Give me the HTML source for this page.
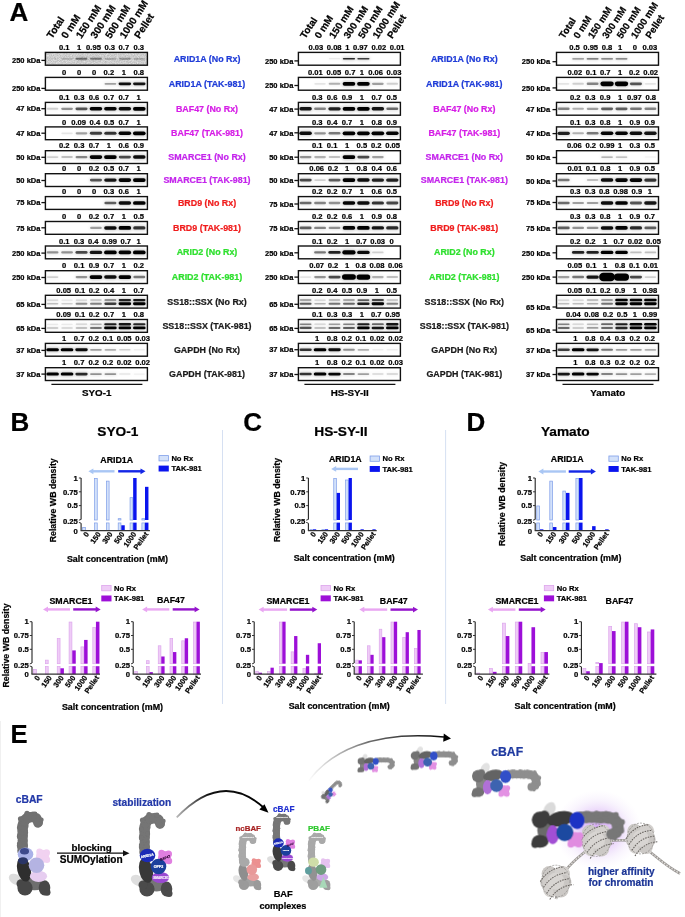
<!DOCTYPE html>
<html><head><meta charset="utf-8"><style>
html,body{margin:0;padding:0;background:#fff;}
svg{display:block;will-change:transform;}
text{font-family:"Liberation Sans",sans-serif;stroke-width:0.22px;}
</style></head><body>
<svg width="685" height="917" viewBox="0 0 685 917">
<defs>
<filter id="bl" x="-50%" y="-100%" width="200%" height="300%"><feGaussianBlur stdDeviation="0.7"/></filter>
<filter id="bl03" x="-20%" y="-20%" width="140%" height="140%"><feGaussianBlur stdDeviation="0.35"/></filter>
<filter id="bl2" x="-50%" y="-50%" width="200%" height="200%"><feGaussianBlur stdDeviation="1.5"/></filter>
<filter id="nz" x="0" y="0" width="100%" height="100%"><feTurbulence type="fractalNoise" baseFrequency="0.9" numOctaves="2" seed="3"/><feColorMatrix type="matrix" values="0 0 0 0 0  0 0 0 0 0  0 0 0 0 0  0 0 0 -1.2 1.05"/></filter>
<pattern id="noise" patternUnits="userSpaceOnUse" width="102" height="14"><rect width="102" height="14" fill="#e9e9e9"/><rect width="102" height="14" filter="url(#nz)" opacity="0.24"/></pattern>
</defs>
<rect width="685" height="917" fill="#fff"/>
<text x="9.6" y="20.8" font-size="26" font-weight="bold" stroke="#000">A</text>
<text x="52.0" y="39.3" font-size="10.2" font-weight="bold" transform="rotate(-57 52.0 39.3)" stroke="#000">Total</text>
<text x="66.6" y="39.3" font-size="10.2" font-weight="bold" transform="rotate(-57 66.6 39.3)" stroke="#000">0 mM</text>
<text x="81.2" y="39.3" font-size="10.2" font-weight="bold" transform="rotate(-57 81.2 39.3)" stroke="#000">150 mM</text>
<text x="95.8" y="39.3" font-size="10.2" font-weight="bold" transform="rotate(-57 95.8 39.3)" stroke="#000">300 mM</text>
<text x="110.4" y="39.3" font-size="10.2" font-weight="bold" transform="rotate(-57 110.4 39.3)" stroke="#000">500 mM</text>
<text x="125.0" y="39.3" font-size="10.2" font-weight="bold" transform="rotate(-57 125.0 39.3)" stroke="#000">1000 mM</text>
<text x="139.6" y="39.3" font-size="10.2" font-weight="bold" transform="rotate(-57 139.6 39.3)" stroke="#000">Pellet</text>
<rect x="45.4" y="52.4" width="102.0" height="12.8" fill="url(#noise)" stroke="#111" stroke-width="1.4"/>
<rect x="46.28" y="57.02" width="12.64" height="3.57" rx="1.78" fill="#000" fill-opacity="0.01" filter="url(#bl2)"/>
<rect x="46.88" y="58.02" width="11.44" height="1.57" rx="0.78" fill="#000" fill-opacity="0.06" filter="url(#bl)"/>
<rect x="60.70" y="56.97" width="12.70" height="3.66" rx="1.83" fill="#000" fill-opacity="0.03" filter="url(#bl2)"/>
<rect x="61.30" y="57.97" width="11.50" height="1.66" rx="0.83" fill="#000" fill-opacity="0.14" filter="url(#bl)"/>
<rect x="74.99" y="56.73" width="13.02" height="4.14" rx="2.07" fill="#000" fill-opacity="0.10" filter="url(#bl2)"/>
<rect x="75.59" y="57.73" width="11.82" height="2.14" rx="1.07" fill="#000" fill-opacity="0.44" filter="url(#bl)"/>
<rect x="89.47" y="56.77" width="12.96" height="4.05" rx="2.03" fill="#000" fill-opacity="0.09" filter="url(#bl2)"/>
<rect x="90.07" y="57.77" width="11.76" height="2.05" rx="1.03" fill="#000" fill-opacity="0.39" filter="url(#bl)"/>
<rect x="104.03" y="56.94" width="12.74" height="3.73" rx="1.86" fill="#000" fill-opacity="0.04" filter="url(#bl2)"/>
<rect x="104.63" y="57.94" width="11.54" height="1.73" rx="0.86" fill="#000" fill-opacity="0.19" filter="url(#bl)"/>
<rect x="118.43" y="56.86" width="12.84" height="3.87" rx="1.94" fill="#000" fill-opacity="0.06" filter="url(#bl2)"/>
<rect x="119.03" y="57.86" width="11.64" height="1.87" rx="0.94" fill="#000" fill-opacity="0.28" filter="url(#bl)"/>
<rect x="132.93" y="56.94" width="12.74" height="3.73" rx="1.86" fill="#000" fill-opacity="0.04" filter="url(#bl2)"/>
<rect x="133.53" y="57.94" width="11.54" height="1.73" rx="0.86" fill="#000" fill-opacity="0.19" filter="url(#bl)"/>
<line x1="41.4" y1="60.4" x2="45.4" y2="60.4" stroke="#111" stroke-width="1.3"/>
<text x="40.4" y="63.1" font-size="7.5" font-weight="bold" text-anchor="end" stroke="#000">250 kDa</text>
<text x="64.2" y="50.0" font-size="7.6" font-weight="bold" text-anchor="middle" stroke="#000">0.1</text>
<text x="79.1" y="50.0" font-size="7.6" font-weight="bold" text-anchor="middle" stroke="#000">1</text>
<text x="93.5" y="50.0" font-size="7.6" font-weight="bold" text-anchor="middle" stroke="#000">0.95</text>
<text x="109.8" y="50.0" font-size="7.6" font-weight="bold" text-anchor="middle" stroke="#000">0.3</text>
<text x="123.9" y="50.0" font-size="7.6" font-weight="bold" text-anchor="middle" stroke="#000">0.7</text>
<text x="138.7" y="50.0" font-size="7.6" font-weight="bold" text-anchor="middle" stroke="#000">0.3</text>
<rect x="45.4" y="77.4" width="102.0" height="12.8" fill="#fff" stroke="#111" stroke-width="1.4"/>
<rect x="103.95" y="81.93" width="12.90" height="3.74" rx="1.87" fill="#000" fill-opacity="0.07" filter="url(#bl2)"/>
<rect x="104.55" y="82.93" width="11.70" height="1.74" rx="0.87" fill="#000" fill-opacity="0.34" filter="url(#bl)"/>
<rect x="118.01" y="81.41" width="13.68" height="4.78" rx="2.39" fill="#000" fill-opacity="0.21" filter="url(#bl2)"/>
<rect x="118.61" y="82.41" width="12.48" height="2.78" rx="1.39" fill="#000" fill-opacity="0.94" filter="url(#bl)"/>
<rect x="132.49" y="81.45" width="13.62" height="4.70" rx="2.35" fill="#000" fill-opacity="0.20" filter="url(#bl2)"/>
<rect x="133.09" y="82.45" width="12.42" height="2.70" rx="1.35" fill="#000" fill-opacity="0.90" filter="url(#bl)"/>
<line x1="41.4" y1="88.4" x2="45.4" y2="88.4" stroke="#111" stroke-width="1.3"/>
<text x="40.4" y="91.1" font-size="7.5" font-weight="bold" text-anchor="end" stroke="#000">250 kDa</text>
<text x="64.2" y="75.0" font-size="7.6" font-weight="bold" text-anchor="middle" stroke="#000">0</text>
<text x="79.1" y="75.0" font-size="7.6" font-weight="bold" text-anchor="middle" stroke="#000">0</text>
<text x="94.0" y="75.0" font-size="7.6" font-weight="bold" text-anchor="middle" stroke="#000">0</text>
<text x="108.9" y="75.0" font-size="7.6" font-weight="bold" text-anchor="middle" stroke="#000">0.2</text>
<text x="123.8" y="75.0" font-size="7.6" font-weight="bold" text-anchor="middle" stroke="#000">1</text>
<text x="138.7" y="75.0" font-size="7.6" font-weight="bold" text-anchor="middle" stroke="#000">0.8</text>
<rect x="45.4" y="102.4" width="102.0" height="12.8" fill="#fff" stroke="#111" stroke-width="1.4"/>
<rect x="46.24" y="106.86" width="12.72" height="3.88" rx="1.94" fill="#000" fill-opacity="0.04" filter="url(#bl2)"/>
<rect x="46.84" y="107.86" width="11.52" height="1.88" rx="0.94" fill="#000" fill-opacity="0.16" filter="url(#bl)"/>
<rect x="60.57" y="106.66" width="12.96" height="4.28" rx="2.14" fill="#000" fill-opacity="0.09" filter="url(#bl2)"/>
<rect x="61.17" y="107.66" width="11.76" height="2.28" rx="1.14" fill="#000" fill-opacity="0.39" filter="url(#bl)"/>
<rect x="74.87" y="106.41" width="13.26" height="4.78" rx="2.39" fill="#000" fill-opacity="0.14" filter="url(#bl2)"/>
<rect x="75.47" y="107.41" width="12.06" height="2.78" rx="1.39" fill="#000" fill-opacity="0.63" filter="url(#bl)"/>
<rect x="89.08" y="106.01" width="13.74" height="5.58" rx="2.79" fill="#000" fill-opacity="0.22" filter="url(#bl2)"/>
<rect x="89.68" y="107.01" width="12.54" height="3.58" rx="1.79" fill="#000" fill-opacity="0.98" filter="url(#bl)"/>
<rect x="103.53" y="106.01" width="13.74" height="5.58" rx="2.79" fill="#000" fill-opacity="0.22" filter="url(#bl2)"/>
<rect x="104.13" y="107.01" width="12.54" height="3.58" rx="1.79" fill="#000" fill-opacity="0.98" filter="url(#bl)"/>
<rect x="118.01" y="106.06" width="13.68" height="5.48" rx="2.74" fill="#000" fill-opacity="0.21" filter="url(#bl2)"/>
<rect x="118.61" y="107.06" width="12.48" height="3.48" rx="1.74" fill="#000" fill-opacity="0.94" filter="url(#bl)"/>
<rect x="132.40" y="105.96" width="13.80" height="5.68" rx="2.84" fill="#000" fill-opacity="0.22" filter="url(#bl2)"/>
<rect x="133.00" y="106.96" width="12.60" height="3.68" rx="1.84" fill="#000" fill-opacity="1.00" filter="url(#bl)"/>
<line x1="41.4" y1="108.7" x2="45.4" y2="108.7" stroke="#111" stroke-width="1.3"/>
<text x="40.4" y="111.4" font-size="7.5" font-weight="bold" text-anchor="end" stroke="#000">47 kDa</text>
<text x="64.2" y="100.0" font-size="7.6" font-weight="bold" text-anchor="middle" stroke="#000">0.1</text>
<text x="79.1" y="100.0" font-size="7.6" font-weight="bold" text-anchor="middle" stroke="#000">0.3</text>
<text x="94.0" y="100.0" font-size="7.6" font-weight="bold" text-anchor="middle" stroke="#000">0.6</text>
<text x="108.9" y="100.0" font-size="7.6" font-weight="bold" text-anchor="middle" stroke="#000">0.7</text>
<text x="123.8" y="100.0" font-size="7.6" font-weight="bold" text-anchor="middle" stroke="#000">0.7</text>
<text x="138.7" y="100.0" font-size="7.6" font-weight="bold" text-anchor="middle" stroke="#000">1</text>
<rect x="45.4" y="126.9" width="102.0" height="12.8" fill="#fff" stroke="#111" stroke-width="1.4"/>
<rect x="60.72" y="131.41" width="12.66" height="3.78" rx="1.89" fill="#000" fill-opacity="0.02" filter="url(#bl2)"/>
<rect x="61.32" y="132.41" width="11.46" height="1.78" rx="0.89" fill="#000" fill-opacity="0.09" filter="url(#bl)"/>
<rect x="75.05" y="131.21" width="12.90" height="4.18" rx="2.09" fill="#000" fill-opacity="0.07" filter="url(#bl2)"/>
<rect x="75.65" y="132.21" width="11.70" height="2.18" rx="1.09" fill="#000" fill-opacity="0.34" filter="url(#bl)"/>
<rect x="89.26" y="130.81" width="13.38" height="4.98" rx="2.49" fill="#000" fill-opacity="0.16" filter="url(#bl2)"/>
<rect x="89.86" y="131.81" width="12.18" height="2.98" rx="1.49" fill="#000" fill-opacity="0.72" filter="url(#bl)"/>
<rect x="103.68" y="130.76" width="13.44" height="5.08" rx="2.54" fill="#000" fill-opacity="0.17" filter="url(#bl2)"/>
<rect x="104.28" y="131.76" width="12.24" height="3.08" rx="1.54" fill="#000" fill-opacity="0.77" filter="url(#bl)"/>
<rect x="117.98" y="130.51" width="13.74" height="5.58" rx="2.79" fill="#000" fill-opacity="0.22" filter="url(#bl2)"/>
<rect x="118.58" y="131.51" width="12.54" height="3.58" rx="1.79" fill="#000" fill-opacity="0.98" filter="url(#bl)"/>
<rect x="132.40" y="130.46" width="13.80" height="5.68" rx="2.84" fill="#000" fill-opacity="0.22" filter="url(#bl2)"/>
<rect x="133.00" y="131.46" width="12.60" height="3.68" rx="1.84" fill="#000" fill-opacity="1.00" filter="url(#bl)"/>
<line x1="41.4" y1="133.2" x2="45.4" y2="133.2" stroke="#111" stroke-width="1.3"/>
<text x="40.4" y="135.9" font-size="7.5" font-weight="bold" text-anchor="end" stroke="#000">47 kDa</text>
<text x="64.2" y="124.5" font-size="7.6" font-weight="bold" text-anchor="middle" stroke="#000">0</text>
<text x="78.6" y="124.5" font-size="7.6" font-weight="bold" text-anchor="middle" stroke="#000">0.09</text>
<text x="94.9" y="124.5" font-size="7.6" font-weight="bold" text-anchor="middle" stroke="#000">0.4</text>
<text x="109.0" y="124.5" font-size="7.6" font-weight="bold" text-anchor="middle" stroke="#000">0.5</text>
<text x="123.8" y="124.5" font-size="7.6" font-weight="bold" text-anchor="middle" stroke="#000">0.7</text>
<text x="138.7" y="124.5" font-size="7.6" font-weight="bold" text-anchor="middle" stroke="#000">1</text>
<rect x="45.4" y="150.7" width="102.0" height="12.8" fill="#fff" stroke="#111" stroke-width="1.4"/>
<rect x="46.24" y="155.16" width="12.72" height="3.88" rx="1.94" fill="#000" fill-opacity="0.04" filter="url(#bl2)"/>
<rect x="46.84" y="156.16" width="11.52" height="1.88" rx="0.94" fill="#000" fill-opacity="0.16" filter="url(#bl)"/>
<rect x="60.66" y="155.11" width="12.78" height="3.98" rx="1.99" fill="#000" fill-opacity="0.05" filter="url(#bl2)"/>
<rect x="61.26" y="156.11" width="11.58" height="1.98" rx="0.99" fill="#000" fill-opacity="0.22" filter="url(#bl)"/>
<rect x="74.99" y="154.91" width="13.02" height="4.38" rx="2.19" fill="#000" fill-opacity="0.10" filter="url(#bl2)"/>
<rect x="75.59" y="155.91" width="11.82" height="2.38" rx="1.19" fill="#000" fill-opacity="0.44" filter="url(#bl)"/>
<rect x="89.08" y="154.31" width="13.74" height="5.58" rx="2.79" fill="#000" fill-opacity="0.22" filter="url(#bl2)"/>
<rect x="89.68" y="155.31" width="12.54" height="3.58" rx="1.79" fill="#000" fill-opacity="0.98" filter="url(#bl)"/>
<rect x="103.50" y="154.26" width="13.80" height="5.68" rx="2.84" fill="#000" fill-opacity="0.22" filter="url(#bl2)"/>
<rect x="104.10" y="155.26" width="12.60" height="3.68" rx="1.84" fill="#000" fill-opacity="1.00" filter="url(#bl)"/>
<rect x="118.19" y="154.66" width="13.32" height="4.88" rx="2.44" fill="#000" fill-opacity="0.15" filter="url(#bl2)"/>
<rect x="118.79" y="155.66" width="12.12" height="2.88" rx="1.44" fill="#000" fill-opacity="0.68" filter="url(#bl)"/>
<rect x="132.46" y="154.36" width="13.68" height="5.48" rx="2.74" fill="#000" fill-opacity="0.21" filter="url(#bl2)"/>
<rect x="133.06" y="155.36" width="12.48" height="3.48" rx="1.74" fill="#000" fill-opacity="0.94" filter="url(#bl)"/>
<line x1="41.4" y1="157.3" x2="45.4" y2="157.3" stroke="#111" stroke-width="1.3"/>
<text x="40.4" y="160.0" font-size="7.5" font-weight="bold" text-anchor="end" stroke="#000">50 kDa</text>
<text x="64.2" y="148.3" font-size="7.6" font-weight="bold" text-anchor="middle" stroke="#000">0.2</text>
<text x="79.1" y="148.3" font-size="7.6" font-weight="bold" text-anchor="middle" stroke="#000">0.3</text>
<text x="94.0" y="148.3" font-size="7.6" font-weight="bold" text-anchor="middle" stroke="#000">0.7</text>
<text x="108.9" y="148.3" font-size="7.6" font-weight="bold" text-anchor="middle" stroke="#000">1</text>
<text x="123.8" y="148.3" font-size="7.6" font-weight="bold" text-anchor="middle" stroke="#000">0.6</text>
<text x="138.7" y="148.3" font-size="7.6" font-weight="bold" text-anchor="middle" stroke="#000">0.9</text>
<rect x="45.4" y="173.7" width="102.0" height="12.8" fill="#fff" stroke="#111" stroke-width="1.4"/>
<rect x="89.32" y="177.71" width="13.26" height="4.78" rx="2.39" fill="#000" fill-opacity="0.14" filter="url(#bl2)"/>
<rect x="89.92" y="178.71" width="12.06" height="2.78" rx="1.39" fill="#000" fill-opacity="0.63" filter="url(#bl)"/>
<rect x="103.59" y="177.41" width="13.62" height="5.38" rx="2.69" fill="#000" fill-opacity="0.20" filter="url(#bl2)"/>
<rect x="104.19" y="178.41" width="12.42" height="3.38" rx="1.69" fill="#000" fill-opacity="0.90" filter="url(#bl)"/>
<rect x="117.98" y="177.31" width="13.74" height="5.58" rx="2.79" fill="#000" fill-opacity="0.22" filter="url(#bl2)"/>
<rect x="118.58" y="178.31" width="12.54" height="3.58" rx="1.79" fill="#000" fill-opacity="0.98" filter="url(#bl)"/>
<rect x="132.40" y="177.26" width="13.80" height="5.68" rx="2.84" fill="#000" fill-opacity="0.22" filter="url(#bl2)"/>
<rect x="133.00" y="178.26" width="12.60" height="3.68" rx="1.84" fill="#000" fill-opacity="1.00" filter="url(#bl)"/>
<line x1="41.4" y1="180.5" x2="45.4" y2="180.5" stroke="#111" stroke-width="1.3"/>
<text x="40.4" y="183.2" font-size="7.5" font-weight="bold" text-anchor="end" stroke="#000">50 kDa</text>
<text x="64.2" y="171.3" font-size="7.6" font-weight="bold" text-anchor="middle" stroke="#000">0</text>
<text x="79.1" y="171.3" font-size="7.6" font-weight="bold" text-anchor="middle" stroke="#000">0</text>
<text x="94.0" y="171.3" font-size="7.6" font-weight="bold" text-anchor="middle" stroke="#000">0.2</text>
<text x="108.9" y="171.3" font-size="7.6" font-weight="bold" text-anchor="middle" stroke="#000">0.5</text>
<text x="123.8" y="171.3" font-size="7.6" font-weight="bold" text-anchor="middle" stroke="#000">0.7</text>
<text x="138.7" y="171.3" font-size="7.6" font-weight="bold" text-anchor="middle" stroke="#000">1</text>
<rect x="45.4" y="196.6" width="102.0" height="12.8" fill="#fff" stroke="#111" stroke-width="1.4"/>
<rect x="103.80" y="200.66" width="13.20" height="4.68" rx="2.34" fill="#000" fill-opacity="0.13" filter="url(#bl2)"/>
<rect x="104.40" y="201.66" width="12.00" height="2.68" rx="1.34" fill="#000" fill-opacity="0.59" filter="url(#bl)"/>
<rect x="118.01" y="200.26" width="13.68" height="5.48" rx="2.74" fill="#000" fill-opacity="0.21" filter="url(#bl2)"/>
<rect x="118.61" y="201.26" width="12.48" height="3.48" rx="1.74" fill="#000" fill-opacity="0.94" filter="url(#bl)"/>
<rect x="132.40" y="200.16" width="13.80" height="5.68" rx="2.84" fill="#000" fill-opacity="0.22" filter="url(#bl2)"/>
<rect x="133.00" y="201.16" width="12.60" height="3.68" rx="1.84" fill="#000" fill-opacity="1.00" filter="url(#bl)"/>
<line x1="41.4" y1="202.6" x2="45.4" y2="202.6" stroke="#111" stroke-width="1.3"/>
<text x="40.4" y="205.3" font-size="7.5" font-weight="bold" text-anchor="end" stroke="#000">75 kDa</text>
<text x="64.2" y="194.2" font-size="7.6" font-weight="bold" text-anchor="middle" stroke="#000">0</text>
<text x="79.1" y="194.2" font-size="7.6" font-weight="bold" text-anchor="middle" stroke="#000">0</text>
<text x="94.0" y="194.2" font-size="7.6" font-weight="bold" text-anchor="middle" stroke="#000">0</text>
<text x="108.9" y="194.2" font-size="7.6" font-weight="bold" text-anchor="middle" stroke="#000">0.3</text>
<text x="123.8" y="194.2" font-size="7.6" font-weight="bold" text-anchor="middle" stroke="#000">0.6</text>
<text x="138.7" y="194.2" font-size="7.6" font-weight="bold" text-anchor="middle" stroke="#000">1</text>
<rect x="45.4" y="221.5" width="102.0" height="12.8" fill="#fff" stroke="#111" stroke-width="1.4"/>
<rect x="89.50" y="225.81" width="12.90" height="4.18" rx="2.09" fill="#000" fill-opacity="0.07" filter="url(#bl2)"/>
<rect x="90.10" y="226.81" width="11.70" height="2.18" rx="1.09" fill="#000" fill-opacity="0.34" filter="url(#bl)"/>
<rect x="103.56" y="225.16" width="13.68" height="5.48" rx="2.74" fill="#000" fill-opacity="0.21" filter="url(#bl2)"/>
<rect x="104.16" y="226.16" width="12.48" height="3.48" rx="1.74" fill="#000" fill-opacity="0.94" filter="url(#bl)"/>
<rect x="117.95" y="225.06" width="13.80" height="5.68" rx="2.84" fill="#000" fill-opacity="0.22" filter="url(#bl2)"/>
<rect x="118.55" y="226.06" width="12.60" height="3.68" rx="1.84" fill="#000" fill-opacity="1.00" filter="url(#bl)"/>
<rect x="132.58" y="225.36" width="13.44" height="5.08" rx="2.54" fill="#000" fill-opacity="0.17" filter="url(#bl2)"/>
<rect x="133.18" y="226.36" width="12.24" height="3.08" rx="1.54" fill="#000" fill-opacity="0.77" filter="url(#bl)"/>
<line x1="41.4" y1="227.8" x2="45.4" y2="227.8" stroke="#111" stroke-width="1.3"/>
<text x="40.4" y="230.5" font-size="7.5" font-weight="bold" text-anchor="end" stroke="#000">75 kDa</text>
<text x="64.2" y="219.1" font-size="7.6" font-weight="bold" text-anchor="middle" stroke="#000">0</text>
<text x="79.1" y="219.1" font-size="7.6" font-weight="bold" text-anchor="middle" stroke="#000">0</text>
<text x="94.0" y="219.1" font-size="7.6" font-weight="bold" text-anchor="middle" stroke="#000">0.2</text>
<text x="108.9" y="219.1" font-size="7.6" font-weight="bold" text-anchor="middle" stroke="#000">0.7</text>
<text x="123.8" y="219.1" font-size="7.6" font-weight="bold" text-anchor="middle" stroke="#000">1</text>
<text x="138.7" y="219.1" font-size="7.6" font-weight="bold" text-anchor="middle" stroke="#000">0.5</text>
<rect x="45.4" y="246.0" width="102.0" height="12.8" fill="#fff" stroke="#111" stroke-width="1.4"/>
<rect x="46.12" y="250.26" width="12.96" height="4.28" rx="2.14" fill="#000" fill-opacity="0.09" filter="url(#bl2)"/>
<rect x="46.72" y="251.26" width="11.76" height="2.28" rx="1.14" fill="#000" fill-opacity="0.39" filter="url(#bl)"/>
<rect x="60.57" y="250.26" width="12.96" height="4.28" rx="2.14" fill="#000" fill-opacity="0.09" filter="url(#bl2)"/>
<rect x="61.17" y="251.26" width="11.76" height="2.28" rx="1.14" fill="#000" fill-opacity="0.39" filter="url(#bl)"/>
<rect x="74.84" y="249.96" width="13.32" height="4.88" rx="2.44" fill="#000" fill-opacity="0.15" filter="url(#bl2)"/>
<rect x="75.44" y="250.96" width="12.12" height="2.88" rx="1.44" fill="#000" fill-opacity="0.68" filter="url(#bl)"/>
<rect x="89.14" y="249.71" width="13.62" height="5.38" rx="2.69" fill="#000" fill-opacity="0.20" filter="url(#bl2)"/>
<rect x="89.74" y="250.71" width="12.42" height="3.38" rx="1.69" fill="#000" fill-opacity="0.90" filter="url(#bl)"/>
<rect x="103.50" y="249.56" width="13.80" height="5.68" rx="2.84" fill="#000" fill-opacity="0.22" filter="url(#bl2)"/>
<rect x="104.10" y="250.56" width="12.60" height="3.68" rx="1.84" fill="#000" fill-opacity="1.00" filter="url(#bl)"/>
<rect x="117.98" y="249.61" width="13.74" height="5.58" rx="2.79" fill="#000" fill-opacity="0.22" filter="url(#bl2)"/>
<rect x="118.58" y="250.61" width="12.54" height="3.58" rx="1.79" fill="#000" fill-opacity="0.98" filter="url(#bl)"/>
<rect x="132.40" y="249.56" width="13.80" height="5.68" rx="2.84" fill="#000" fill-opacity="0.22" filter="url(#bl2)"/>
<rect x="133.00" y="250.56" width="12.60" height="3.68" rx="1.84" fill="#000" fill-opacity="1.00" filter="url(#bl)"/>
<line x1="41.4" y1="253.1" x2="45.4" y2="253.1" stroke="#111" stroke-width="1.3"/>
<text x="40.4" y="255.8" font-size="7.5" font-weight="bold" text-anchor="end" stroke="#000">250 kDa</text>
<text x="64.2" y="243.6" font-size="7.6" font-weight="bold" text-anchor="middle" stroke="#000">0.1</text>
<text x="79.0" y="243.6" font-size="7.6" font-weight="bold" text-anchor="middle" stroke="#000">0.3</text>
<text x="93.2" y="243.6" font-size="7.6" font-weight="bold" text-anchor="middle" stroke="#000">0.4</text>
<text x="109.5" y="243.6" font-size="7.6" font-weight="bold" text-anchor="middle" stroke="#000">0.99</text>
<text x="125.8" y="243.6" font-size="7.6" font-weight="bold" text-anchor="middle" stroke="#000">0.7</text>
<text x="138.7" y="243.6" font-size="7.6" font-weight="bold" text-anchor="middle" stroke="#000">1</text>
<rect x="45.4" y="270.7" width="102.0" height="12.8" fill="#fff" stroke="#111" stroke-width="1.4"/>
<rect x="46.24" y="275.16" width="12.72" height="3.88" rx="1.94" fill="#000" fill-opacity="0.04" filter="url(#bl2)"/>
<rect x="46.84" y="276.16" width="11.52" height="1.88" rx="0.94" fill="#000" fill-opacity="0.16" filter="url(#bl)"/>
<rect x="75.02" y="274.96" width="12.96" height="4.28" rx="2.14" fill="#000" fill-opacity="0.09" filter="url(#bl2)"/>
<rect x="75.62" y="275.96" width="11.76" height="2.28" rx="1.14" fill="#000" fill-opacity="0.39" filter="url(#bl)"/>
<rect x="89.05" y="274.26" width="13.80" height="5.68" rx="2.84" fill="#000" fill-opacity="0.22" filter="url(#bl2)"/>
<rect x="89.65" y="275.26" width="12.60" height="3.68" rx="1.84" fill="#000" fill-opacity="1.00" filter="url(#bl)"/>
<rect x="103.56" y="274.36" width="13.68" height="5.48" rx="2.74" fill="#000" fill-opacity="0.21" filter="url(#bl2)"/>
<rect x="104.16" y="275.36" width="12.48" height="3.48" rx="1.74" fill="#000" fill-opacity="0.94" filter="url(#bl)"/>
<rect x="117.95" y="274.26" width="13.80" height="5.68" rx="2.84" fill="#000" fill-opacity="0.22" filter="url(#bl2)"/>
<rect x="118.55" y="275.26" width="12.60" height="3.68" rx="1.84" fill="#000" fill-opacity="1.00" filter="url(#bl)"/>
<rect x="132.76" y="274.86" width="13.08" height="4.48" rx="2.24" fill="#000" fill-opacity="0.11" filter="url(#bl2)"/>
<rect x="133.36" y="275.86" width="11.88" height="2.48" rx="1.24" fill="#000" fill-opacity="0.49" filter="url(#bl)"/>
<line x1="41.4" y1="277.5" x2="45.4" y2="277.5" stroke="#111" stroke-width="1.3"/>
<text x="40.4" y="280.2" font-size="7.5" font-weight="bold" text-anchor="end" stroke="#000">250 kDa</text>
<text x="64.2" y="268.3" font-size="7.6" font-weight="bold" text-anchor="middle" stroke="#000">0</text>
<text x="79.1" y="268.3" font-size="7.6" font-weight="bold" text-anchor="middle" stroke="#000">0.1</text>
<text x="94.0" y="268.3" font-size="7.6" font-weight="bold" text-anchor="middle" stroke="#000">0.9</text>
<text x="108.9" y="268.3" font-size="7.6" font-weight="bold" text-anchor="middle" stroke="#000">0.7</text>
<text x="123.8" y="268.3" font-size="7.6" font-weight="bold" text-anchor="middle" stroke="#000">1</text>
<text x="138.7" y="268.3" font-size="7.6" font-weight="bold" text-anchor="middle" stroke="#000">0.2</text>
<rect x="45.4" y="295.3" width="102.0" height="12.8" fill="#fff" stroke="#111" stroke-width="1.4"/>
<rect x="46.24" y="298.40" width="12.72" height="3.27" rx="1.63" fill="#000" fill-opacity="0.04" filter="url(#bl2)"/>
<rect x="46.84" y="299.40" width="11.52" height="1.27" rx="0.63" fill="#000" fill-opacity="0.16" filter="url(#bl)"/>
<rect x="60.72" y="298.44" width="12.66" height="3.20" rx="1.60" fill="#000" fill-opacity="0.02" filter="url(#bl2)"/>
<rect x="61.32" y="299.44" width="11.46" height="1.20" rx="0.60" fill="#000" fill-opacity="0.09" filter="url(#bl)"/>
<rect x="75.14" y="298.40" width="12.72" height="3.27" rx="1.63" fill="#000" fill-opacity="0.04" filter="url(#bl2)"/>
<rect x="75.74" y="299.40" width="11.52" height="1.27" rx="0.63" fill="#000" fill-opacity="0.16" filter="url(#bl)"/>
<rect x="89.56" y="298.37" width="12.78" height="3.34" rx="1.67" fill="#000" fill-opacity="0.05" filter="url(#bl2)"/>
<rect x="90.16" y="299.37" width="11.58" height="1.34" rx="0.67" fill="#000" fill-opacity="0.22" filter="url(#bl)"/>
<rect x="103.86" y="298.20" width="13.08" height="3.67" rx="1.84" fill="#000" fill-opacity="0.11" filter="url(#bl2)"/>
<rect x="104.46" y="299.20" width="11.88" height="1.67" rx="0.84" fill="#000" fill-opacity="0.49" filter="url(#bl)"/>
<rect x="118.07" y="297.93" width="13.56" height="4.21" rx="2.11" fill="#000" fill-opacity="0.19" filter="url(#bl2)"/>
<rect x="118.67" y="298.93" width="12.36" height="2.21" rx="1.11" fill="#000" fill-opacity="0.85" filter="url(#bl)"/>
<rect x="132.49" y="297.90" width="13.62" height="4.28" rx="2.14" fill="#000" fill-opacity="0.20" filter="url(#bl2)"/>
<rect x="133.09" y="298.90" width="12.42" height="2.28" rx="1.14" fill="#000" fill-opacity="0.90" filter="url(#bl)"/>
<rect x="46.21" y="301.98" width="12.78" height="3.53" rx="1.77" fill="#000" fill-opacity="0.05" filter="url(#bl2)"/>
<rect x="46.81" y="302.98" width="11.58" height="1.53" rx="0.77" fill="#000" fill-opacity="0.22" filter="url(#bl)"/>
<rect x="60.69" y="302.02" width="12.72" height="3.46" rx="1.73" fill="#000" fill-opacity="0.04" filter="url(#bl2)"/>
<rect x="61.29" y="303.02" width="11.52" height="1.46" rx="0.73" fill="#000" fill-opacity="0.16" filter="url(#bl)"/>
<rect x="75.02" y="301.86" width="12.96" height="3.77" rx="1.88" fill="#000" fill-opacity="0.09" filter="url(#bl2)"/>
<rect x="75.62" y="302.86" width="11.76" height="1.77" rx="0.88" fill="#000" fill-opacity="0.39" filter="url(#bl)"/>
<rect x="89.44" y="301.83" width="13.02" height="3.84" rx="1.92" fill="#000" fill-opacity="0.10" filter="url(#bl2)"/>
<rect x="90.04" y="302.83" width="11.82" height="1.84" rx="0.92" fill="#000" fill-opacity="0.44" filter="url(#bl)"/>
<rect x="103.71" y="301.59" width="13.38" height="4.31" rx="2.15" fill="#000" fill-opacity="0.16" filter="url(#bl2)"/>
<rect x="104.31" y="302.59" width="12.18" height="2.31" rx="1.15" fill="#000" fill-opacity="0.72" filter="url(#bl)"/>
<rect x="117.95" y="301.32" width="13.80" height="4.85" rx="2.43" fill="#000" fill-opacity="0.22" filter="url(#bl2)"/>
<rect x="118.55" y="302.32" width="12.60" height="2.85" rx="1.43" fill="#000" fill-opacity="1.00" filter="url(#bl)"/>
<rect x="132.40" y="301.32" width="13.80" height="4.85" rx="2.43" fill="#000" fill-opacity="0.22" filter="url(#bl2)"/>
<rect x="133.00" y="302.32" width="12.60" height="2.85" rx="1.43" fill="#000" fill-opacity="1.00" filter="url(#bl)"/>
<line x1="41.4" y1="304.4" x2="45.4" y2="304.4" stroke="#111" stroke-width="1.3"/>
<text x="40.4" y="307.1" font-size="7.5" font-weight="bold" text-anchor="end" stroke="#000">65 kDa</text>
<text x="63.7" y="292.9" font-size="7.6" font-weight="bold" text-anchor="middle" stroke="#000">0.05</text>
<text x="80.0" y="292.9" font-size="7.6" font-weight="bold" text-anchor="middle" stroke="#000">0.1</text>
<text x="94.1" y="292.9" font-size="7.6" font-weight="bold" text-anchor="middle" stroke="#000">0.2</text>
<text x="108.9" y="292.9" font-size="7.6" font-weight="bold" text-anchor="middle" stroke="#000">0.4</text>
<text x="123.8" y="292.9" font-size="7.6" font-weight="bold" text-anchor="middle" stroke="#000">1</text>
<text x="138.7" y="292.9" font-size="7.6" font-weight="bold" text-anchor="middle" stroke="#000">0.7</text>
<rect x="45.4" y="319.5" width="102.0" height="12.8" fill="#fff" stroke="#111" stroke-width="1.4"/>
<rect x="46.27" y="322.64" width="12.66" height="3.20" rx="1.60" fill="#000" fill-opacity="0.02" filter="url(#bl2)"/>
<rect x="46.87" y="323.64" width="11.46" height="1.20" rx="0.60" fill="#000" fill-opacity="0.09" filter="url(#bl)"/>
<rect x="60.72" y="322.64" width="12.66" height="3.20" rx="1.60" fill="#000" fill-opacity="0.02" filter="url(#bl2)"/>
<rect x="61.32" y="323.64" width="11.46" height="1.20" rx="0.60" fill="#000" fill-opacity="0.09" filter="url(#bl)"/>
<rect x="75.14" y="322.60" width="12.72" height="3.27" rx="1.63" fill="#000" fill-opacity="0.04" filter="url(#bl2)"/>
<rect x="75.74" y="323.60" width="11.52" height="1.27" rx="0.63" fill="#000" fill-opacity="0.16" filter="url(#bl)"/>
<rect x="89.53" y="322.53" width="12.84" height="3.40" rx="1.70" fill="#000" fill-opacity="0.06" filter="url(#bl2)"/>
<rect x="90.13" y="323.53" width="11.64" height="1.40" rx="0.70" fill="#000" fill-opacity="0.28" filter="url(#bl)"/>
<rect x="103.62" y="322.13" width="13.56" height="4.21" rx="2.11" fill="#000" fill-opacity="0.19" filter="url(#bl2)"/>
<rect x="104.22" y="323.13" width="12.36" height="2.21" rx="1.11" fill="#000" fill-opacity="0.85" filter="url(#bl)"/>
<rect x="118.04" y="322.10" width="13.62" height="4.28" rx="2.14" fill="#000" fill-opacity="0.20" filter="url(#bl2)"/>
<rect x="118.64" y="323.10" width="12.42" height="2.28" rx="1.14" fill="#000" fill-opacity="0.90" filter="url(#bl)"/>
<rect x="132.55" y="322.16" width="13.50" height="4.15" rx="2.07" fill="#000" fill-opacity="0.18" filter="url(#bl2)"/>
<rect x="133.15" y="323.16" width="12.30" height="2.15" rx="1.07" fill="#000" fill-opacity="0.81" filter="url(#bl)"/>
<rect x="46.21" y="326.18" width="12.78" height="3.53" rx="1.77" fill="#000" fill-opacity="0.05" filter="url(#bl2)"/>
<rect x="46.81" y="327.18" width="11.58" height="1.53" rx="0.77" fill="#000" fill-opacity="0.22" filter="url(#bl)"/>
<rect x="60.69" y="326.22" width="12.72" height="3.46" rx="1.73" fill="#000" fill-opacity="0.04" filter="url(#bl2)"/>
<rect x="61.29" y="327.22" width="11.52" height="1.46" rx="0.73" fill="#000" fill-opacity="0.16" filter="url(#bl)"/>
<rect x="75.08" y="326.14" width="12.84" height="3.61" rx="1.81" fill="#000" fill-opacity="0.06" filter="url(#bl2)"/>
<rect x="75.68" y="327.14" width="11.64" height="1.61" rx="0.81" fill="#000" fill-opacity="0.28" filter="url(#bl)"/>
<rect x="89.41" y="325.99" width="13.08" height="3.92" rx="1.96" fill="#000" fill-opacity="0.11" filter="url(#bl2)"/>
<rect x="90.01" y="326.99" width="11.88" height="1.92" rx="0.96" fill="#000" fill-opacity="0.49" filter="url(#bl)"/>
<rect x="103.50" y="325.52" width="13.80" height="4.85" rx="2.43" fill="#000" fill-opacity="0.22" filter="url(#bl2)"/>
<rect x="104.10" y="326.52" width="12.60" height="2.85" rx="1.43" fill="#000" fill-opacity="1.00" filter="url(#bl)"/>
<rect x="117.95" y="325.52" width="13.80" height="4.85" rx="2.43" fill="#000" fill-opacity="0.22" filter="url(#bl2)"/>
<rect x="118.55" y="326.52" width="12.60" height="2.85" rx="1.43" fill="#000" fill-opacity="1.00" filter="url(#bl)"/>
<rect x="132.40" y="325.52" width="13.80" height="4.85" rx="2.43" fill="#000" fill-opacity="0.22" filter="url(#bl2)"/>
<rect x="133.00" y="326.52" width="12.60" height="2.85" rx="1.43" fill="#000" fill-opacity="1.00" filter="url(#bl)"/>
<line x1="41.4" y1="328.4" x2="45.4" y2="328.4" stroke="#111" stroke-width="1.3"/>
<text x="40.4" y="331.1" font-size="7.5" font-weight="bold" text-anchor="end" stroke="#000">65 kDa</text>
<text x="63.7" y="317.1" font-size="7.6" font-weight="bold" text-anchor="middle" stroke="#000">0.09</text>
<text x="80.0" y="317.1" font-size="7.6" font-weight="bold" text-anchor="middle" stroke="#000">0.1</text>
<text x="94.1" y="317.1" font-size="7.6" font-weight="bold" text-anchor="middle" stroke="#000">0.2</text>
<text x="108.9" y="317.1" font-size="7.6" font-weight="bold" text-anchor="middle" stroke="#000">0.7</text>
<text x="123.8" y="317.1" font-size="7.6" font-weight="bold" text-anchor="middle" stroke="#000">1</text>
<text x="138.7" y="317.1" font-size="7.6" font-weight="bold" text-anchor="middle" stroke="#000">0.8</text>
<rect x="45.4" y="343.4" width="102.0" height="12.8" fill="#fff" stroke="#111" stroke-width="1.4"/>
<rect x="45.70" y="347.29" width="13.80" height="5.02" rx="2.51" fill="#000" fill-opacity="0.22" filter="url(#bl2)"/>
<rect x="46.30" y="348.29" width="12.60" height="3.02" rx="1.51" fill="#000" fill-opacity="1.00" filter="url(#bl)"/>
<rect x="60.15" y="347.29" width="13.80" height="5.02" rx="2.51" fill="#000" fill-opacity="0.22" filter="url(#bl2)"/>
<rect x="60.75" y="348.29" width="12.60" height="3.02" rx="1.51" fill="#000" fill-opacity="1.00" filter="url(#bl)"/>
<rect x="74.66" y="347.37" width="13.68" height="4.85" rx="2.43" fill="#000" fill-opacity="0.21" filter="url(#bl2)"/>
<rect x="75.26" y="348.37" width="12.48" height="2.85" rx="1.43" fill="#000" fill-opacity="0.94" filter="url(#bl)"/>
<rect x="89.50" y="347.91" width="12.90" height="3.79" rx="1.89" fill="#000" fill-opacity="0.07" filter="url(#bl2)"/>
<rect x="90.10" y="348.91" width="11.70" height="1.79" rx="0.89" fill="#000" fill-opacity="0.34" filter="url(#bl)"/>
<rect x="103.98" y="347.95" width="12.84" height="3.71" rx="1.85" fill="#000" fill-opacity="0.06" filter="url(#bl2)"/>
<rect x="104.58" y="348.95" width="11.64" height="1.71" rx="0.85" fill="#000" fill-opacity="0.28" filter="url(#bl)"/>
<rect x="118.49" y="348.03" width="12.72" height="3.54" rx="1.77" fill="#000" fill-opacity="0.04" filter="url(#bl2)"/>
<rect x="119.09" y="349.03" width="11.52" height="1.54" rx="0.77" fill="#000" fill-opacity="0.16" filter="url(#bl)"/>
<rect x="132.98" y="348.09" width="12.64" height="3.43" rx="1.71" fill="#000" fill-opacity="0.01" filter="url(#bl2)"/>
<rect x="133.58" y="349.09" width="11.44" height="1.43" rx="0.71" fill="#000" fill-opacity="0.06" filter="url(#bl)"/>
<line x1="41.4" y1="350.4" x2="45.4" y2="350.4" stroke="#111" stroke-width="1.3"/>
<text x="40.4" y="353.1" font-size="7.5" font-weight="bold" text-anchor="end" stroke="#000">37 kDa</text>
<text x="64.2" y="341.0" font-size="7.6" font-weight="bold" text-anchor="middle" stroke="#000">1</text>
<text x="79.1" y="341.0" font-size="7.6" font-weight="bold" text-anchor="middle" stroke="#000">0.7</text>
<text x="93.8" y="341.0" font-size="7.6" font-weight="bold" text-anchor="middle" stroke="#000">0.2</text>
<text x="107.9" y="341.0" font-size="7.6" font-weight="bold" text-anchor="middle" stroke="#000">0.1</text>
<text x="124.2" y="341.0" font-size="7.6" font-weight="bold" text-anchor="middle" stroke="#000">0.05</text>
<text x="142.6" y="341.0" font-size="7.6" font-weight="bold" text-anchor="middle" stroke="#000">0.03</text>
<rect x="45.4" y="367.7" width="102.0" height="12.8" fill="#fff" stroke="#111" stroke-width="1.4"/>
<rect x="45.70" y="371.59" width="13.80" height="5.02" rx="2.51" fill="#000" fill-opacity="0.22" filter="url(#bl2)"/>
<rect x="46.30" y="372.59" width="12.60" height="3.02" rx="1.51" fill="#000" fill-opacity="1.00" filter="url(#bl)"/>
<rect x="60.15" y="371.59" width="13.80" height="5.02" rx="2.51" fill="#000" fill-opacity="0.22" filter="url(#bl2)"/>
<rect x="60.75" y="372.59" width="12.60" height="3.02" rx="1.51" fill="#000" fill-opacity="1.00" filter="url(#bl)"/>
<rect x="74.75" y="371.80" width="13.50" height="4.61" rx="2.30" fill="#000" fill-opacity="0.18" filter="url(#bl2)"/>
<rect x="75.35" y="372.80" width="12.30" height="2.61" rx="1.30" fill="#000" fill-opacity="0.81" filter="url(#bl)"/>
<rect x="89.47" y="372.17" width="12.96" height="3.87" rx="1.93" fill="#000" fill-opacity="0.09" filter="url(#bl2)"/>
<rect x="90.07" y="373.17" width="11.76" height="1.87" rx="0.93" fill="#000" fill-opacity="0.39" filter="url(#bl)"/>
<rect x="103.92" y="372.17" width="12.96" height="3.87" rx="1.93" fill="#000" fill-opacity="0.09" filter="url(#bl2)"/>
<rect x="104.52" y="373.17" width="11.76" height="1.87" rx="0.93" fill="#000" fill-opacity="0.39" filter="url(#bl)"/>
<rect x="118.52" y="372.37" width="12.66" height="3.46" rx="1.73" fill="#000" fill-opacity="0.02" filter="url(#bl2)"/>
<rect x="119.12" y="373.37" width="11.46" height="1.46" rx="0.73" fill="#000" fill-opacity="0.09" filter="url(#bl)"/>
<rect x="132.98" y="372.39" width="12.64" height="3.43" rx="1.71" fill="#000" fill-opacity="0.01" filter="url(#bl2)"/>
<rect x="133.58" y="373.39" width="11.44" height="1.43" rx="0.71" fill="#000" fill-opacity="0.06" filter="url(#bl)"/>
<line x1="41.4" y1="374.1" x2="45.4" y2="374.1" stroke="#111" stroke-width="1.3"/>
<text x="40.4" y="376.8" font-size="7.5" font-weight="bold" text-anchor="end" stroke="#000">37 kDa</text>
<text x="64.2" y="365.3" font-size="7.6" font-weight="bold" text-anchor="middle" stroke="#000">1</text>
<text x="79.1" y="365.3" font-size="7.6" font-weight="bold" text-anchor="middle" stroke="#000">0.7</text>
<text x="93.8" y="365.3" font-size="7.6" font-weight="bold" text-anchor="middle" stroke="#000">0.2</text>
<text x="107.9" y="365.3" font-size="7.6" font-weight="bold" text-anchor="middle" stroke="#000">0.2</text>
<text x="124.2" y="365.3" font-size="7.6" font-weight="bold" text-anchor="middle" stroke="#000">0.02</text>
<text x="142.6" y="365.3" font-size="7.6" font-weight="bold" text-anchor="middle" stroke="#000">0.02</text>
<line x1="51.4" y1="384.4" x2="142.4" y2="384.4" stroke="#111" stroke-width="1.4"/>
<text x="96.7" y="395.6" font-size="9.8" font-weight="bold" text-anchor="middle" stroke="#000">SYO-1</text>
<text x="305.2" y="39.3" font-size="9.9" font-weight="bold" transform="rotate(-57 305.2 39.3)" stroke="#000">Total</text>
<text x="319.7" y="39.3" font-size="9.9" font-weight="bold" transform="rotate(-57 319.7 39.3)" stroke="#000">0 mM</text>
<text x="334.2" y="39.3" font-size="9.9" font-weight="bold" transform="rotate(-57 334.2 39.3)" stroke="#000">150 mM</text>
<text x="348.7" y="39.3" font-size="9.9" font-weight="bold" transform="rotate(-57 348.7 39.3)" stroke="#000">300 mM</text>
<text x="363.2" y="39.3" font-size="9.9" font-weight="bold" transform="rotate(-57 363.2 39.3)" stroke="#000">500 mM</text>
<text x="377.7" y="39.3" font-size="9.9" font-weight="bold" transform="rotate(-57 377.7 39.3)" stroke="#000">1000 mM</text>
<text x="392.2" y="39.3" font-size="9.9" font-weight="bold" transform="rotate(-57 392.2 39.3)" stroke="#000">Pellet</text>
<rect x="298.4" y="52.4" width="102.0" height="12.8" fill="#fff" stroke="#111" stroke-width="1.4"/>
<rect x="328.17" y="57.35" width="12.66" height="2.89" rx="1.45" fill="#000" fill-opacity="0.02" filter="url(#bl2)"/>
<rect x="328.77" y="58.35" width="11.46" height="0.89" rx="0.45" fill="#000" fill-opacity="0.09" filter="url(#bl)"/>
<rect x="342.20" y="57.00" width="13.50" height="3.59" rx="1.79" fill="#000" fill-opacity="0.18" filter="url(#bl2)"/>
<rect x="342.80" y="58.00" width="12.30" height="1.59" rx="0.79" fill="#000" fill-opacity="0.81" filter="url(#bl)"/>
<rect x="356.71" y="57.05" width="13.38" height="3.49" rx="1.75" fill="#000" fill-opacity="0.16" filter="url(#bl2)"/>
<rect x="357.31" y="58.05" width="12.18" height="1.49" rx="0.74" fill="#000" fill-opacity="0.72" filter="url(#bl)"/>
<line x1="294.4" y1="60.9" x2="298.4" y2="60.9" stroke="#111" stroke-width="1.3"/>
<text x="293.4" y="63.6" font-size="7.5" font-weight="bold" text-anchor="end" stroke="#000">250 kDa</text>
<text x="315.8" y="50.0" font-size="7.6" font-weight="bold" text-anchor="middle" stroke="#000">0.03</text>
<text x="334.2" y="50.0" font-size="7.6" font-weight="bold" text-anchor="middle" stroke="#000">0.08</text>
<text x="347.3" y="50.0" font-size="7.6" font-weight="bold" text-anchor="middle" stroke="#000">1</text>
<text x="360.4" y="50.0" font-size="7.6" font-weight="bold" text-anchor="middle" stroke="#000">0.97</text>
<text x="378.8" y="50.0" font-size="7.6" font-weight="bold" text-anchor="middle" stroke="#000">0.02</text>
<text x="397.2" y="50.0" font-size="7.6" font-weight="bold" text-anchor="middle" stroke="#000">0.01</text>
<rect x="298.4" y="77.4" width="102.0" height="12.8" fill="#fff" stroke="#111" stroke-width="1.4"/>
<rect x="313.72" y="81.91" width="12.66" height="3.78" rx="1.89" fill="#000" fill-opacity="0.02" filter="url(#bl2)"/>
<rect x="314.32" y="82.91" width="11.46" height="1.78" rx="0.89" fill="#000" fill-opacity="0.09" filter="url(#bl)"/>
<rect x="328.08" y="81.76" width="12.84" height="4.08" rx="2.04" fill="#000" fill-opacity="0.06" filter="url(#bl2)"/>
<rect x="328.68" y="82.76" width="11.64" height="2.08" rx="1.04" fill="#000" fill-opacity="0.28" filter="url(#bl)"/>
<rect x="342.05" y="80.96" width="13.80" height="5.68" rx="2.84" fill="#000" fill-opacity="0.22" filter="url(#bl2)"/>
<rect x="342.65" y="81.96" width="12.60" height="3.68" rx="1.84" fill="#000" fill-opacity="1.00" filter="url(#bl)"/>
<rect x="356.50" y="80.96" width="13.80" height="5.68" rx="2.84" fill="#000" fill-opacity="0.22" filter="url(#bl2)"/>
<rect x="357.10" y="81.96" width="12.60" height="3.68" rx="1.84" fill="#000" fill-opacity="1.00" filter="url(#bl)"/>
<rect x="371.40" y="81.71" width="12.90" height="4.18" rx="2.09" fill="#000" fill-opacity="0.07" filter="url(#bl2)"/>
<rect x="372.00" y="82.71" width="11.70" height="2.18" rx="1.09" fill="#000" fill-opacity="0.34" filter="url(#bl)"/>
<rect x="385.94" y="81.86" width="12.72" height="3.88" rx="1.94" fill="#000" fill-opacity="0.04" filter="url(#bl2)"/>
<rect x="386.54" y="82.86" width="11.52" height="1.88" rx="0.94" fill="#000" fill-opacity="0.16" filter="url(#bl)"/>
<line x1="294.4" y1="85.5" x2="298.4" y2="85.5" stroke="#111" stroke-width="1.3"/>
<text x="293.4" y="88.2" font-size="7.5" font-weight="bold" text-anchor="end" stroke="#000">250 kDa</text>
<text x="315.4" y="75.0" font-size="7.6" font-weight="bold" text-anchor="middle" stroke="#000">0.01</text>
<text x="333.8" y="75.0" font-size="7.6" font-weight="bold" text-anchor="middle" stroke="#000">0.05</text>
<text x="350.1" y="75.0" font-size="7.6" font-weight="bold" text-anchor="middle" stroke="#000">0.7</text>
<text x="361.9" y="75.0" font-size="7.6" font-weight="bold" text-anchor="middle" stroke="#000">1</text>
<text x="375.6" y="75.0" font-size="7.6" font-weight="bold" text-anchor="middle" stroke="#000">0.06</text>
<text x="394.0" y="75.0" font-size="7.6" font-weight="bold" text-anchor="middle" stroke="#000">0.03</text>
<rect x="298.4" y="102.4" width="102.0" height="12.8" fill="#fff" stroke="#111" stroke-width="1.4"/>
<rect x="298.79" y="106.11" width="13.62" height="5.38" rx="2.69" fill="#000" fill-opacity="0.20" filter="url(#bl2)"/>
<rect x="299.39" y="107.11" width="12.42" height="3.38" rx="1.69" fill="#000" fill-opacity="0.90" filter="url(#bl)"/>
<rect x="313.54" y="106.61" width="13.02" height="4.38" rx="2.19" fill="#000" fill-opacity="0.10" filter="url(#bl2)"/>
<rect x="314.14" y="107.61" width="11.82" height="2.38" rx="1.19" fill="#000" fill-opacity="0.44" filter="url(#bl)"/>
<rect x="327.72" y="106.16" width="13.56" height="5.28" rx="2.64" fill="#000" fill-opacity="0.19" filter="url(#bl2)"/>
<rect x="328.32" y="107.16" width="12.36" height="3.28" rx="1.64" fill="#000" fill-opacity="0.85" filter="url(#bl)"/>
<rect x="342.05" y="105.96" width="13.80" height="5.68" rx="2.84" fill="#000" fill-opacity="0.22" filter="url(#bl2)"/>
<rect x="342.65" y="106.96" width="12.60" height="3.68" rx="1.84" fill="#000" fill-opacity="1.00" filter="url(#bl)"/>
<rect x="356.50" y="105.96" width="13.80" height="5.68" rx="2.84" fill="#000" fill-opacity="0.22" filter="url(#bl2)"/>
<rect x="357.10" y="106.96" width="12.60" height="3.68" rx="1.84" fill="#000" fill-opacity="1.00" filter="url(#bl)"/>
<rect x="371.04" y="106.11" width="13.62" height="5.38" rx="2.69" fill="#000" fill-opacity="0.20" filter="url(#bl2)"/>
<rect x="371.64" y="107.11" width="12.42" height="3.38" rx="1.69" fill="#000" fill-opacity="0.90" filter="url(#bl)"/>
<rect x="385.73" y="106.51" width="13.14" height="4.58" rx="2.29" fill="#000" fill-opacity="0.12" filter="url(#bl2)"/>
<rect x="386.33" y="107.51" width="11.94" height="2.58" rx="1.29" fill="#000" fill-opacity="0.54" filter="url(#bl)"/>
<line x1="294.4" y1="109.1" x2="298.4" y2="109.1" stroke="#111" stroke-width="1.3"/>
<text x="293.4" y="111.8" font-size="7.5" font-weight="bold" text-anchor="end" stroke="#000">47 kDa</text>
<text x="317.2" y="100.0" font-size="7.6" font-weight="bold" text-anchor="middle" stroke="#000">0.3</text>
<text x="332.1" y="100.0" font-size="7.6" font-weight="bold" text-anchor="middle" stroke="#000">0.6</text>
<text x="347.0" y="100.0" font-size="7.6" font-weight="bold" text-anchor="middle" stroke="#000">0.9</text>
<text x="361.9" y="100.0" font-size="7.6" font-weight="bold" text-anchor="middle" stroke="#000">1</text>
<text x="376.8" y="100.0" font-size="7.6" font-weight="bold" text-anchor="middle" stroke="#000">0.7</text>
<text x="391.7" y="100.0" font-size="7.6" font-weight="bold" text-anchor="middle" stroke="#000">0.5</text>
<rect x="298.4" y="126.9" width="102.0" height="12.8" fill="#fff" stroke="#111" stroke-width="1.4"/>
<rect x="298.76" y="130.56" width="13.68" height="5.48" rx="2.74" fill="#000" fill-opacity="0.21" filter="url(#bl2)"/>
<rect x="299.36" y="131.56" width="12.48" height="3.48" rx="1.74" fill="#000" fill-opacity="0.94" filter="url(#bl)"/>
<rect x="313.57" y="131.16" width="12.96" height="4.28" rx="2.14" fill="#000" fill-opacity="0.09" filter="url(#bl2)"/>
<rect x="314.17" y="132.16" width="11.76" height="2.28" rx="1.14" fill="#000" fill-opacity="0.39" filter="url(#bl)"/>
<rect x="327.96" y="131.06" width="13.08" height="4.48" rx="2.24" fill="#000" fill-opacity="0.11" filter="url(#bl2)"/>
<rect x="328.56" y="132.06" width="11.88" height="2.48" rx="1.24" fill="#000" fill-opacity="0.49" filter="url(#bl)"/>
<rect x="342.05" y="130.46" width="13.80" height="5.68" rx="2.84" fill="#000" fill-opacity="0.22" filter="url(#bl2)"/>
<rect x="342.65" y="131.46" width="12.60" height="3.68" rx="1.84" fill="#000" fill-opacity="1.00" filter="url(#bl)"/>
<rect x="356.50" y="130.46" width="13.80" height="5.68" rx="2.84" fill="#000" fill-opacity="0.22" filter="url(#bl2)"/>
<rect x="357.10" y="131.46" width="12.60" height="3.68" rx="1.84" fill="#000" fill-opacity="1.00" filter="url(#bl)"/>
<rect x="370.95" y="130.46" width="13.80" height="5.68" rx="2.84" fill="#000" fill-opacity="0.22" filter="url(#bl2)"/>
<rect x="371.55" y="131.46" width="12.60" height="3.68" rx="1.84" fill="#000" fill-opacity="1.00" filter="url(#bl)"/>
<rect x="385.43" y="130.51" width="13.74" height="5.58" rx="2.79" fill="#000" fill-opacity="0.22" filter="url(#bl2)"/>
<rect x="386.03" y="131.51" width="12.54" height="3.58" rx="1.79" fill="#000" fill-opacity="0.98" filter="url(#bl)"/>
<line x1="294.4" y1="132.8" x2="298.4" y2="132.8" stroke="#111" stroke-width="1.3"/>
<text x="293.4" y="135.5" font-size="7.5" font-weight="bold" text-anchor="end" stroke="#000">47 kDa</text>
<text x="317.2" y="124.5" font-size="7.6" font-weight="bold" text-anchor="middle" stroke="#000">0.3</text>
<text x="332.1" y="124.5" font-size="7.6" font-weight="bold" text-anchor="middle" stroke="#000">0.4</text>
<text x="347.0" y="124.5" font-size="7.6" font-weight="bold" text-anchor="middle" stroke="#000">0.7</text>
<text x="361.9" y="124.5" font-size="7.6" font-weight="bold" text-anchor="middle" stroke="#000">1</text>
<text x="376.8" y="124.5" font-size="7.6" font-weight="bold" text-anchor="middle" stroke="#000">0.8</text>
<text x="391.7" y="124.5" font-size="7.6" font-weight="bold" text-anchor="middle" stroke="#000">0.9</text>
<rect x="298.4" y="150.7" width="102.0" height="12.8" fill="#fff" stroke="#111" stroke-width="1.4"/>
<rect x="299.12" y="154.96" width="12.96" height="4.28" rx="2.14" fill="#000" fill-opacity="0.09" filter="url(#bl2)"/>
<rect x="299.72" y="155.96" width="11.76" height="2.28" rx="1.14" fill="#000" fill-opacity="0.39" filter="url(#bl)"/>
<rect x="313.63" y="155.06" width="12.84" height="4.08" rx="2.04" fill="#000" fill-opacity="0.06" filter="url(#bl2)"/>
<rect x="314.23" y="156.06" width="11.64" height="2.08" rx="1.04" fill="#000" fill-opacity="0.28" filter="url(#bl)"/>
<rect x="328.11" y="155.11" width="12.78" height="3.98" rx="1.99" fill="#000" fill-opacity="0.05" filter="url(#bl2)"/>
<rect x="328.71" y="156.11" width="11.58" height="1.98" rx="0.99" fill="#000" fill-opacity="0.22" filter="url(#bl)"/>
<rect x="342.05" y="154.26" width="13.80" height="5.68" rx="2.84" fill="#000" fill-opacity="0.22" filter="url(#bl2)"/>
<rect x="342.65" y="155.26" width="12.60" height="3.68" rx="1.84" fill="#000" fill-opacity="1.00" filter="url(#bl)"/>
<rect x="356.74" y="154.66" width="13.32" height="4.88" rx="2.44" fill="#000" fill-opacity="0.15" filter="url(#bl2)"/>
<rect x="357.34" y="155.66" width="12.12" height="2.88" rx="1.44" fill="#000" fill-opacity="0.68" filter="url(#bl)"/>
<rect x="371.40" y="155.01" width="12.90" height="4.18" rx="2.09" fill="#000" fill-opacity="0.07" filter="url(#bl2)"/>
<rect x="372.00" y="156.01" width="11.70" height="2.18" rx="1.09" fill="#000" fill-opacity="0.34" filter="url(#bl)"/>
<line x1="294.4" y1="157.2" x2="298.4" y2="157.2" stroke="#111" stroke-width="1.3"/>
<text x="293.4" y="159.9" font-size="7.5" font-weight="bold" text-anchor="end" stroke="#000">50 kDa</text>
<text x="317.2" y="148.3" font-size="7.6" font-weight="bold" text-anchor="middle" stroke="#000">0.1</text>
<text x="332.1" y="148.3" font-size="7.6" font-weight="bold" text-anchor="middle" stroke="#000">0.1</text>
<text x="347.0" y="148.3" font-size="7.6" font-weight="bold" text-anchor="middle" stroke="#000">1</text>
<text x="361.9" y="148.3" font-size="7.6" font-weight="bold" text-anchor="middle" stroke="#000">0.5</text>
<text x="376.3" y="148.3" font-size="7.6" font-weight="bold" text-anchor="middle" stroke="#000">0.2</text>
<text x="392.6" y="148.3" font-size="7.6" font-weight="bold" text-anchor="middle" stroke="#000">0.05</text>
<rect x="298.4" y="173.7" width="102.0" height="12.8" fill="#fff" stroke="#111" stroke-width="1.4"/>
<rect x="298.94" y="177.66" width="13.32" height="4.88" rx="2.44" fill="#000" fill-opacity="0.15" filter="url(#bl2)"/>
<rect x="299.54" y="178.66" width="12.12" height="2.88" rx="1.44" fill="#000" fill-opacity="0.68" filter="url(#bl)"/>
<rect x="313.69" y="178.16" width="12.72" height="3.88" rx="1.94" fill="#000" fill-opacity="0.04" filter="url(#bl2)"/>
<rect x="314.29" y="179.16" width="11.52" height="1.88" rx="0.94" fill="#000" fill-opacity="0.16" filter="url(#bl)"/>
<rect x="327.90" y="177.76" width="13.20" height="4.68" rx="2.34" fill="#000" fill-opacity="0.13" filter="url(#bl2)"/>
<rect x="328.50" y="178.76" width="12.00" height="2.68" rx="1.34" fill="#000" fill-opacity="0.59" filter="url(#bl)"/>
<rect x="342.05" y="177.26" width="13.80" height="5.68" rx="2.84" fill="#000" fill-opacity="0.22" filter="url(#bl2)"/>
<rect x="342.65" y="178.26" width="12.60" height="3.68" rx="1.84" fill="#000" fill-opacity="1.00" filter="url(#bl)"/>
<rect x="356.56" y="177.36" width="13.68" height="5.48" rx="2.74" fill="#000" fill-opacity="0.21" filter="url(#bl2)"/>
<rect x="357.16" y="178.36" width="12.48" height="3.48" rx="1.74" fill="#000" fill-opacity="0.94" filter="url(#bl)"/>
<rect x="371.07" y="177.46" width="13.56" height="5.28" rx="2.64" fill="#000" fill-opacity="0.19" filter="url(#bl2)"/>
<rect x="371.67" y="178.46" width="12.36" height="3.28" rx="1.64" fill="#000" fill-opacity="0.85" filter="url(#bl)"/>
<rect x="385.52" y="177.46" width="13.56" height="5.28" rx="2.64" fill="#000" fill-opacity="0.19" filter="url(#bl2)"/>
<rect x="386.12" y="178.46" width="12.36" height="3.28" rx="1.64" fill="#000" fill-opacity="0.85" filter="url(#bl)"/>
<line x1="294.4" y1="180.5" x2="298.4" y2="180.5" stroke="#111" stroke-width="1.3"/>
<text x="293.4" y="183.2" font-size="7.5" font-weight="bold" text-anchor="end" stroke="#000">50 kDa</text>
<text x="316.7" y="171.3" font-size="7.6" font-weight="bold" text-anchor="middle" stroke="#000">0.06</text>
<text x="333.0" y="171.3" font-size="7.6" font-weight="bold" text-anchor="middle" stroke="#000">0.2</text>
<text x="347.0" y="171.3" font-size="7.6" font-weight="bold" text-anchor="middle" stroke="#000">1</text>
<text x="361.9" y="171.3" font-size="7.6" font-weight="bold" text-anchor="middle" stroke="#000">0.8</text>
<text x="376.8" y="171.3" font-size="7.6" font-weight="bold" text-anchor="middle" stroke="#000">0.4</text>
<text x="391.7" y="171.3" font-size="7.6" font-weight="bold" text-anchor="middle" stroke="#000">0.6</text>
<rect x="298.4" y="196.6" width="102.0" height="12.8" fill="#fff" stroke="#111" stroke-width="1.4"/>
<rect x="299.03" y="200.71" width="13.14" height="4.58" rx="2.29" fill="#000" fill-opacity="0.12" filter="url(#bl2)"/>
<rect x="299.63" y="201.71" width="11.94" height="2.58" rx="1.29" fill="#000" fill-opacity="0.54" filter="url(#bl)"/>
<rect x="313.54" y="200.81" width="13.02" height="4.38" rx="2.19" fill="#000" fill-opacity="0.10" filter="url(#bl2)"/>
<rect x="314.14" y="201.81" width="11.82" height="2.38" rx="1.19" fill="#000" fill-opacity="0.44" filter="url(#bl)"/>
<rect x="328.02" y="200.86" width="12.96" height="4.28" rx="2.14" fill="#000" fill-opacity="0.09" filter="url(#bl2)"/>
<rect x="328.62" y="201.86" width="11.76" height="2.28" rx="1.14" fill="#000" fill-opacity="0.39" filter="url(#bl)"/>
<rect x="342.08" y="200.21" width="13.74" height="5.58" rx="2.79" fill="#000" fill-opacity="0.22" filter="url(#bl2)"/>
<rect x="342.68" y="201.21" width="12.54" height="3.58" rx="1.79" fill="#000" fill-opacity="0.98" filter="url(#bl)"/>
<rect x="356.56" y="200.26" width="13.68" height="5.48" rx="2.74" fill="#000" fill-opacity="0.21" filter="url(#bl2)"/>
<rect x="357.16" y="201.26" width="12.48" height="3.48" rx="1.74" fill="#000" fill-opacity="0.94" filter="url(#bl)"/>
<rect x="371.13" y="200.46" width="13.44" height="5.08" rx="2.54" fill="#000" fill-opacity="0.17" filter="url(#bl2)"/>
<rect x="371.73" y="201.46" width="12.24" height="3.08" rx="1.54" fill="#000" fill-opacity="0.77" filter="url(#bl)"/>
<rect x="385.64" y="200.56" width="13.32" height="4.88" rx="2.44" fill="#000" fill-opacity="0.15" filter="url(#bl2)"/>
<rect x="386.24" y="201.56" width="12.12" height="2.88" rx="1.44" fill="#000" fill-opacity="0.68" filter="url(#bl)"/>
<line x1="294.4" y1="204.0" x2="298.4" y2="204.0" stroke="#111" stroke-width="1.3"/>
<text x="293.4" y="206.7" font-size="7.5" font-weight="bold" text-anchor="end" stroke="#000">75 kDa</text>
<text x="317.2" y="194.2" font-size="7.6" font-weight="bold" text-anchor="middle" stroke="#000">0.2</text>
<text x="332.1" y="194.2" font-size="7.6" font-weight="bold" text-anchor="middle" stroke="#000">0.2</text>
<text x="347.0" y="194.2" font-size="7.6" font-weight="bold" text-anchor="middle" stroke="#000">0.7</text>
<text x="361.9" y="194.2" font-size="7.6" font-weight="bold" text-anchor="middle" stroke="#000">1</text>
<text x="376.8" y="194.2" font-size="7.6" font-weight="bold" text-anchor="middle" stroke="#000">0.6</text>
<text x="391.7" y="194.2" font-size="7.6" font-weight="bold" text-anchor="middle" stroke="#000">0.5</text>
<rect x="298.4" y="221.5" width="102.0" height="12.8" fill="#fff" stroke="#111" stroke-width="1.4"/>
<rect x="299.00" y="225.56" width="13.20" height="4.68" rx="2.34" fill="#000" fill-opacity="0.13" filter="url(#bl2)"/>
<rect x="299.60" y="226.56" width="12.00" height="2.68" rx="1.34" fill="#000" fill-opacity="0.59" filter="url(#bl)"/>
<rect x="313.54" y="225.71" width="13.02" height="4.38" rx="2.19" fill="#000" fill-opacity="0.10" filter="url(#bl2)"/>
<rect x="314.14" y="226.71" width="11.82" height="2.38" rx="1.19" fill="#000" fill-opacity="0.44" filter="url(#bl)"/>
<rect x="328.02" y="225.76" width="12.96" height="4.28" rx="2.14" fill="#000" fill-opacity="0.09" filter="url(#bl2)"/>
<rect x="328.62" y="226.76" width="11.76" height="2.28" rx="1.14" fill="#000" fill-opacity="0.39" filter="url(#bl)"/>
<rect x="342.08" y="225.11" width="13.74" height="5.58" rx="2.79" fill="#000" fill-opacity="0.22" filter="url(#bl2)"/>
<rect x="342.68" y="226.11" width="12.54" height="3.58" rx="1.79" fill="#000" fill-opacity="0.98" filter="url(#bl)"/>
<rect x="356.50" y="225.06" width="13.80" height="5.68" rx="2.84" fill="#000" fill-opacity="0.22" filter="url(#bl2)"/>
<rect x="357.10" y="226.06" width="12.60" height="3.68" rx="1.84" fill="#000" fill-opacity="1.00" filter="url(#bl)"/>
<rect x="371.04" y="225.21" width="13.62" height="5.38" rx="2.69" fill="#000" fill-opacity="0.20" filter="url(#bl2)"/>
<rect x="371.64" y="226.21" width="12.42" height="3.38" rx="1.69" fill="#000" fill-opacity="0.90" filter="url(#bl)"/>
<rect x="385.55" y="225.31" width="13.50" height="5.18" rx="2.59" fill="#000" fill-opacity="0.18" filter="url(#bl2)"/>
<rect x="386.15" y="226.31" width="12.30" height="3.18" rx="1.59" fill="#000" fill-opacity="0.81" filter="url(#bl)"/>
<line x1="294.4" y1="228.7" x2="298.4" y2="228.7" stroke="#111" stroke-width="1.3"/>
<text x="293.4" y="231.4" font-size="7.5" font-weight="bold" text-anchor="end" stroke="#000">75 kDa</text>
<text x="317.2" y="219.1" font-size="7.6" font-weight="bold" text-anchor="middle" stroke="#000">0.2</text>
<text x="332.1" y="219.1" font-size="7.6" font-weight="bold" text-anchor="middle" stroke="#000">0.2</text>
<text x="347.0" y="219.1" font-size="7.6" font-weight="bold" text-anchor="middle" stroke="#000">0.6</text>
<text x="361.9" y="219.1" font-size="7.6" font-weight="bold" text-anchor="middle" stroke="#000">1</text>
<text x="376.8" y="219.1" font-size="7.6" font-weight="bold" text-anchor="middle" stroke="#000">0.9</text>
<text x="391.7" y="219.1" font-size="7.6" font-weight="bold" text-anchor="middle" stroke="#000">0.8</text>
<rect x="298.4" y="246.0" width="102.0" height="12.8" fill="#fff" stroke="#111" stroke-width="1.4"/>
<rect x="313.51" y="250.28" width="13.08" height="4.23" rx="2.12" fill="#000" fill-opacity="0.11" filter="url(#bl2)"/>
<rect x="314.11" y="251.28" width="11.88" height="2.23" rx="1.12" fill="#000" fill-opacity="0.49" filter="url(#bl)"/>
<rect x="327.72" y="249.92" width="13.56" height="4.95" rx="2.48" fill="#000" fill-opacity="0.19" filter="url(#bl2)"/>
<rect x="328.32" y="250.92" width="12.36" height="2.95" rx="1.48" fill="#000" fill-opacity="0.85" filter="url(#bl)"/>
<rect x="341.67" y="249.25" width="14.55" height="6.31" rx="3.15" fill="#000" fill-opacity="0.22" filter="url(#bl2)"/>
<rect x="342.27" y="250.25" width="13.35" height="4.31" rx="2.15" fill="#000" fill-opacity="1.00" filter="url(#bl)"/>
<rect x="356.56" y="249.83" width="13.68" height="5.13" rx="2.57" fill="#000" fill-opacity="0.21" filter="url(#bl2)"/>
<rect x="357.16" y="250.83" width="12.48" height="3.13" rx="1.57" fill="#000" fill-opacity="0.94" filter="url(#bl)"/>
<rect x="371.49" y="250.55" width="12.72" height="3.69" rx="1.85" fill="#000" fill-opacity="0.04" filter="url(#bl2)"/>
<rect x="372.09" y="251.55" width="11.52" height="1.69" rx="0.85" fill="#000" fill-opacity="0.16" filter="url(#bl)"/>
<line x1="294.4" y1="252.8" x2="298.4" y2="252.8" stroke="#111" stroke-width="1.3"/>
<text x="293.4" y="255.5" font-size="7.5" font-weight="bold" text-anchor="end" stroke="#000">250 kDa</text>
<text x="317.2" y="243.6" font-size="7.6" font-weight="bold" text-anchor="middle" stroke="#000">0.1</text>
<text x="332.1" y="243.6" font-size="7.6" font-weight="bold" text-anchor="middle" stroke="#000">0.2</text>
<text x="347.0" y="243.6" font-size="7.6" font-weight="bold" text-anchor="middle" stroke="#000">1</text>
<text x="361.4" y="243.6" font-size="7.6" font-weight="bold" text-anchor="middle" stroke="#000">0.7</text>
<text x="377.7" y="243.6" font-size="7.6" font-weight="bold" text-anchor="middle" stroke="#000">0.03</text>
<text x="391.7" y="243.6" font-size="7.6" font-weight="bold" text-anchor="middle" stroke="#000">0</text>
<rect x="298.4" y="270.7" width="102.0" height="12.8" fill="#fff" stroke="#111" stroke-width="1.4"/>
<rect x="299.27" y="275.21" width="12.66" height="3.78" rx="1.89" fill="#000" fill-opacity="0.02" filter="url(#bl2)"/>
<rect x="299.87" y="276.21" width="11.46" height="1.78" rx="0.89" fill="#000" fill-opacity="0.09" filter="url(#bl)"/>
<rect x="313.57" y="274.96" width="12.96" height="4.28" rx="2.14" fill="#000" fill-opacity="0.09" filter="url(#bl2)"/>
<rect x="314.17" y="275.96" width="11.76" height="2.28" rx="1.14" fill="#000" fill-opacity="0.39" filter="url(#bl)"/>
<rect x="327.84" y="274.66" width="13.32" height="4.88" rx="2.44" fill="#000" fill-opacity="0.15" filter="url(#bl2)"/>
<rect x="328.44" y="275.66" width="12.12" height="2.88" rx="1.44" fill="#000" fill-opacity="0.68" filter="url(#bl)"/>
<rect x="341.42" y="273.34" width="15.05" height="7.52" rx="3.76" fill="#000" fill-opacity="0.22" filter="url(#bl2)"/>
<rect x="342.02" y="274.34" width="13.85" height="5.52" rx="2.76" fill="#000" fill-opacity="1.00" filter="url(#bl)"/>
<rect x="356.00" y="273.52" width="14.80" height="7.15" rx="3.58" fill="#000" fill-opacity="0.22" filter="url(#bl2)"/>
<rect x="356.60" y="274.52" width="13.60" height="5.15" rx="2.58" fill="#000" fill-opacity="1.00" filter="url(#bl)"/>
<rect x="371.43" y="275.06" width="12.84" height="4.08" rx="2.04" fill="#000" fill-opacity="0.06" filter="url(#bl2)"/>
<rect x="372.03" y="276.06" width="11.64" height="2.08" rx="1.04" fill="#000" fill-opacity="0.28" filter="url(#bl)"/>
<rect x="385.91" y="275.11" width="12.78" height="3.98" rx="1.99" fill="#000" fill-opacity="0.05" filter="url(#bl2)"/>
<rect x="386.51" y="276.11" width="11.58" height="1.98" rx="0.99" fill="#000" fill-opacity="0.22" filter="url(#bl)"/>
<line x1="294.4" y1="277.1" x2="298.4" y2="277.1" stroke="#111" stroke-width="1.3"/>
<text x="293.4" y="279.8" font-size="7.5" font-weight="bold" text-anchor="end" stroke="#000">250 kDa</text>
<text x="316.7" y="268.3" font-size="7.6" font-weight="bold" text-anchor="middle" stroke="#000">0.07</text>
<text x="333.0" y="268.3" font-size="7.6" font-weight="bold" text-anchor="middle" stroke="#000">0.2</text>
<text x="347.0" y="268.3" font-size="7.6" font-weight="bold" text-anchor="middle" stroke="#000">1</text>
<text x="360.7" y="268.3" font-size="7.6" font-weight="bold" text-anchor="middle" stroke="#000">0.8</text>
<text x="377.0" y="268.3" font-size="7.6" font-weight="bold" text-anchor="middle" stroke="#000">0.08</text>
<text x="395.4" y="268.3" font-size="7.6" font-weight="bold" text-anchor="middle" stroke="#000">0.06</text>
<rect x="298.4" y="295.3" width="102.0" height="12.8" fill="#fff" stroke="#111" stroke-width="1.4"/>
<rect x="299.12" y="298.27" width="12.96" height="3.54" rx="1.77" fill="#000" fill-opacity="0.09" filter="url(#bl2)"/>
<rect x="299.72" y="299.27" width="11.76" height="1.54" rx="0.77" fill="#000" fill-opacity="0.39" filter="url(#bl)"/>
<rect x="313.69" y="298.40" width="12.72" height="3.27" rx="1.63" fill="#000" fill-opacity="0.04" filter="url(#bl2)"/>
<rect x="314.29" y="299.40" width="11.52" height="1.27" rx="0.63" fill="#000" fill-opacity="0.16" filter="url(#bl)"/>
<rect x="328.08" y="298.33" width="12.84" height="3.40" rx="1.70" fill="#000" fill-opacity="0.06" filter="url(#bl2)"/>
<rect x="328.68" y="299.33" width="11.64" height="1.40" rx="0.70" fill="#000" fill-opacity="0.28" filter="url(#bl)"/>
<rect x="342.47" y="298.27" width="12.96" height="3.54" rx="1.77" fill="#000" fill-opacity="0.09" filter="url(#bl2)"/>
<rect x="343.07" y="299.27" width="11.76" height="1.54" rx="0.77" fill="#000" fill-opacity="0.39" filter="url(#bl)"/>
<rect x="356.80" y="298.13" width="13.20" height="3.81" rx="1.90" fill="#000" fill-opacity="0.13" filter="url(#bl2)"/>
<rect x="357.40" y="299.13" width="12.00" height="1.81" rx="0.90" fill="#000" fill-opacity="0.59" filter="url(#bl)"/>
<rect x="371.19" y="298.06" width="13.32" height="3.94" rx="1.97" fill="#000" fill-opacity="0.15" filter="url(#bl2)"/>
<rect x="371.79" y="299.06" width="12.12" height="1.94" rx="0.97" fill="#000" fill-opacity="0.68" filter="url(#bl)"/>
<rect x="385.91" y="298.37" width="12.78" height="3.34" rx="1.67" fill="#000" fill-opacity="0.05" filter="url(#bl2)"/>
<rect x="386.51" y="299.37" width="11.58" height="1.34" rx="0.67" fill="#000" fill-opacity="0.22" filter="url(#bl)"/>
<rect x="299.00" y="301.71" width="13.20" height="4.08" rx="2.04" fill="#000" fill-opacity="0.13" filter="url(#bl2)"/>
<rect x="299.60" y="302.71" width="12.00" height="2.08" rx="1.04" fill="#000" fill-opacity="0.59" filter="url(#bl)"/>
<rect x="313.63" y="301.94" width="12.84" height="3.61" rx="1.81" fill="#000" fill-opacity="0.06" filter="url(#bl2)"/>
<rect x="314.23" y="302.94" width="11.64" height="1.61" rx="0.81" fill="#000" fill-opacity="0.28" filter="url(#bl)"/>
<rect x="327.96" y="301.79" width="13.08" height="3.92" rx="1.96" fill="#000" fill-opacity="0.11" filter="url(#bl2)"/>
<rect x="328.56" y="302.79" width="11.88" height="1.92" rx="0.96" fill="#000" fill-opacity="0.49" filter="url(#bl)"/>
<rect x="342.38" y="301.75" width="13.14" height="4.00" rx="2.00" fill="#000" fill-opacity="0.12" filter="url(#bl2)"/>
<rect x="342.98" y="302.75" width="11.94" height="2.00" rx="1.00" fill="#000" fill-opacity="0.54" filter="url(#bl)"/>
<rect x="356.62" y="301.48" width="13.56" height="4.54" rx="2.27" fill="#000" fill-opacity="0.19" filter="url(#bl2)"/>
<rect x="357.22" y="302.48" width="12.36" height="2.54" rx="1.27" fill="#000" fill-opacity="0.85" filter="url(#bl)"/>
<rect x="370.98" y="301.36" width="13.74" height="4.77" rx="2.39" fill="#000" fill-opacity="0.22" filter="url(#bl2)"/>
<rect x="371.58" y="302.36" width="12.54" height="2.77" rx="1.39" fill="#000" fill-opacity="0.98" filter="url(#bl)"/>
<rect x="385.79" y="301.83" width="13.02" height="3.84" rx="1.92" fill="#000" fill-opacity="0.10" filter="url(#bl2)"/>
<rect x="386.39" y="302.83" width="11.82" height="1.84" rx="0.92" fill="#000" fill-opacity="0.44" filter="url(#bl)"/>
<line x1="294.4" y1="304.3" x2="298.4" y2="304.3" stroke="#111" stroke-width="1.3"/>
<text x="293.4" y="307.0" font-size="7.5" font-weight="bold" text-anchor="end" stroke="#000">65 kDa</text>
<text x="317.2" y="292.9" font-size="7.6" font-weight="bold" text-anchor="middle" stroke="#000">0.2</text>
<text x="332.1" y="292.9" font-size="7.6" font-weight="bold" text-anchor="middle" stroke="#000">0.4</text>
<text x="347.0" y="292.9" font-size="7.6" font-weight="bold" text-anchor="middle" stroke="#000">0.5</text>
<text x="361.9" y="292.9" font-size="7.6" font-weight="bold" text-anchor="middle" stroke="#000">0.9</text>
<text x="376.8" y="292.9" font-size="7.6" font-weight="bold" text-anchor="middle" stroke="#000">1</text>
<text x="391.7" y="292.9" font-size="7.6" font-weight="bold" text-anchor="middle" stroke="#000">0.5</text>
<rect x="298.4" y="319.5" width="102.0" height="12.8" fill="#fff" stroke="#111" stroke-width="1.4"/>
<rect x="299.09" y="322.43" width="13.02" height="3.61" rx="1.80" fill="#000" fill-opacity="0.10" filter="url(#bl2)"/>
<rect x="299.69" y="323.43" width="11.82" height="1.61" rx="0.80" fill="#000" fill-opacity="0.44" filter="url(#bl)"/>
<rect x="313.69" y="322.60" width="12.72" height="3.27" rx="1.63" fill="#000" fill-opacity="0.04" filter="url(#bl2)"/>
<rect x="314.29" y="323.60" width="11.52" height="1.27" rx="0.63" fill="#000" fill-opacity="0.16" filter="url(#bl)"/>
<rect x="328.05" y="322.50" width="12.90" height="3.47" rx="1.74" fill="#000" fill-opacity="0.07" filter="url(#bl2)"/>
<rect x="328.65" y="323.50" width="11.70" height="1.47" rx="0.74" fill="#000" fill-opacity="0.34" filter="url(#bl)"/>
<rect x="342.44" y="322.43" width="13.02" height="3.61" rx="1.80" fill="#000" fill-opacity="0.10" filter="url(#bl2)"/>
<rect x="343.04" y="323.43" width="11.82" height="1.61" rx="0.80" fill="#000" fill-opacity="0.44" filter="url(#bl)"/>
<rect x="356.62" y="322.13" width="13.56" height="4.21" rx="2.11" fill="#000" fill-opacity="0.19" filter="url(#bl2)"/>
<rect x="357.22" y="323.13" width="12.36" height="2.21" rx="1.11" fill="#000" fill-opacity="0.85" filter="url(#bl)"/>
<rect x="371.28" y="322.37" width="13.14" height="3.74" rx="1.87" fill="#000" fill-opacity="0.12" filter="url(#bl2)"/>
<rect x="371.88" y="323.37" width="11.94" height="1.74" rx="0.87" fill="#000" fill-opacity="0.54" filter="url(#bl)"/>
<rect x="385.49" y="322.10" width="13.62" height="4.28" rx="2.14" fill="#000" fill-opacity="0.20" filter="url(#bl2)"/>
<rect x="386.09" y="323.10" width="12.42" height="2.28" rx="1.14" fill="#000" fill-opacity="0.90" filter="url(#bl)"/>
<rect x="298.97" y="325.87" width="13.26" height="4.15" rx="2.08" fill="#000" fill-opacity="0.14" filter="url(#bl2)"/>
<rect x="299.57" y="326.87" width="12.06" height="2.15" rx="1.08" fill="#000" fill-opacity="0.63" filter="url(#bl)"/>
<rect x="313.63" y="326.14" width="12.84" height="3.61" rx="1.81" fill="#000" fill-opacity="0.06" filter="url(#bl2)"/>
<rect x="314.23" y="327.14" width="11.64" height="1.61" rx="0.81" fill="#000" fill-opacity="0.28" filter="url(#bl)"/>
<rect x="327.93" y="325.95" width="13.14" height="4.00" rx="2.00" fill="#000" fill-opacity="0.12" filter="url(#bl2)"/>
<rect x="328.53" y="326.95" width="11.94" height="2.00" rx="1.00" fill="#000" fill-opacity="0.54" filter="url(#bl)"/>
<rect x="342.35" y="325.91" width="13.20" height="4.08" rx="2.04" fill="#000" fill-opacity="0.13" filter="url(#bl2)"/>
<rect x="342.95" y="326.91" width="12.00" height="2.08" rx="1.04" fill="#000" fill-opacity="0.59" filter="url(#bl)"/>
<rect x="356.50" y="325.52" width="13.80" height="4.85" rx="2.43" fill="#000" fill-opacity="0.22" filter="url(#bl2)"/>
<rect x="357.10" y="326.52" width="12.60" height="2.85" rx="1.43" fill="#000" fill-opacity="1.00" filter="url(#bl)"/>
<rect x="371.04" y="325.64" width="13.62" height="4.62" rx="2.31" fill="#000" fill-opacity="0.20" filter="url(#bl2)"/>
<rect x="371.64" y="326.64" width="12.42" height="2.62" rx="1.31" fill="#000" fill-opacity="0.90" filter="url(#bl)"/>
<rect x="385.40" y="325.52" width="13.80" height="4.85" rx="2.43" fill="#000" fill-opacity="0.22" filter="url(#bl2)"/>
<rect x="386.00" y="326.52" width="12.60" height="2.85" rx="1.43" fill="#000" fill-opacity="1.00" filter="url(#bl)"/>
<line x1="294.4" y1="328.4" x2="298.4" y2="328.4" stroke="#111" stroke-width="1.3"/>
<text x="293.4" y="331.1" font-size="7.5" font-weight="bold" text-anchor="end" stroke="#000">65 kDa</text>
<text x="317.2" y="317.1" font-size="7.6" font-weight="bold" text-anchor="middle" stroke="#000">0.1</text>
<text x="332.1" y="317.1" font-size="7.6" font-weight="bold" text-anchor="middle" stroke="#000">0.3</text>
<text x="347.0" y="317.1" font-size="7.6" font-weight="bold" text-anchor="middle" stroke="#000">0.3</text>
<text x="361.9" y="317.1" font-size="7.6" font-weight="bold" text-anchor="middle" stroke="#000">1</text>
<text x="376.3" y="317.1" font-size="7.6" font-weight="bold" text-anchor="middle" stroke="#000">0.7</text>
<text x="392.6" y="317.1" font-size="7.6" font-weight="bold" text-anchor="middle" stroke="#000">0.95</text>
<rect x="298.4" y="343.4" width="102.0" height="12.8" fill="#fff" stroke="#111" stroke-width="1.4"/>
<rect x="298.88" y="347.54" width="13.44" height="4.53" rx="2.26" fill="#000" fill-opacity="0.17" filter="url(#bl2)"/>
<rect x="299.48" y="348.54" width="12.24" height="2.53" rx="1.26" fill="#000" fill-opacity="0.77" filter="url(#bl)"/>
<rect x="313.15" y="347.29" width="13.80" height="5.02" rx="2.51" fill="#000" fill-opacity="0.22" filter="url(#bl2)"/>
<rect x="313.75" y="348.29" width="12.60" height="3.02" rx="1.51" fill="#000" fill-opacity="1.00" filter="url(#bl)"/>
<rect x="327.66" y="347.37" width="13.68" height="4.85" rx="2.43" fill="#000" fill-opacity="0.21" filter="url(#bl2)"/>
<rect x="328.26" y="348.37" width="12.48" height="2.85" rx="1.43" fill="#000" fill-opacity="0.94" filter="url(#bl)"/>
<rect x="342.47" y="347.87" width="12.96" height="3.87" rx="1.93" fill="#000" fill-opacity="0.09" filter="url(#bl2)"/>
<rect x="343.07" y="348.87" width="11.76" height="1.87" rx="0.93" fill="#000" fill-opacity="0.39" filter="url(#bl)"/>
<rect x="356.98" y="347.95" width="12.84" height="3.71" rx="1.85" fill="#000" fill-opacity="0.06" filter="url(#bl2)"/>
<rect x="357.58" y="348.95" width="11.64" height="1.71" rx="0.85" fill="#000" fill-opacity="0.28" filter="url(#bl)"/>
<rect x="371.53" y="348.09" width="12.64" height="3.43" rx="1.71" fill="#000" fill-opacity="0.01" filter="url(#bl2)"/>
<rect x="372.13" y="349.09" width="11.44" height="1.43" rx="0.71" fill="#000" fill-opacity="0.06" filter="url(#bl)"/>
<rect x="385.98" y="348.09" width="12.64" height="3.43" rx="1.71" fill="#000" fill-opacity="0.01" filter="url(#bl2)"/>
<rect x="386.58" y="349.09" width="11.44" height="1.43" rx="0.71" fill="#000" fill-opacity="0.06" filter="url(#bl)"/>
<line x1="294.4" y1="349.7" x2="298.4" y2="349.7" stroke="#111" stroke-width="1.3"/>
<text x="293.4" y="352.4" font-size="7.5" font-weight="bold" text-anchor="end" stroke="#000">37 kDa</text>
<text x="317.2" y="341.0" font-size="7.6" font-weight="bold" text-anchor="middle" stroke="#000">1</text>
<text x="332.1" y="341.0" font-size="7.6" font-weight="bold" text-anchor="middle" stroke="#000">0.8</text>
<text x="346.8" y="341.0" font-size="7.6" font-weight="bold" text-anchor="middle" stroke="#000">0.2</text>
<text x="360.9" y="341.0" font-size="7.6" font-weight="bold" text-anchor="middle" stroke="#000">0.1</text>
<text x="377.2" y="341.0" font-size="7.6" font-weight="bold" text-anchor="middle" stroke="#000">0.02</text>
<text x="395.6" y="341.0" font-size="7.6" font-weight="bold" text-anchor="middle" stroke="#000">0.02</text>
<rect x="298.4" y="367.7" width="102.0" height="12.8" fill="#fff" stroke="#111" stroke-width="1.4"/>
<rect x="298.88" y="371.84" width="13.44" height="4.53" rx="2.26" fill="#000" fill-opacity="0.17" filter="url(#bl2)"/>
<rect x="299.48" y="372.84" width="12.24" height="2.53" rx="1.26" fill="#000" fill-opacity="0.77" filter="url(#bl)"/>
<rect x="313.15" y="371.59" width="13.80" height="5.02" rx="2.51" fill="#000" fill-opacity="0.22" filter="url(#bl2)"/>
<rect x="313.75" y="372.59" width="12.60" height="3.02" rx="1.51" fill="#000" fill-opacity="1.00" filter="url(#bl)"/>
<rect x="327.63" y="371.63" width="13.74" height="4.94" rx="2.47" fill="#000" fill-opacity="0.22" filter="url(#bl2)"/>
<rect x="328.23" y="372.63" width="12.54" height="2.94" rx="1.47" fill="#000" fill-opacity="0.98" filter="url(#bl)"/>
<rect x="342.44" y="372.12" width="13.02" height="3.95" rx="1.98" fill="#000" fill-opacity="0.10" filter="url(#bl2)"/>
<rect x="343.04" y="373.12" width="11.82" height="1.95" rx="0.98" fill="#000" fill-opacity="0.44" filter="url(#bl)"/>
<rect x="356.95" y="372.21" width="12.90" height="3.79" rx="1.89" fill="#000" fill-opacity="0.07" filter="url(#bl2)"/>
<rect x="357.55" y="373.21" width="11.70" height="1.79" rx="0.89" fill="#000" fill-opacity="0.34" filter="url(#bl)"/>
<rect x="371.50" y="372.35" width="12.70" height="3.51" rx="1.75" fill="#000" fill-opacity="0.03" filter="url(#bl2)"/>
<rect x="372.10" y="373.35" width="11.50" height="1.51" rx="0.75" fill="#000" fill-opacity="0.14" filter="url(#bl)"/>
<rect x="385.94" y="372.33" width="12.72" height="3.54" rx="1.77" fill="#000" fill-opacity="0.04" filter="url(#bl2)"/>
<rect x="386.54" y="373.33" width="11.52" height="1.54" rx="0.77" fill="#000" fill-opacity="0.16" filter="url(#bl)"/>
<line x1="294.4" y1="374.5" x2="298.4" y2="374.5" stroke="#111" stroke-width="1.3"/>
<text x="293.4" y="377.2" font-size="7.5" font-weight="bold" text-anchor="end" stroke="#000">37 kDa</text>
<text x="317.2" y="365.3" font-size="7.6" font-weight="bold" text-anchor="middle" stroke="#000">1</text>
<text x="332.1" y="365.3" font-size="7.6" font-weight="bold" text-anchor="middle" stroke="#000">0.8</text>
<text x="346.8" y="365.3" font-size="7.6" font-weight="bold" text-anchor="middle" stroke="#000">0.2</text>
<text x="360.9" y="365.3" font-size="7.6" font-weight="bold" text-anchor="middle" stroke="#000">0.1</text>
<text x="377.2" y="365.3" font-size="7.6" font-weight="bold" text-anchor="middle" stroke="#000">0.02</text>
<text x="395.6" y="365.3" font-size="7.6" font-weight="bold" text-anchor="middle" stroke="#000">0.03</text>
<line x1="304.4" y1="384.4" x2="395.4" y2="384.4" stroke="#111" stroke-width="1.4"/>
<text x="349.7" y="395.6" font-size="9.8" font-weight="bold" text-anchor="middle" stroke="#000">HS-SY-II</text>
<text x="564.1" y="39.3" font-size="9.7" font-weight="bold" transform="rotate(-57 564.1 39.3)" stroke="#000">Total</text>
<text x="578.5" y="39.3" font-size="9.7" font-weight="bold" transform="rotate(-57 578.5 39.3)" stroke="#000">0 mM</text>
<text x="592.9" y="39.3" font-size="9.7" font-weight="bold" transform="rotate(-57 592.9 39.3)" stroke="#000">150 mM</text>
<text x="607.3" y="39.3" font-size="9.7" font-weight="bold" transform="rotate(-57 607.3 39.3)" stroke="#000">300 mM</text>
<text x="621.7" y="39.3" font-size="9.7" font-weight="bold" transform="rotate(-57 621.7 39.3)" stroke="#000">500 mM</text>
<text x="636.1" y="39.3" font-size="9.7" font-weight="bold" transform="rotate(-57 636.1 39.3)" stroke="#000">1000 mM</text>
<text x="650.5" y="39.3" font-size="9.7" font-weight="bold" transform="rotate(-57 650.5 39.3)" stroke="#000">Pellet</text>
<rect x="556.5" y="52.4" width="102.0" height="12.8" fill="#fff" stroke="#111" stroke-width="1.4"/>
<rect x="571.64" y="57.20" width="13.02" height="3.19" rx="1.59" fill="#000" fill-opacity="0.10" filter="url(#bl2)"/>
<rect x="572.24" y="58.20" width="11.82" height="1.19" rx="0.59" fill="#000" fill-opacity="0.44" filter="url(#bl)"/>
<rect x="586.00" y="57.13" width="13.20" height="3.34" rx="1.67" fill="#000" fill-opacity="0.13" filter="url(#bl2)"/>
<rect x="586.60" y="58.13" width="12.00" height="1.34" rx="0.67" fill="#000" fill-opacity="0.59" filter="url(#bl)"/>
<rect x="600.48" y="57.15" width="13.14" height="3.29" rx="1.65" fill="#000" fill-opacity="0.12" filter="url(#bl2)"/>
<rect x="601.08" y="58.15" width="11.94" height="1.29" rx="0.65" fill="#000" fill-opacity="0.54" filter="url(#bl)"/>
<rect x="614.93" y="57.15" width="13.14" height="3.29" rx="1.65" fill="#000" fill-opacity="0.12" filter="url(#bl2)"/>
<rect x="615.53" y="58.15" width="11.94" height="1.29" rx="0.65" fill="#000" fill-opacity="0.54" filter="url(#bl)"/>
<line x1="552.5" y1="61.7" x2="556.5" y2="61.7" stroke="#111" stroke-width="1.3"/>
<text x="550.2" y="64.4" font-size="7.5" font-weight="bold" text-anchor="end" stroke="#000">250 kDa</text>
<text x="574.5" y="50.0" font-size="7.6" font-weight="bold" text-anchor="middle" stroke="#000">0.5</text>
<text x="590.7" y="50.0" font-size="7.6" font-weight="bold" text-anchor="middle" stroke="#000">0.95</text>
<text x="607.0" y="50.0" font-size="7.6" font-weight="bold" text-anchor="middle" stroke="#000">0.8</text>
<text x="620.0" y="50.0" font-size="7.6" font-weight="bold" text-anchor="middle" stroke="#000">1</text>
<text x="634.9" y="50.0" font-size="7.6" font-weight="bold" text-anchor="middle" stroke="#000">0</text>
<text x="649.8" y="50.0" font-size="7.6" font-weight="bold" text-anchor="middle" stroke="#000">0.03</text>
<rect x="556.5" y="77.4" width="102.0" height="12.8" fill="#fff" stroke="#111" stroke-width="1.4"/>
<rect x="557.37" y="81.91" width="12.66" height="3.78" rx="1.89" fill="#000" fill-opacity="0.02" filter="url(#bl2)"/>
<rect x="557.97" y="82.91" width="11.46" height="1.78" rx="0.89" fill="#000" fill-opacity="0.09" filter="url(#bl)"/>
<rect x="571.79" y="81.86" width="12.72" height="3.88" rx="1.94" fill="#000" fill-opacity="0.04" filter="url(#bl2)"/>
<rect x="572.39" y="82.86" width="11.52" height="1.88" rx="0.94" fill="#000" fill-opacity="0.16" filter="url(#bl)"/>
<rect x="586.09" y="81.61" width="13.02" height="4.38" rx="2.19" fill="#000" fill-opacity="0.10" filter="url(#bl2)"/>
<rect x="586.69" y="82.61" width="11.82" height="2.38" rx="1.19" fill="#000" fill-opacity="0.44" filter="url(#bl)"/>
<rect x="599.78" y="80.41" width="14.55" height="6.78" rx="3.39" fill="#000" fill-opacity="0.22" filter="url(#bl2)"/>
<rect x="600.38" y="81.41" width="13.35" height="4.78" rx="2.39" fill="#000" fill-opacity="1.00" filter="url(#bl)"/>
<rect x="614.23" y="80.41" width="14.55" height="6.78" rx="3.39" fill="#000" fill-opacity="0.22" filter="url(#bl2)"/>
<rect x="614.83" y="81.41" width="13.35" height="4.78" rx="2.39" fill="#000" fill-opacity="1.00" filter="url(#bl)"/>
<rect x="629.32" y="81.41" width="13.26" height="4.78" rx="2.39" fill="#000" fill-opacity="0.14" filter="url(#bl2)"/>
<rect x="629.92" y="82.41" width="12.06" height="2.78" rx="1.39" fill="#000" fill-opacity="0.63" filter="url(#bl)"/>
<rect x="644.07" y="81.91" width="12.66" height="3.78" rx="1.89" fill="#000" fill-opacity="0.02" filter="url(#bl2)"/>
<rect x="644.67" y="82.91" width="11.46" height="1.78" rx="0.89" fill="#000" fill-opacity="0.09" filter="url(#bl)"/>
<line x1="552.5" y1="87.9" x2="556.5" y2="87.9" stroke="#111" stroke-width="1.3"/>
<text x="550.2" y="90.6" font-size="7.5" font-weight="bold" text-anchor="end" stroke="#000">250 kDa</text>
<text x="574.8" y="75.0" font-size="7.6" font-weight="bold" text-anchor="middle" stroke="#000">0.02</text>
<text x="591.1" y="75.0" font-size="7.6" font-weight="bold" text-anchor="middle" stroke="#000">0.1</text>
<text x="605.2" y="75.0" font-size="7.6" font-weight="bold" text-anchor="middle" stroke="#000">0.7</text>
<text x="620.0" y="75.0" font-size="7.6" font-weight="bold" text-anchor="middle" stroke="#000">1</text>
<text x="634.4" y="75.0" font-size="7.6" font-weight="bold" text-anchor="middle" stroke="#000">0.2</text>
<text x="650.7" y="75.0" font-size="7.6" font-weight="bold" text-anchor="middle" stroke="#000">0.02</text>
<rect x="556.5" y="102.4" width="102.0" height="12.8" fill="#fff" stroke="#111" stroke-width="1.4"/>
<rect x="557.19" y="106.61" width="13.02" height="4.38" rx="2.19" fill="#000" fill-opacity="0.10" filter="url(#bl2)"/>
<rect x="557.79" y="107.61" width="11.82" height="2.38" rx="1.19" fill="#000" fill-opacity="0.44" filter="url(#bl)"/>
<rect x="571.73" y="106.76" width="12.84" height="4.08" rx="2.04" fill="#000" fill-opacity="0.06" filter="url(#bl2)"/>
<rect x="572.33" y="107.76" width="11.64" height="2.08" rx="1.04" fill="#000" fill-opacity="0.28" filter="url(#bl)"/>
<rect x="586.15" y="106.71" width="12.90" height="4.18" rx="2.09" fill="#000" fill-opacity="0.07" filter="url(#bl2)"/>
<rect x="586.75" y="107.71" width="11.70" height="2.18" rx="1.09" fill="#000" fill-opacity="0.34" filter="url(#bl)"/>
<rect x="600.45" y="106.46" width="13.20" height="4.68" rx="2.34" fill="#000" fill-opacity="0.13" filter="url(#bl2)"/>
<rect x="601.05" y="107.46" width="12.00" height="2.68" rx="1.34" fill="#000" fill-opacity="0.59" filter="url(#bl)"/>
<rect x="614.90" y="106.46" width="13.20" height="4.68" rx="2.34" fill="#000" fill-opacity="0.13" filter="url(#bl2)"/>
<rect x="615.50" y="107.46" width="12.00" height="2.68" rx="1.34" fill="#000" fill-opacity="0.59" filter="url(#bl)"/>
<rect x="629.41" y="106.56" width="13.08" height="4.48" rx="2.24" fill="#000" fill-opacity="0.11" filter="url(#bl2)"/>
<rect x="630.01" y="107.56" width="11.88" height="2.48" rx="1.24" fill="#000" fill-opacity="0.49" filter="url(#bl)"/>
<rect x="643.89" y="106.61" width="13.02" height="4.38" rx="2.19" fill="#000" fill-opacity="0.10" filter="url(#bl2)"/>
<rect x="644.49" y="107.61" width="11.82" height="2.38" rx="1.19" fill="#000" fill-opacity="0.44" filter="url(#bl)"/>
<line x1="552.5" y1="109.6" x2="556.5" y2="109.6" stroke="#111" stroke-width="1.3"/>
<text x="550.2" y="112.3" font-size="7.5" font-weight="bold" text-anchor="end" stroke="#000">47 kDa</text>
<text x="575.3" y="100.0" font-size="7.6" font-weight="bold" text-anchor="middle" stroke="#000">0.2</text>
<text x="590.2" y="100.0" font-size="7.6" font-weight="bold" text-anchor="middle" stroke="#000">0.3</text>
<text x="605.1" y="100.0" font-size="7.6" font-weight="bold" text-anchor="middle" stroke="#000">0.9</text>
<text x="620.0" y="100.0" font-size="7.6" font-weight="bold" text-anchor="middle" stroke="#000">1</text>
<text x="634.4" y="100.0" font-size="7.6" font-weight="bold" text-anchor="middle" stroke="#000">0.97</text>
<text x="650.7" y="100.0" font-size="7.6" font-weight="bold" text-anchor="middle" stroke="#000">0.8</text>
<rect x="556.5" y="126.9" width="102.0" height="12.8" fill="#fff" stroke="#111" stroke-width="1.4"/>
<rect x="556.92" y="130.66" width="13.56" height="5.28" rx="2.64" fill="#000" fill-opacity="0.19" filter="url(#bl2)"/>
<rect x="557.52" y="131.66" width="12.36" height="3.28" rx="1.64" fill="#000" fill-opacity="0.85" filter="url(#bl)"/>
<rect x="571.73" y="131.26" width="12.84" height="4.08" rx="2.04" fill="#000" fill-opacity="0.06" filter="url(#bl2)"/>
<rect x="572.33" y="132.26" width="11.64" height="2.08" rx="1.04" fill="#000" fill-opacity="0.28" filter="url(#bl)"/>
<rect x="586.06" y="131.06" width="13.08" height="4.48" rx="2.24" fill="#000" fill-opacity="0.11" filter="url(#bl2)"/>
<rect x="586.66" y="132.06" width="11.88" height="2.48" rx="1.24" fill="#000" fill-opacity="0.49" filter="url(#bl)"/>
<rect x="600.18" y="130.51" width="13.74" height="5.58" rx="2.79" fill="#000" fill-opacity="0.22" filter="url(#bl2)"/>
<rect x="600.78" y="131.51" width="12.54" height="3.58" rx="1.79" fill="#000" fill-opacity="0.98" filter="url(#bl)"/>
<rect x="614.63" y="130.51" width="13.74" height="5.58" rx="2.79" fill="#000" fill-opacity="0.22" filter="url(#bl2)"/>
<rect x="615.23" y="131.51" width="12.54" height="3.58" rx="1.79" fill="#000" fill-opacity="0.98" filter="url(#bl)"/>
<rect x="629.11" y="130.56" width="13.68" height="5.48" rx="2.74" fill="#000" fill-opacity="0.21" filter="url(#bl2)"/>
<rect x="629.71" y="131.56" width="12.48" height="3.48" rx="1.74" fill="#000" fill-opacity="0.94" filter="url(#bl)"/>
<rect x="643.59" y="130.61" width="13.62" height="5.38" rx="2.69" fill="#000" fill-opacity="0.20" filter="url(#bl2)"/>
<rect x="644.19" y="131.61" width="12.42" height="3.38" rx="1.69" fill="#000" fill-opacity="0.90" filter="url(#bl)"/>
<line x1="552.5" y1="133.6" x2="556.5" y2="133.6" stroke="#111" stroke-width="1.3"/>
<text x="550.2" y="136.3" font-size="7.5" font-weight="bold" text-anchor="end" stroke="#000">47 kDa</text>
<text x="575.3" y="124.5" font-size="7.6" font-weight="bold" text-anchor="middle" stroke="#000">0.1</text>
<text x="590.2" y="124.5" font-size="7.6" font-weight="bold" text-anchor="middle" stroke="#000">0.3</text>
<text x="605.1" y="124.5" font-size="7.6" font-weight="bold" text-anchor="middle" stroke="#000">0.8</text>
<text x="620.0" y="124.5" font-size="7.6" font-weight="bold" text-anchor="middle" stroke="#000">1</text>
<text x="634.9" y="124.5" font-size="7.6" font-weight="bold" text-anchor="middle" stroke="#000">0.9</text>
<text x="649.8" y="124.5" font-size="7.6" font-weight="bold" text-anchor="middle" stroke="#000">0.9</text>
<rect x="556.5" y="150.7" width="102.0" height="12.8" fill="#fff" stroke="#111" stroke-width="1.4"/>
<rect x="600.60" y="155.45" width="12.90" height="3.31" rx="1.65" fill="#000" fill-opacity="0.07" filter="url(#bl2)"/>
<rect x="601.20" y="156.45" width="11.70" height="1.31" rx="0.65" fill="#000" fill-opacity="0.34" filter="url(#bl)"/>
<rect x="615.08" y="155.48" width="12.84" height="3.25" rx="1.62" fill="#000" fill-opacity="0.06" filter="url(#bl2)"/>
<rect x="615.68" y="156.48" width="11.64" height="1.25" rx="0.62" fill="#000" fill-opacity="0.28" filter="url(#bl)"/>
<rect x="644.08" y="155.58" width="12.64" height="3.04" rx="1.52" fill="#000" fill-opacity="0.01" filter="url(#bl2)"/>
<rect x="644.68" y="156.58" width="11.44" height="1.04" rx="0.52" fill="#000" fill-opacity="0.06" filter="url(#bl)"/>
<line x1="552.5" y1="157.5" x2="556.5" y2="157.5" stroke="#111" stroke-width="1.3"/>
<text x="550.2" y="160.2" font-size="7.5" font-weight="bold" text-anchor="end" stroke="#000">50 kDa</text>
<text x="574.4" y="148.3" font-size="7.6" font-weight="bold" text-anchor="middle" stroke="#000">0.06</text>
<text x="590.7" y="148.3" font-size="7.6" font-weight="bold" text-anchor="middle" stroke="#000">0.2</text>
<text x="607.0" y="148.3" font-size="7.6" font-weight="bold" text-anchor="middle" stroke="#000">0.99</text>
<text x="620.1" y="148.3" font-size="7.6" font-weight="bold" text-anchor="middle" stroke="#000">1</text>
<text x="634.9" y="148.3" font-size="7.6" font-weight="bold" text-anchor="middle" stroke="#000">0.3</text>
<text x="649.8" y="148.3" font-size="7.6" font-weight="bold" text-anchor="middle" stroke="#000">0.5</text>
<rect x="556.5" y="173.7" width="102.0" height="12.8" fill="#fff" stroke="#111" stroke-width="1.4"/>
<rect x="557.16" y="177.86" width="13.08" height="4.48" rx="2.24" fill="#000" fill-opacity="0.11" filter="url(#bl2)"/>
<rect x="557.76" y="178.86" width="11.88" height="2.48" rx="1.24" fill="#000" fill-opacity="0.49" filter="url(#bl)"/>
<rect x="586.21" y="178.11" width="12.78" height="3.98" rx="1.99" fill="#000" fill-opacity="0.05" filter="url(#bl2)"/>
<rect x="586.81" y="179.11" width="11.58" height="1.98" rx="0.99" fill="#000" fill-opacity="0.22" filter="url(#bl)"/>
<rect x="600.21" y="177.36" width="13.68" height="5.48" rx="2.74" fill="#000" fill-opacity="0.21" filter="url(#bl2)"/>
<rect x="600.81" y="178.36" width="12.48" height="3.48" rx="1.74" fill="#000" fill-opacity="0.94" filter="url(#bl)"/>
<rect x="614.63" y="177.31" width="13.74" height="5.58" rx="2.79" fill="#000" fill-opacity="0.22" filter="url(#bl2)"/>
<rect x="615.23" y="178.31" width="12.54" height="3.58" rx="1.79" fill="#000" fill-opacity="0.98" filter="url(#bl)"/>
<rect x="629.08" y="177.31" width="13.74" height="5.58" rx="2.79" fill="#000" fill-opacity="0.22" filter="url(#bl2)"/>
<rect x="629.68" y="178.31" width="12.54" height="3.58" rx="1.79" fill="#000" fill-opacity="0.98" filter="url(#bl)"/>
<rect x="643.68" y="177.56" width="13.44" height="5.08" rx="2.54" fill="#000" fill-opacity="0.17" filter="url(#bl2)"/>
<rect x="644.28" y="178.56" width="12.24" height="3.08" rx="1.54" fill="#000" fill-opacity="0.77" filter="url(#bl)"/>
<line x1="552.5" y1="181.0" x2="556.5" y2="181.0" stroke="#111" stroke-width="1.3"/>
<text x="550.2" y="183.7" font-size="7.5" font-weight="bold" text-anchor="end" stroke="#000">50 kDa</text>
<text x="574.8" y="171.3" font-size="7.6" font-weight="bold" text-anchor="middle" stroke="#000">0.01</text>
<text x="591.1" y="171.3" font-size="7.6" font-weight="bold" text-anchor="middle" stroke="#000">0.1</text>
<text x="605.2" y="171.3" font-size="7.6" font-weight="bold" text-anchor="middle" stroke="#000">0.8</text>
<text x="620.0" y="171.3" font-size="7.6" font-weight="bold" text-anchor="middle" stroke="#000">1</text>
<text x="634.9" y="171.3" font-size="7.6" font-weight="bold" text-anchor="middle" stroke="#000">0.9</text>
<text x="649.8" y="171.3" font-size="7.6" font-weight="bold" text-anchor="middle" stroke="#000">0.5</text>
<rect x="556.5" y="196.6" width="102.0" height="12.8" fill="#fff" stroke="#111" stroke-width="1.4"/>
<rect x="557.13" y="200.71" width="13.14" height="4.58" rx="2.29" fill="#000" fill-opacity="0.12" filter="url(#bl2)"/>
<rect x="557.73" y="201.71" width="11.94" height="2.58" rx="1.29" fill="#000" fill-opacity="0.54" filter="url(#bl)"/>
<rect x="571.70" y="200.91" width="12.90" height="4.18" rx="2.09" fill="#000" fill-opacity="0.07" filter="url(#bl2)"/>
<rect x="572.30" y="201.91" width="11.70" height="2.18" rx="1.09" fill="#000" fill-opacity="0.34" filter="url(#bl)"/>
<rect x="586.15" y="200.91" width="12.90" height="4.18" rx="2.09" fill="#000" fill-opacity="0.07" filter="url(#bl2)"/>
<rect x="586.75" y="201.91" width="11.70" height="2.18" rx="1.09" fill="#000" fill-opacity="0.34" filter="url(#bl)"/>
<rect x="600.21" y="200.26" width="13.68" height="5.48" rx="2.74" fill="#000" fill-opacity="0.21" filter="url(#bl2)"/>
<rect x="600.81" y="201.26" width="12.48" height="3.48" rx="1.74" fill="#000" fill-opacity="0.94" filter="url(#bl)"/>
<rect x="614.60" y="200.16" width="13.80" height="5.68" rx="2.84" fill="#000" fill-opacity="0.22" filter="url(#bl2)"/>
<rect x="615.20" y="201.16" width="12.60" height="3.68" rx="1.84" fill="#000" fill-opacity="1.00" filter="url(#bl)"/>
<rect x="629.32" y="200.61" width="13.26" height="4.78" rx="2.39" fill="#000" fill-opacity="0.14" filter="url(#bl2)"/>
<rect x="629.92" y="201.61" width="12.06" height="2.78" rx="1.39" fill="#000" fill-opacity="0.63" filter="url(#bl)"/>
<rect x="643.59" y="200.31" width="13.62" height="5.38" rx="2.69" fill="#000" fill-opacity="0.20" filter="url(#bl2)"/>
<rect x="644.19" y="201.31" width="12.42" height="3.38" rx="1.69" fill="#000" fill-opacity="0.90" filter="url(#bl)"/>
<line x1="552.5" y1="202.5" x2="556.5" y2="202.5" stroke="#111" stroke-width="1.3"/>
<text x="550.2" y="205.2" font-size="7.5" font-weight="bold" text-anchor="end" stroke="#000">75 kDa</text>
<text x="575.3" y="194.2" font-size="7.6" font-weight="bold" text-anchor="middle" stroke="#000">0.3</text>
<text x="590.1" y="194.2" font-size="7.6" font-weight="bold" text-anchor="middle" stroke="#000">0.3</text>
<text x="604.3" y="194.2" font-size="7.6" font-weight="bold" text-anchor="middle" stroke="#000">0.8</text>
<text x="620.6" y="194.2" font-size="7.6" font-weight="bold" text-anchor="middle" stroke="#000">0.98</text>
<text x="636.9" y="194.2" font-size="7.6" font-weight="bold" text-anchor="middle" stroke="#000">0.9</text>
<text x="649.8" y="194.2" font-size="7.6" font-weight="bold" text-anchor="middle" stroke="#000">1</text>
<rect x="556.5" y="221.5" width="102.0" height="12.8" fill="#fff" stroke="#111" stroke-width="1.4"/>
<rect x="557.10" y="225.56" width="13.20" height="4.68" rx="2.34" fill="#000" fill-opacity="0.13" filter="url(#bl2)"/>
<rect x="557.70" y="226.56" width="12.00" height="2.68" rx="1.34" fill="#000" fill-opacity="0.59" filter="url(#bl)"/>
<rect x="571.67" y="225.76" width="12.96" height="4.28" rx="2.14" fill="#000" fill-opacity="0.09" filter="url(#bl2)"/>
<rect x="572.27" y="226.76" width="11.76" height="2.28" rx="1.14" fill="#000" fill-opacity="0.39" filter="url(#bl)"/>
<rect x="586.12" y="225.76" width="12.96" height="4.28" rx="2.14" fill="#000" fill-opacity="0.09" filter="url(#bl2)"/>
<rect x="586.72" y="226.76" width="11.76" height="2.28" rx="1.14" fill="#000" fill-opacity="0.39" filter="url(#bl)"/>
<rect x="600.21" y="225.16" width="13.68" height="5.48" rx="2.74" fill="#000" fill-opacity="0.21" filter="url(#bl2)"/>
<rect x="600.81" y="226.16" width="12.48" height="3.48" rx="1.74" fill="#000" fill-opacity="0.94" filter="url(#bl)"/>
<rect x="614.63" y="225.11" width="13.74" height="5.58" rx="2.79" fill="#000" fill-opacity="0.22" filter="url(#bl2)"/>
<rect x="615.23" y="226.11" width="12.54" height="3.58" rx="1.79" fill="#000" fill-opacity="0.98" filter="url(#bl)"/>
<rect x="629.20" y="225.31" width="13.50" height="5.18" rx="2.59" fill="#000" fill-opacity="0.18" filter="url(#bl2)"/>
<rect x="629.80" y="226.31" width="12.30" height="3.18" rx="1.59" fill="#000" fill-opacity="0.81" filter="url(#bl)"/>
<rect x="643.80" y="225.56" width="13.20" height="4.68" rx="2.34" fill="#000" fill-opacity="0.13" filter="url(#bl2)"/>
<rect x="644.40" y="226.56" width="12.00" height="2.68" rx="1.34" fill="#000" fill-opacity="0.59" filter="url(#bl)"/>
<line x1="552.5" y1="227.8" x2="556.5" y2="227.8" stroke="#111" stroke-width="1.3"/>
<text x="550.2" y="230.5" font-size="7.5" font-weight="bold" text-anchor="end" stroke="#000">75 kDa</text>
<text x="575.3" y="219.1" font-size="7.6" font-weight="bold" text-anchor="middle" stroke="#000">0.3</text>
<text x="590.2" y="219.1" font-size="7.6" font-weight="bold" text-anchor="middle" stroke="#000">0.3</text>
<text x="605.1" y="219.1" font-size="7.6" font-weight="bold" text-anchor="middle" stroke="#000">0.8</text>
<text x="620.0" y="219.1" font-size="7.6" font-weight="bold" text-anchor="middle" stroke="#000">1</text>
<text x="634.9" y="219.1" font-size="7.6" font-weight="bold" text-anchor="middle" stroke="#000">0.9</text>
<text x="649.8" y="219.1" font-size="7.6" font-weight="bold" text-anchor="middle" stroke="#000">0.7</text>
<rect x="556.5" y="246.0" width="102.0" height="12.8" fill="#fff" stroke="#111" stroke-width="1.4"/>
<rect x="571.37" y="250.01" width="13.56" height="4.79" rx="2.39" fill="#000" fill-opacity="0.19" filter="url(#bl2)"/>
<rect x="571.97" y="251.01" width="12.36" height="2.79" rx="1.39" fill="#000" fill-opacity="0.85" filter="url(#bl)"/>
<rect x="585.82" y="250.01" width="13.56" height="4.79" rx="2.39" fill="#000" fill-opacity="0.19" filter="url(#bl2)"/>
<rect x="586.42" y="251.01" width="12.36" height="2.79" rx="1.39" fill="#000" fill-opacity="0.85" filter="url(#bl)"/>
<rect x="600.15" y="249.84" width="13.80" height="5.13" rx="2.56" fill="#000" fill-opacity="0.22" filter="url(#bl2)"/>
<rect x="600.75" y="250.84" width="12.60" height="3.13" rx="1.56" fill="#000" fill-opacity="1.00" filter="url(#bl)"/>
<rect x="614.60" y="249.84" width="13.80" height="5.13" rx="2.56" fill="#000" fill-opacity="0.22" filter="url(#bl2)"/>
<rect x="615.20" y="250.84" width="12.60" height="3.13" rx="1.56" fill="#000" fill-opacity="1.00" filter="url(#bl)"/>
<rect x="629.56" y="250.56" width="12.78" height="3.68" rx="1.84" fill="#000" fill-opacity="0.05" filter="url(#bl2)"/>
<rect x="630.16" y="251.56" width="11.58" height="1.68" rx="0.84" fill="#000" fill-opacity="0.22" filter="url(#bl)"/>
<rect x="644.01" y="250.56" width="12.78" height="3.68" rx="1.84" fill="#000" fill-opacity="0.05" filter="url(#bl2)"/>
<rect x="644.61" y="251.56" width="11.58" height="1.68" rx="0.84" fill="#000" fill-opacity="0.22" filter="url(#bl)"/>
<line x1="552.5" y1="252.8" x2="556.5" y2="252.8" stroke="#111" stroke-width="1.3"/>
<text x="550.2" y="255.5" font-size="7.5" font-weight="bold" text-anchor="end" stroke="#000">250 kDa</text>
<text x="575.3" y="243.6" font-size="7.6" font-weight="bold" text-anchor="middle" stroke="#000">0.2</text>
<text x="590.2" y="243.6" font-size="7.6" font-weight="bold" text-anchor="middle" stroke="#000">0.2</text>
<text x="605.1" y="243.6" font-size="7.6" font-weight="bold" text-anchor="middle" stroke="#000">1</text>
<text x="618.8" y="243.6" font-size="7.6" font-weight="bold" text-anchor="middle" stroke="#000">0.7</text>
<text x="635.1" y="243.6" font-size="7.6" font-weight="bold" text-anchor="middle" stroke="#000">0.02</text>
<text x="653.5" y="243.6" font-size="7.6" font-weight="bold" text-anchor="middle" stroke="#000">0.05</text>
<rect x="556.5" y="270.7" width="102.0" height="12.8" fill="#fff" stroke="#111" stroke-width="1.4"/>
<rect x="557.25" y="275.01" width="12.90" height="4.18" rx="2.09" fill="#000" fill-opacity="0.07" filter="url(#bl2)"/>
<rect x="557.85" y="276.01" width="11.70" height="2.18" rx="1.09" fill="#000" fill-opacity="0.34" filter="url(#bl)"/>
<rect x="571.61" y="274.86" width="13.08" height="4.48" rx="2.24" fill="#000" fill-opacity="0.11" filter="url(#bl2)"/>
<rect x="572.21" y="275.86" width="11.88" height="2.48" rx="1.24" fill="#000" fill-opacity="0.49" filter="url(#bl)"/>
<rect x="585.79" y="274.41" width="13.62" height="5.38" rx="2.69" fill="#000" fill-opacity="0.20" filter="url(#bl2)"/>
<rect x="586.39" y="275.41" width="12.42" height="3.38" rx="1.69" fill="#000" fill-opacity="0.90" filter="url(#bl)"/>
<rect x="598.53" y="271.87" width="17.05" height="10.46" rx="5.23" fill="#000" fill-opacity="0.22" filter="url(#bl2)"/>
<rect x="599.13" y="272.87" width="15.85" height="8.46" rx="4.23" fill="#000" fill-opacity="1.00" filter="url(#bl)"/>
<rect x="613.35" y="272.42" width="16.30" height="9.36" rx="4.68" fill="#000" fill-opacity="0.22" filter="url(#bl2)"/>
<rect x="613.95" y="273.42" width="15.10" height="7.36" rx="3.68" fill="#000" fill-opacity="1.00" filter="url(#bl)"/>
<rect x="629.29" y="274.66" width="13.32" height="4.88" rx="2.44" fill="#000" fill-opacity="0.15" filter="url(#bl2)"/>
<rect x="629.89" y="275.66" width="12.12" height="2.88" rx="1.44" fill="#000" fill-opacity="0.68" filter="url(#bl)"/>
<rect x="644.04" y="275.16" width="12.72" height="3.88" rx="1.94" fill="#000" fill-opacity="0.04" filter="url(#bl2)"/>
<rect x="644.64" y="276.16" width="11.52" height="1.88" rx="0.94" fill="#000" fill-opacity="0.16" filter="url(#bl)"/>
<line x1="552.5" y1="277.1" x2="556.5" y2="277.1" stroke="#111" stroke-width="1.3"/>
<text x="550.2" y="279.8" font-size="7.5" font-weight="bold" text-anchor="end" stroke="#000">250 kDa</text>
<text x="574.8" y="268.3" font-size="7.6" font-weight="bold" text-anchor="middle" stroke="#000">0.05</text>
<text x="591.1" y="268.3" font-size="7.6" font-weight="bold" text-anchor="middle" stroke="#000">0.1</text>
<text x="605.1" y="268.3" font-size="7.6" font-weight="bold" text-anchor="middle" stroke="#000">1</text>
<text x="620.0" y="268.3" font-size="7.6" font-weight="bold" text-anchor="middle" stroke="#000">0.8</text>
<text x="634.4" y="268.3" font-size="7.6" font-weight="bold" text-anchor="middle" stroke="#000">0.1</text>
<text x="650.7" y="268.3" font-size="7.6" font-weight="bold" text-anchor="middle" stroke="#000">0.01</text>
<rect x="556.5" y="295.3" width="102.0" height="12.8" fill="#fff" stroke="#111" stroke-width="1.4"/>
<rect x="557.34" y="298.40" width="12.72" height="3.27" rx="1.63" fill="#000" fill-opacity="0.04" filter="url(#bl2)"/>
<rect x="557.94" y="299.40" width="11.52" height="1.27" rx="0.63" fill="#000" fill-opacity="0.16" filter="url(#bl)"/>
<rect x="571.79" y="298.40" width="12.72" height="3.27" rx="1.63" fill="#000" fill-opacity="0.04" filter="url(#bl2)"/>
<rect x="572.39" y="299.40" width="11.52" height="1.27" rx="0.63" fill="#000" fill-opacity="0.16" filter="url(#bl)"/>
<rect x="586.18" y="298.33" width="12.84" height="3.40" rx="1.70" fill="#000" fill-opacity="0.06" filter="url(#bl2)"/>
<rect x="586.78" y="299.33" width="11.64" height="1.40" rx="0.70" fill="#000" fill-opacity="0.28" filter="url(#bl)"/>
<rect x="600.54" y="298.23" width="13.02" height="3.61" rx="1.80" fill="#000" fill-opacity="0.10" filter="url(#bl2)"/>
<rect x="601.14" y="299.23" width="11.82" height="1.61" rx="0.80" fill="#000" fill-opacity="0.44" filter="url(#bl)"/>
<rect x="614.60" y="297.79" width="13.80" height="4.48" rx="2.24" fill="#000" fill-opacity="0.22" filter="url(#bl2)"/>
<rect x="615.20" y="298.79" width="12.60" height="2.48" rx="1.24" fill="#000" fill-opacity="1.00" filter="url(#bl)"/>
<rect x="629.08" y="297.83" width="13.74" height="4.42" rx="2.21" fill="#000" fill-opacity="0.22" filter="url(#bl2)"/>
<rect x="629.68" y="298.83" width="12.54" height="2.42" rx="1.21" fill="#000" fill-opacity="0.98" filter="url(#bl)"/>
<rect x="643.50" y="297.79" width="13.80" height="4.48" rx="2.24" fill="#000" fill-opacity="0.22" filter="url(#bl2)"/>
<rect x="644.10" y="298.79" width="12.60" height="2.48" rx="1.24" fill="#000" fill-opacity="1.00" filter="url(#bl)"/>
<rect x="557.31" y="301.98" width="12.78" height="3.53" rx="1.77" fill="#000" fill-opacity="0.05" filter="url(#bl2)"/>
<rect x="557.91" y="302.98" width="11.58" height="1.53" rx="0.77" fill="#000" fill-opacity="0.22" filter="url(#bl)"/>
<rect x="571.76" y="301.98" width="12.78" height="3.53" rx="1.77" fill="#000" fill-opacity="0.05" filter="url(#bl2)"/>
<rect x="572.36" y="302.98" width="11.58" height="1.53" rx="0.77" fill="#000" fill-opacity="0.22" filter="url(#bl)"/>
<rect x="586.18" y="301.94" width="12.84" height="3.61" rx="1.81" fill="#000" fill-opacity="0.06" filter="url(#bl2)"/>
<rect x="586.78" y="302.94" width="11.64" height="1.61" rx="0.81" fill="#000" fill-opacity="0.28" filter="url(#bl)"/>
<rect x="600.51" y="301.79" width="13.08" height="3.92" rx="1.96" fill="#000" fill-opacity="0.11" filter="url(#bl2)"/>
<rect x="601.11" y="302.79" width="11.88" height="1.92" rx="0.96" fill="#000" fill-opacity="0.49" filter="url(#bl)"/>
<rect x="614.60" y="301.32" width="13.80" height="4.85" rx="2.43" fill="#000" fill-opacity="0.22" filter="url(#bl2)"/>
<rect x="615.20" y="302.32" width="12.60" height="2.85" rx="1.43" fill="#000" fill-opacity="1.00" filter="url(#bl)"/>
<rect x="629.05" y="301.32" width="13.80" height="4.85" rx="2.43" fill="#000" fill-opacity="0.22" filter="url(#bl2)"/>
<rect x="629.65" y="302.32" width="12.60" height="2.85" rx="1.43" fill="#000" fill-opacity="1.00" filter="url(#bl)"/>
<rect x="643.50" y="301.32" width="13.80" height="4.85" rx="2.43" fill="#000" fill-opacity="0.22" filter="url(#bl2)"/>
<rect x="644.10" y="302.32" width="12.60" height="2.85" rx="1.43" fill="#000" fill-opacity="1.00" filter="url(#bl)"/>
<line x1="552.5" y1="307.0" x2="556.5" y2="307.0" stroke="#111" stroke-width="1.3"/>
<text x="550.2" y="309.7" font-size="7.5" font-weight="bold" text-anchor="end" stroke="#000">65 kDa</text>
<text x="574.8" y="292.9" font-size="7.6" font-weight="bold" text-anchor="middle" stroke="#000">0.05</text>
<text x="591.1" y="292.9" font-size="7.6" font-weight="bold" text-anchor="middle" stroke="#000">0.1</text>
<text x="605.2" y="292.9" font-size="7.6" font-weight="bold" text-anchor="middle" stroke="#000">0.2</text>
<text x="620.0" y="292.9" font-size="7.6" font-weight="bold" text-anchor="middle" stroke="#000">0.9</text>
<text x="634.9" y="292.9" font-size="7.6" font-weight="bold" text-anchor="middle" stroke="#000">1</text>
<text x="649.8" y="292.9" font-size="7.6" font-weight="bold" text-anchor="middle" stroke="#000">0.98</text>
<rect x="556.5" y="319.5" width="102.0" height="12.8" fill="#fff" stroke="#111" stroke-width="1.4"/>
<rect x="557.19" y="322.43" width="13.02" height="3.61" rx="1.80" fill="#000" fill-opacity="0.10" filter="url(#bl2)"/>
<rect x="557.79" y="323.43" width="11.82" height="1.61" rx="0.80" fill="#000" fill-opacity="0.44" filter="url(#bl)"/>
<rect x="571.79" y="322.60" width="12.72" height="3.27" rx="1.63" fill="#000" fill-opacity="0.04" filter="url(#bl2)"/>
<rect x="572.39" y="323.60" width="11.52" height="1.27" rx="0.63" fill="#000" fill-opacity="0.16" filter="url(#bl)"/>
<rect x="586.21" y="322.57" width="12.78" height="3.34" rx="1.67" fill="#000" fill-opacity="0.05" filter="url(#bl2)"/>
<rect x="586.81" y="323.57" width="11.58" height="1.34" rx="0.67" fill="#000" fill-opacity="0.22" filter="url(#bl)"/>
<rect x="600.48" y="322.37" width="13.14" height="3.74" rx="1.87" fill="#000" fill-opacity="0.12" filter="url(#bl2)"/>
<rect x="601.08" y="323.37" width="11.94" height="1.74" rx="0.87" fill="#000" fill-opacity="0.54" filter="url(#bl)"/>
<rect x="614.72" y="322.13" width="13.56" height="4.21" rx="2.11" fill="#000" fill-opacity="0.19" filter="url(#bl2)"/>
<rect x="615.32" y="323.13" width="12.36" height="2.21" rx="1.11" fill="#000" fill-opacity="0.85" filter="url(#bl)"/>
<rect x="629.05" y="321.99" width="13.80" height="4.48" rx="2.24" fill="#000" fill-opacity="0.22" filter="url(#bl2)"/>
<rect x="629.65" y="322.99" width="12.60" height="2.48" rx="1.24" fill="#000" fill-opacity="1.00" filter="url(#bl)"/>
<rect x="643.53" y="322.03" width="13.74" height="4.42" rx="2.21" fill="#000" fill-opacity="0.22" filter="url(#bl2)"/>
<rect x="644.13" y="323.03" width="12.54" height="2.42" rx="1.21" fill="#000" fill-opacity="0.98" filter="url(#bl)"/>
<rect x="557.13" y="325.95" width="13.14" height="4.00" rx="2.00" fill="#000" fill-opacity="0.12" filter="url(#bl2)"/>
<rect x="557.73" y="326.95" width="11.94" height="2.00" rx="1.00" fill="#000" fill-opacity="0.54" filter="url(#bl)"/>
<rect x="571.76" y="326.18" width="12.78" height="3.53" rx="1.77" fill="#000" fill-opacity="0.05" filter="url(#bl2)"/>
<rect x="572.36" y="327.18" width="11.58" height="1.53" rx="0.77" fill="#000" fill-opacity="0.22" filter="url(#bl)"/>
<rect x="586.15" y="326.10" width="12.90" height="3.69" rx="1.84" fill="#000" fill-opacity="0.07" filter="url(#bl2)"/>
<rect x="586.75" y="327.10" width="11.70" height="1.69" rx="0.84" fill="#000" fill-opacity="0.34" filter="url(#bl)"/>
<rect x="600.48" y="325.95" width="13.14" height="4.00" rx="2.00" fill="#000" fill-opacity="0.12" filter="url(#bl2)"/>
<rect x="601.08" y="326.95" width="11.94" height="2.00" rx="1.00" fill="#000" fill-opacity="0.54" filter="url(#bl)"/>
<rect x="614.75" y="325.72" width="13.50" height="4.46" rx="2.23" fill="#000" fill-opacity="0.18" filter="url(#bl2)"/>
<rect x="615.35" y="326.72" width="12.30" height="2.46" rx="1.23" fill="#000" fill-opacity="0.81" filter="url(#bl)"/>
<rect x="629.05" y="325.52" width="13.80" height="4.85" rx="2.43" fill="#000" fill-opacity="0.22" filter="url(#bl2)"/>
<rect x="629.65" y="326.52" width="12.60" height="2.85" rx="1.43" fill="#000" fill-opacity="1.00" filter="url(#bl)"/>
<rect x="643.50" y="325.52" width="13.80" height="4.85" rx="2.43" fill="#000" fill-opacity="0.22" filter="url(#bl2)"/>
<rect x="644.10" y="326.52" width="12.60" height="2.85" rx="1.43" fill="#000" fill-opacity="1.00" filter="url(#bl)"/>
<line x1="552.5" y1="330.1" x2="556.5" y2="330.1" stroke="#111" stroke-width="1.3"/>
<text x="550.2" y="332.8" font-size="7.5" font-weight="bold" text-anchor="end" stroke="#000">65 kDa</text>
<text x="573.3" y="317.1" font-size="7.6" font-weight="bold" text-anchor="middle" stroke="#000">0.04</text>
<text x="591.7" y="317.1" font-size="7.6" font-weight="bold" text-anchor="middle" stroke="#000">0.08</text>
<text x="608.0" y="317.1" font-size="7.6" font-weight="bold" text-anchor="middle" stroke="#000">0.2</text>
<text x="622.1" y="317.1" font-size="7.6" font-weight="bold" text-anchor="middle" stroke="#000">0.5</text>
<text x="634.9" y="317.1" font-size="7.6" font-weight="bold" text-anchor="middle" stroke="#000">1</text>
<text x="649.8" y="317.1" font-size="7.6" font-weight="bold" text-anchor="middle" stroke="#000">0.99</text>
<rect x="556.5" y="343.4" width="102.0" height="12.8" fill="#fff" stroke="#111" stroke-width="1.4"/>
<rect x="557.01" y="347.58" width="13.38" height="4.44" rx="2.22" fill="#000" fill-opacity="0.16" filter="url(#bl2)"/>
<rect x="557.61" y="348.58" width="12.18" height="2.44" rx="1.22" fill="#000" fill-opacity="0.72" filter="url(#bl)"/>
<rect x="571.25" y="347.29" width="13.80" height="5.02" rx="2.51" fill="#000" fill-opacity="0.22" filter="url(#bl2)"/>
<rect x="571.85" y="348.29" width="12.60" height="3.02" rx="1.51" fill="#000" fill-opacity="1.00" filter="url(#bl)"/>
<rect x="585.79" y="347.41" width="13.62" height="4.77" rx="2.39" fill="#000" fill-opacity="0.20" filter="url(#bl2)"/>
<rect x="586.39" y="348.41" width="12.42" height="2.77" rx="1.39" fill="#000" fill-opacity="0.90" filter="url(#bl)"/>
<rect x="600.51" y="347.78" width="13.08" height="4.03" rx="2.02" fill="#000" fill-opacity="0.11" filter="url(#bl2)"/>
<rect x="601.11" y="348.78" width="11.88" height="2.03" rx="1.02" fill="#000" fill-opacity="0.49" filter="url(#bl)"/>
<rect x="615.05" y="347.91" width="12.90" height="3.79" rx="1.89" fill="#000" fill-opacity="0.07" filter="url(#bl2)"/>
<rect x="615.65" y="348.91" width="11.70" height="1.79" rx="0.89" fill="#000" fill-opacity="0.34" filter="url(#bl)"/>
<rect x="629.50" y="347.91" width="12.90" height="3.79" rx="1.89" fill="#000" fill-opacity="0.07" filter="url(#bl2)"/>
<rect x="630.10" y="348.91" width="11.70" height="1.79" rx="0.89" fill="#000" fill-opacity="0.34" filter="url(#bl)"/>
<rect x="643.98" y="347.95" width="12.84" height="3.71" rx="1.85" fill="#000" fill-opacity="0.06" filter="url(#bl2)"/>
<rect x="644.58" y="348.95" width="11.64" height="1.71" rx="0.85" fill="#000" fill-opacity="0.28" filter="url(#bl)"/>
<line x1="552.5" y1="350.6" x2="556.5" y2="350.6" stroke="#111" stroke-width="1.3"/>
<text x="550.2" y="353.3" font-size="7.5" font-weight="bold" text-anchor="end" stroke="#000">37 kDa</text>
<text x="575.3" y="341.0" font-size="7.6" font-weight="bold" text-anchor="middle" stroke="#000">1</text>
<text x="590.2" y="341.0" font-size="7.6" font-weight="bold" text-anchor="middle" stroke="#000">0.8</text>
<text x="605.1" y="341.0" font-size="7.6" font-weight="bold" text-anchor="middle" stroke="#000">0.4</text>
<text x="620.0" y="341.0" font-size="7.6" font-weight="bold" text-anchor="middle" stroke="#000">0.3</text>
<text x="634.9" y="341.0" font-size="7.6" font-weight="bold" text-anchor="middle" stroke="#000">0.2</text>
<text x="649.8" y="341.0" font-size="7.6" font-weight="bold" text-anchor="middle" stroke="#000">0.2</text>
<rect x="556.5" y="367.7" width="102.0" height="12.8" fill="#fff" stroke="#111" stroke-width="1.4"/>
<rect x="556.89" y="371.71" width="13.62" height="4.77" rx="2.39" fill="#000" fill-opacity="0.20" filter="url(#bl2)"/>
<rect x="557.49" y="372.71" width="12.42" height="2.77" rx="1.39" fill="#000" fill-opacity="0.90" filter="url(#bl)"/>
<rect x="571.25" y="371.59" width="13.80" height="5.02" rx="2.51" fill="#000" fill-opacity="0.22" filter="url(#bl2)"/>
<rect x="571.85" y="372.59" width="12.60" height="3.02" rx="1.51" fill="#000" fill-opacity="1.00" filter="url(#bl)"/>
<rect x="585.73" y="371.63" width="13.74" height="4.94" rx="2.47" fill="#000" fill-opacity="0.22" filter="url(#bl2)"/>
<rect x="586.33" y="372.63" width="12.54" height="2.94" rx="1.47" fill="#000" fill-opacity="0.98" filter="url(#bl)"/>
<rect x="600.54" y="372.12" width="13.02" height="3.95" rx="1.98" fill="#000" fill-opacity="0.10" filter="url(#bl2)"/>
<rect x="601.14" y="373.12" width="11.82" height="1.95" rx="0.98" fill="#000" fill-opacity="0.44" filter="url(#bl)"/>
<rect x="615.02" y="372.17" width="12.96" height="3.87" rx="1.93" fill="#000" fill-opacity="0.09" filter="url(#bl2)"/>
<rect x="615.62" y="373.17" width="11.76" height="1.87" rx="0.93" fill="#000" fill-opacity="0.39" filter="url(#bl)"/>
<rect x="629.50" y="372.21" width="12.90" height="3.79" rx="1.89" fill="#000" fill-opacity="0.07" filter="url(#bl2)"/>
<rect x="630.10" y="373.21" width="11.70" height="1.79" rx="0.89" fill="#000" fill-opacity="0.34" filter="url(#bl)"/>
<rect x="643.98" y="372.25" width="12.84" height="3.71" rx="1.85" fill="#000" fill-opacity="0.06" filter="url(#bl2)"/>
<rect x="644.58" y="373.25" width="11.64" height="1.71" rx="0.85" fill="#000" fill-opacity="0.28" filter="url(#bl)"/>
<line x1="552.5" y1="374.5" x2="556.5" y2="374.5" stroke="#111" stroke-width="1.3"/>
<text x="550.2" y="377.2" font-size="7.5" font-weight="bold" text-anchor="end" stroke="#000">37 kDa</text>
<text x="575.3" y="365.3" font-size="7.6" font-weight="bold" text-anchor="middle" stroke="#000">1</text>
<text x="590.2" y="365.3" font-size="7.6" font-weight="bold" text-anchor="middle" stroke="#000">0.8</text>
<text x="605.1" y="365.3" font-size="7.6" font-weight="bold" text-anchor="middle" stroke="#000">0.3</text>
<text x="620.0" y="365.3" font-size="7.6" font-weight="bold" text-anchor="middle" stroke="#000">0.2</text>
<text x="634.9" y="365.3" font-size="7.6" font-weight="bold" text-anchor="middle" stroke="#000">0.2</text>
<text x="649.8" y="365.3" font-size="7.6" font-weight="bold" text-anchor="middle" stroke="#000">0.2</text>
<line x1="562.5" y1="384.4" x2="653.5" y2="384.4" stroke="#111" stroke-width="1.4"/>
<text x="607.8" y="395.6" font-size="9.8" font-weight="bold" text-anchor="middle" stroke="#000">Yamato</text>
<text x="207.0" y="61.7" font-size="8.9" font-weight="bold" fill="#1f3cd8" text-anchor="middle" stroke="#1f3cd8">ARID1A (No Rx)</text>
<text x="207.0" y="86.7" font-size="8.9" font-weight="bold" fill="#1f3cd8" text-anchor="middle" stroke="#1f3cd8">ARID1A (TAK-981)</text>
<text x="207.0" y="111.7" font-size="8.9" font-weight="bold" fill="#d61ee6" text-anchor="middle" stroke="#d61ee6">BAF47 (No Rx)</text>
<text x="207.0" y="136.2" font-size="8.9" font-weight="bold" fill="#d61ee6" text-anchor="middle" stroke="#d61ee6">BAF47 (TAK-981)</text>
<text x="207.0" y="160.0" font-size="8.9" font-weight="bold" fill="#c424ec" text-anchor="middle" stroke="#c424ec">SMARCE1 (No Rx)</text>
<text x="207.0" y="183.0" font-size="8.9" font-weight="bold" fill="#c424ec" text-anchor="middle" stroke="#c424ec">SMARCE1 (TAK-981)</text>
<text x="207.0" y="205.9" font-size="8.9" font-weight="bold" fill="#f01c1c" text-anchor="middle" stroke="#f01c1c">BRD9 (No Rx)</text>
<text x="207.0" y="230.8" font-size="8.9" font-weight="bold" fill="#f01c1c" text-anchor="middle" stroke="#f01c1c">BRD9 (TAK-981)</text>
<text x="207.0" y="255.3" font-size="8.9" font-weight="bold" fill="#2ee02e" text-anchor="middle" stroke="#2ee02e">ARID2 (No Rx)</text>
<text x="207.0" y="280.0" font-size="8.9" font-weight="bold" fill="#2ee02e" text-anchor="middle" stroke="#2ee02e">ARID2 (TAK-981)</text>
<text x="207.0" y="304.6" font-size="8.9" font-weight="bold" fill="#1a1a1a" text-anchor="middle" stroke="#1a1a1a">SS18::SSX (No Rx)</text>
<text x="207.0" y="328.8" font-size="8.9" font-weight="bold" fill="#1a1a1a" text-anchor="middle" stroke="#1a1a1a">SS18::SSX (TAK-981)</text>
<text x="207.0" y="352.7" font-size="8.9" font-weight="bold" fill="#1a1a1a" text-anchor="middle" stroke="#1a1a1a">GAPDH (No Rx)</text>
<text x="207.0" y="377.0" font-size="8.9" font-weight="bold" fill="#1a1a1a" text-anchor="middle" stroke="#1a1a1a">GAPDH (TAK-981)</text>
<text x="464.3" y="61.7" font-size="8.9" font-weight="bold" fill="#1f3cd8" text-anchor="middle" stroke="#1f3cd8">ARID1A (No Rx)</text>
<text x="464.3" y="86.7" font-size="8.9" font-weight="bold" fill="#1f3cd8" text-anchor="middle" stroke="#1f3cd8">ARID1A (TAK-981)</text>
<text x="464.3" y="111.7" font-size="8.9" font-weight="bold" fill="#d61ee6" text-anchor="middle" stroke="#d61ee6">BAF47 (No Rx)</text>
<text x="464.3" y="136.2" font-size="8.9" font-weight="bold" fill="#d61ee6" text-anchor="middle" stroke="#d61ee6">BAF47 (TAK-981)</text>
<text x="464.3" y="160.0" font-size="8.9" font-weight="bold" fill="#c424ec" text-anchor="middle" stroke="#c424ec">SMARCE1 (No Rx)</text>
<text x="464.3" y="183.0" font-size="8.9" font-weight="bold" fill="#c424ec" text-anchor="middle" stroke="#c424ec">SMARCE1 (TAK-981)</text>
<text x="464.3" y="205.9" font-size="8.9" font-weight="bold" fill="#f01c1c" text-anchor="middle" stroke="#f01c1c">BRD9 (No Rx)</text>
<text x="464.3" y="230.8" font-size="8.9" font-weight="bold" fill="#f01c1c" text-anchor="middle" stroke="#f01c1c">BRD9 (TAK-981)</text>
<text x="464.3" y="255.3" font-size="8.9" font-weight="bold" fill="#2ee02e" text-anchor="middle" stroke="#2ee02e">ARID2 (No Rx)</text>
<text x="464.3" y="280.0" font-size="8.9" font-weight="bold" fill="#2ee02e" text-anchor="middle" stroke="#2ee02e">ARID2 (TAK-981)</text>
<text x="464.3" y="304.6" font-size="8.9" font-weight="bold" fill="#1a1a1a" text-anchor="middle" stroke="#1a1a1a">SS18::SSX (No Rx)</text>
<text x="464.3" y="328.8" font-size="8.9" font-weight="bold" fill="#1a1a1a" text-anchor="middle" stroke="#1a1a1a">SS18::SSX (TAK-981)</text>
<text x="464.3" y="352.7" font-size="8.9" font-weight="bold" fill="#1a1a1a" text-anchor="middle" stroke="#1a1a1a">GAPDH (No Rx)</text>
<text x="464.3" y="377.0" font-size="8.9" font-weight="bold" fill="#1a1a1a" text-anchor="middle" stroke="#1a1a1a">GAPDH (TAK-981)</text>
<text x="10.5" y="431.3" font-size="26" font-weight="bold" stroke="#000">B</text>
<text x="243.3" y="430.9" font-size="26" font-weight="bold" stroke="#000">C</text>
<text x="466.6" y="430.9" font-size="26" font-weight="bold" stroke="#000">D</text>
<line x1="222.5" y1="430" x2="222.5" y2="704" stroke="#d6e0f2" stroke-width="1"/>
<line x1="445.6" y1="430" x2="445.6" y2="704" stroke="#d6e0f2" stroke-width="1"/>
<text x="117.8" y="436.1" font-size="13.7" font-weight="bold" text-anchor="middle" stroke="#000">SYO-1</text>
<text x="340.9" y="436.1" font-size="13.7" font-weight="bold" text-anchor="middle" stroke="#000">HS-SY-II</text>
<text x="565.3" y="436.1" font-size="13.7" font-weight="bold" text-anchor="middle" stroke="#000">Yamato</text>
<rect x="82.65" y="527.40" width="2.75" height="3.20" fill="#d3e1fa" stroke="#7f9ee9" stroke-width="0.7"/>
<rect x="94.50" y="478.35" width="2.75" height="41.65" fill="#d3e1fa" stroke="#7f9ee9" stroke-width="0.7"/>
<rect x="94.50" y="522.95" width="2.75" height="7.65" fill="#d3e1fa" stroke="#7f9ee9" stroke-width="0.7"/>
<rect x="106.35" y="481.11" width="2.75" height="38.89" fill="#d3e1fa" stroke="#7f9ee9" stroke-width="0.7"/>
<rect x="106.35" y="522.95" width="2.75" height="7.65" fill="#d3e1fa" stroke="#7f9ee9" stroke-width="0.7"/>
<rect x="118.20" y="518.65" width="2.75" height="1.35" fill="#d3e1fa" stroke="#7f9ee9" stroke-width="0.7"/>
<rect x="118.20" y="522.95" width="2.75" height="7.65" fill="#d3e1fa" stroke="#7f9ee9" stroke-width="0.7"/>
<rect x="121.30" y="525.27" width="3.45" height="5.33" fill="#0a14ee"/>
<rect x="130.05" y="497.67" width="2.75" height="22.33" fill="#d3e1fa" stroke="#7f9ee9" stroke-width="0.7"/>
<rect x="130.05" y="522.95" width="2.75" height="7.65" fill="#d3e1fa" stroke="#7f9ee9" stroke-width="0.7"/>
<rect x="133.15" y="478.00" width="3.45" height="42.00" fill="#0a14ee"/>
<rect x="133.15" y="522.60" width="3.45" height="8.00" fill="#0a14ee"/>
<rect x="141.90" y="518.65" width="2.75" height="1.35" fill="#d3e1fa" stroke="#7f9ee9" stroke-width="0.7"/>
<rect x="141.90" y="522.95" width="2.75" height="7.65" fill="#d3e1fa" stroke="#7f9ee9" stroke-width="0.7"/>
<rect x="145.00" y="486.83" width="3.45" height="33.17" fill="#0a14ee"/>
<rect x="145.00" y="522.60" width="3.45" height="8.00" fill="#0a14ee"/>
<line x1="81.1" y1="478.0" x2="81.1" y2="519.4" stroke="#222" stroke-width="1.1"/>
<line x1="81.1" y1="523.2" x2="81.1" y2="530.6" stroke="#222" stroke-width="1.1"/>
<line x1="80.6" y1="530.6" x2="149.9" y2="530.6" stroke="#333" stroke-width="1.3"/>
<line x1="78.89999999999999" y1="478.0" x2="81.1" y2="478.0" stroke="#222" stroke-width="0.9"/>
<text x="77.89999999999999" y="480.7" font-size="7.7" font-weight="bold" text-anchor="end" stroke="#000">1</text>
<line x1="78.89999999999999" y1="491.8" x2="81.1" y2="491.8" stroke="#222" stroke-width="0.9"/>
<text x="77.89999999999999" y="494.5" font-size="7.7" font-weight="bold" text-anchor="end" stroke="#000">0.75</text>
<line x1="78.89999999999999" y1="505.6" x2="81.1" y2="505.6" stroke="#222" stroke-width="0.9"/>
<text x="77.89999999999999" y="508.3" font-size="7.7" font-weight="bold" text-anchor="end" stroke="#000">0.5</text>
<line x1="78.89999999999999" y1="520.2" x2="81.1" y2="519.4" stroke="#222" stroke-width="0.9"/>
<line x1="78.89999999999999" y1="522.4" x2="81.1" y2="523.2" stroke="#222" stroke-width="0.9"/>
<text x="77.89999999999999" y="524.2" font-size="7.7" font-weight="bold" text-anchor="end" stroke="#000">0.25</text>
<text x="77.89999999999999" y="533.5" font-size="7.7" font-weight="bold" text-anchor="end" stroke="#000">0</text>
<text x="89.3" y="534.2" font-size="7.4" font-weight="bold" text-anchor="end" transform="rotate(-55 89.3 534.2)" stroke="#000">0</text>
<text x="101.2" y="534.2" font-size="7.4" font-weight="bold" text-anchor="end" transform="rotate(-55 101.2 534.2)" stroke="#000">150</text>
<text x="113.0" y="534.2" font-size="7.4" font-weight="bold" text-anchor="end" transform="rotate(-55 113.0 534.2)" stroke="#000">300</text>
<text x="124.9" y="534.2" font-size="7.4" font-weight="bold" text-anchor="end" transform="rotate(-55 124.9 534.2)" stroke="#000">500</text>
<text x="136.7" y="534.2" font-size="7.4" font-weight="bold" text-anchor="end" transform="rotate(-55 136.7 534.2)" stroke="#000">1000</text>
<text x="148.6" y="534.2" font-size="7.4" font-weight="bold" text-anchor="end" transform="rotate(-55 148.6 534.2)" stroke="#000">Pellet</text>
<text x="116.7" y="463.4" font-size="8.8" font-weight="bold" text-anchor="middle" stroke="#000">ARID1A</text>
<line x1="114.5" y1="471.3" x2="92.4" y2="471.3" stroke="#a9c6f4" stroke-width="2.4"/>
<path d="M88.4,471.3 L93.4,468.4 L93.4,474.2 Z" fill="#a9c6f4"/>
<line x1="118.2" y1="471.3" x2="141.5" y2="471.3" stroke="#1426e6" stroke-width="2.4"/>
<path d="M145.5,471.3 L140.5,468.4 L140.5,474.2 Z" fill="#1426e6"/>
<rect x="159.0" y="455.59999999999997" width="9.4" height="5.3" fill="#d3e1fa" stroke="#7f9ee9" stroke-width="0.8"/>
<rect x="158.6" y="465.59999999999997" width="10.2" height="5.9" fill="#0a14ee"/>
<text x="171.4" y="460.8" font-size="7.6" font-weight="bold" stroke="#000">No Rx</text>
<text x="171.4" y="471.4" font-size="7.6" font-weight="bold" stroke="#000">TAK-981</text>
<text x="56.4" y="500.3" font-size="8.8" font-weight="bold" text-anchor="middle" transform="rotate(-90 56.4 500.3)" stroke="#000">Relative WB density</text>
<text x="117.5" y="562" font-size="8.9" font-weight="bold" text-anchor="middle" stroke="#000">Salt concentration (mM)</text>
<rect x="309.95" y="529.65" width="2.60" height="0.95" fill="#d3e1fa" stroke="#7f9ee9" stroke-width="0.7"/>
<rect x="312.90" y="529.30" width="3.30" height="1.30" fill="#0a14ee"/>
<rect x="321.85" y="529.65" width="2.60" height="0.95" fill="#d3e1fa" stroke="#7f9ee9" stroke-width="0.7"/>
<rect x="324.80" y="529.30" width="3.30" height="1.30" fill="#0a14ee"/>
<rect x="333.75" y="478.35" width="2.60" height="41.65" fill="#d3e1fa" stroke="#7f9ee9" stroke-width="0.7"/>
<rect x="333.75" y="522.95" width="2.60" height="7.65" fill="#d3e1fa" stroke="#7f9ee9" stroke-width="0.7"/>
<rect x="336.70" y="492.90" width="3.30" height="27.10" fill="#0a14ee"/>
<rect x="336.70" y="522.60" width="3.30" height="8.00" fill="#0a14ee"/>
<rect x="345.65" y="480.01" width="2.60" height="39.99" fill="#d3e1fa" stroke="#7f9ee9" stroke-width="0.7"/>
<rect x="345.65" y="522.95" width="2.60" height="7.65" fill="#d3e1fa" stroke="#7f9ee9" stroke-width="0.7"/>
<rect x="348.60" y="478.00" width="3.30" height="42.00" fill="#0a14ee"/>
<rect x="348.60" y="522.60" width="3.30" height="8.00" fill="#0a14ee"/>
<rect x="360.50" y="529.30" width="3.30" height="1.30" fill="#0a14ee"/>
<rect x="372.40" y="529.30" width="3.30" height="1.30" fill="#0a14ee"/>
<line x1="308.4" y1="478.0" x2="308.4" y2="519.4" stroke="#222" stroke-width="1.1"/>
<line x1="308.4" y1="523.2" x2="308.4" y2="530.6" stroke="#222" stroke-width="1.1"/>
<line x1="307.9" y1="530.6" x2="376.7" y2="530.6" stroke="#333" stroke-width="1.3"/>
<line x1="306.2" y1="478.0" x2="308.4" y2="478.0" stroke="#222" stroke-width="0.9"/>
<text x="305.2" y="480.7" font-size="7.7" font-weight="bold" text-anchor="end" stroke="#000">1</text>
<line x1="306.2" y1="491.8" x2="308.4" y2="491.8" stroke="#222" stroke-width="0.9"/>
<text x="305.2" y="494.5" font-size="7.7" font-weight="bold" text-anchor="end" stroke="#000">0.75</text>
<line x1="306.2" y1="505.6" x2="308.4" y2="505.6" stroke="#222" stroke-width="0.9"/>
<text x="305.2" y="508.3" font-size="7.7" font-weight="bold" text-anchor="end" stroke="#000">0.5</text>
<line x1="306.2" y1="520.2" x2="308.4" y2="519.4" stroke="#222" stroke-width="0.9"/>
<line x1="306.2" y1="522.4" x2="308.4" y2="523.2" stroke="#222" stroke-width="0.9"/>
<text x="305.2" y="524.2" font-size="7.7" font-weight="bold" text-anchor="end" stroke="#000">0.25</text>
<text x="305.2" y="533.5" font-size="7.7" font-weight="bold" text-anchor="end" stroke="#000">0</text>
<text x="316.5" y="534.2" font-size="7.4" font-weight="bold" text-anchor="end" transform="rotate(-55 316.5 534.2)" stroke="#000">0</text>
<text x="328.4" y="534.2" font-size="7.4" font-weight="bold" text-anchor="end" transform="rotate(-55 328.4 534.2)" stroke="#000">150</text>
<text x="340.3" y="534.2" font-size="7.4" font-weight="bold" text-anchor="end" transform="rotate(-55 340.3 534.2)" stroke="#000">300</text>
<text x="352.2" y="534.2" font-size="7.4" font-weight="bold" text-anchor="end" transform="rotate(-55 352.2 534.2)" stroke="#000">500</text>
<text x="364.1" y="534.2" font-size="7.4" font-weight="bold" text-anchor="end" transform="rotate(-55 364.1 534.2)" stroke="#000">1000</text>
<text x="376.0" y="534.2" font-size="7.4" font-weight="bold" text-anchor="end" transform="rotate(-55 376.0 534.2)" stroke="#000">Pellet</text>
<text x="345.3" y="462.3" font-size="8.8" font-weight="bold" text-anchor="middle" stroke="#000">ARID1A</text>
<line x1="358" y1="468.9" x2="335.2" y2="468.9" stroke="#a9c6f4" stroke-width="2.4"/>
<path d="M331.2,468.9 L336.2,466.0 L336.2,471.8 Z" fill="#a9c6f4"/>
<rect x="370.09999999999997" y="456.0" width="9.4" height="5.3" fill="#d3e1fa" stroke="#7f9ee9" stroke-width="0.8"/>
<rect x="369.7" y="466.0" width="10.2" height="5.9" fill="#0a14ee"/>
<text x="382.5" y="461.20000000000005" font-size="7.6" font-weight="bold" stroke="#000">No Rx</text>
<text x="382.5" y="471.8" font-size="7.6" font-weight="bold" stroke="#000">TAK-981</text>
<text x="280.0" y="500.0" font-size="8.8" font-weight="bold" text-anchor="middle" transform="rotate(-90 280.0 500.0)" stroke="#000">Relative WB density</text>
<text x="344.2" y="561.2" font-size="8.9" font-weight="bold" text-anchor="middle" stroke="#000">Salt concentration (mM)</text>
<rect x="536.75" y="505.95" width="2.80" height="14.05" fill="#d3e1fa" stroke="#7f9ee9" stroke-width="0.7"/>
<rect x="536.75" y="522.95" width="2.80" height="7.65" fill="#d3e1fa" stroke="#7f9ee9" stroke-width="0.7"/>
<rect x="539.90" y="529.30" width="3.50" height="1.30" fill="#0a14ee"/>
<rect x="549.80" y="481.11" width="2.80" height="38.89" fill="#d3e1fa" stroke="#7f9ee9" stroke-width="0.7"/>
<rect x="549.80" y="522.95" width="2.80" height="7.65" fill="#d3e1fa" stroke="#7f9ee9" stroke-width="0.7"/>
<rect x="552.95" y="527.05" width="3.50" height="3.55" fill="#0a14ee"/>
<rect x="562.85" y="491.05" width="2.80" height="28.95" fill="#d3e1fa" stroke="#7f9ee9" stroke-width="0.7"/>
<rect x="562.85" y="522.95" width="2.80" height="7.65" fill="#d3e1fa" stroke="#7f9ee9" stroke-width="0.7"/>
<rect x="566.00" y="492.90" width="3.50" height="27.10" fill="#0a14ee"/>
<rect x="566.00" y="522.60" width="3.50" height="8.00" fill="#0a14ee"/>
<rect x="575.90" y="478.35" width="2.80" height="41.65" fill="#d3e1fa" stroke="#7f9ee9" stroke-width="0.7"/>
<rect x="575.90" y="522.95" width="2.80" height="7.65" fill="#d3e1fa" stroke="#7f9ee9" stroke-width="0.7"/>
<rect x="579.05" y="478.00" width="3.50" height="42.00" fill="#0a14ee"/>
<rect x="579.05" y="522.60" width="3.50" height="8.00" fill="#0a14ee"/>
<rect x="592.10" y="526.16" width="3.50" height="4.44" fill="#0a14ee"/>
<rect x="605.15" y="529.30" width="3.50" height="1.30" fill="#0a14ee"/>
<line x1="535.2" y1="478.0" x2="535.2" y2="519.4" stroke="#222" stroke-width="1.1"/>
<line x1="535.2" y1="523.2" x2="535.2" y2="530.6" stroke="#222" stroke-width="1.1"/>
<line x1="534.7" y1="530.6" x2="609.7" y2="530.6" stroke="#333" stroke-width="1.3"/>
<line x1="533.0" y1="478.0" x2="535.2" y2="478.0" stroke="#222" stroke-width="0.9"/>
<text x="532.0" y="480.7" font-size="7.7" font-weight="bold" text-anchor="end" stroke="#000">1</text>
<line x1="533.0" y1="491.8" x2="535.2" y2="491.8" stroke="#222" stroke-width="0.9"/>
<text x="532.0" y="494.5" font-size="7.7" font-weight="bold" text-anchor="end" stroke="#000">0.75</text>
<line x1="533.0" y1="505.6" x2="535.2" y2="505.6" stroke="#222" stroke-width="0.9"/>
<text x="532.0" y="508.3" font-size="7.7" font-weight="bold" text-anchor="end" stroke="#000">0.5</text>
<line x1="533.0" y1="520.2" x2="535.2" y2="519.4" stroke="#222" stroke-width="0.9"/>
<line x1="533.0" y1="522.4" x2="535.2" y2="523.2" stroke="#222" stroke-width="0.9"/>
<text x="532.0" y="524.2" font-size="7.7" font-weight="bold" text-anchor="end" stroke="#000">0.25</text>
<text x="532.0" y="533.5" font-size="7.7" font-weight="bold" text-anchor="end" stroke="#000">0</text>
<text x="543.5" y="534.2" font-size="7.4" font-weight="bold" text-anchor="end" transform="rotate(-55 543.5 534.2)" stroke="#000">0</text>
<text x="556.6" y="534.2" font-size="7.4" font-weight="bold" text-anchor="end" transform="rotate(-55 556.6 534.2)" stroke="#000">150</text>
<text x="569.6" y="534.2" font-size="7.4" font-weight="bold" text-anchor="end" transform="rotate(-55 569.6 534.2)" stroke="#000">300</text>
<text x="582.7" y="534.2" font-size="7.4" font-weight="bold" text-anchor="end" transform="rotate(-55 582.7 534.2)" stroke="#000">500</text>
<text x="595.7" y="534.2" font-size="7.4" font-weight="bold" text-anchor="end" transform="rotate(-55 595.7 534.2)" stroke="#000">1000</text>
<text x="608.8" y="534.2" font-size="7.4" font-weight="bold" text-anchor="end" transform="rotate(-55 608.8 534.2)" stroke="#000">Pellet</text>
<text x="567.2" y="462.3" font-size="8.8" font-weight="bold" text-anchor="middle" stroke="#000">ARID1A</text>
<line x1="565.9" y1="471.5" x2="542.4" y2="471.5" stroke="#a9c6f4" stroke-width="2.4"/>
<path d="M538.4,471.5 L543.4,468.6 L543.4,474.4 Z" fill="#a9c6f4"/>
<line x1="568.7" y1="471.5" x2="591.9" y2="471.5" stroke="#1426e6" stroke-width="2.4"/>
<path d="M595.9,471.5 L590.9,468.6 L590.9,474.4 Z" fill="#1426e6"/>
<rect x="608.9" y="456.0" width="9.4" height="5.3" fill="#d3e1fa" stroke="#7f9ee9" stroke-width="0.8"/>
<rect x="608.5" y="466.0" width="10.2" height="5.9" fill="#0a14ee"/>
<text x="621.3" y="461.20000000000005" font-size="7.6" font-weight="bold" stroke="#000">No Rx</text>
<text x="621.3" y="471.8" font-size="7.6" font-weight="bold" stroke="#000">TAK-981</text>
<text x="505.0" y="504.0" font-size="8.8" font-weight="bold" text-anchor="middle" transform="rotate(-90 505.0 504.0)" stroke="#000">Relative WB density</text>
<text x="570.8" y="561" font-size="8.9" font-weight="bold" text-anchor="middle" stroke="#000">Salt concentration (mM)</text>
<rect x="33.55" y="669.52" width="2.80" height="4.68" fill="#efccf7" stroke="#dca6ec" stroke-width="0.7"/>
<rect x="45.40" y="660.14" width="2.80" height="3.56" fill="#efccf7" stroke="#dca6ec" stroke-width="0.7"/>
<rect x="45.40" y="666.55" width="2.80" height="7.65" fill="#efccf7" stroke="#dca6ec" stroke-width="0.7"/>
<rect x="57.25" y="638.61" width="2.80" height="25.09" fill="#efccf7" stroke="#dca6ec" stroke-width="0.7"/>
<rect x="57.25" y="666.55" width="2.80" height="7.65" fill="#efccf7" stroke="#dca6ec" stroke-width="0.7"/>
<rect x="60.40" y="668.28" width="3.50" height="5.92" fill="#9d0fd8"/>
<rect x="69.10" y="622.05" width="2.80" height="41.65" fill="#efccf7" stroke="#dca6ec" stroke-width="0.7"/>
<rect x="69.10" y="666.55" width="2.80" height="7.65" fill="#efccf7" stroke="#dca6ec" stroke-width="0.7"/>
<rect x="72.25" y="650.40" width="3.50" height="13.30" fill="#9d0fd8"/>
<rect x="72.25" y="666.20" width="3.50" height="8.00" fill="#9d0fd8"/>
<rect x="80.95" y="646.89" width="2.80" height="16.81" fill="#efccf7" stroke="#dca6ec" stroke-width="0.7"/>
<rect x="80.95" y="666.55" width="2.80" height="7.65" fill="#efccf7" stroke="#dca6ec" stroke-width="0.7"/>
<rect x="84.10" y="639.92" width="3.50" height="23.78" fill="#9d0fd8"/>
<rect x="84.10" y="666.20" width="3.50" height="8.00" fill="#9d0fd8"/>
<rect x="92.80" y="627.57" width="2.80" height="36.13" fill="#efccf7" stroke="#dca6ec" stroke-width="0.7"/>
<rect x="92.80" y="666.55" width="2.80" height="7.65" fill="#efccf7" stroke="#dca6ec" stroke-width="0.7"/>
<rect x="95.95" y="621.70" width="3.50" height="42.00" fill="#9d0fd8"/>
<rect x="95.95" y="666.20" width="3.50" height="8.00" fill="#9d0fd8"/>
<line x1="32.0" y1="621.7" x2="32.0" y2="663.1" stroke="#222" stroke-width="1.1"/>
<line x1="32.0" y1="666.8" x2="32.0" y2="674.2" stroke="#222" stroke-width="1.1"/>
<line x1="31.5" y1="674.2" x2="100.0" y2="674.2" stroke="#333" stroke-width="1.3"/>
<line x1="29.8" y1="621.7" x2="32.0" y2="621.7" stroke="#222" stroke-width="0.9"/>
<text x="28.8" y="624.4" font-size="7.7" font-weight="bold" text-anchor="end" stroke="#000">1</text>
<line x1="29.8" y1="635.5" x2="32.0" y2="635.5" stroke="#222" stroke-width="0.9"/>
<text x="28.8" y="638.2" font-size="7.7" font-weight="bold" text-anchor="end" stroke="#000">0.75</text>
<line x1="29.8" y1="649.3" x2="32.0" y2="649.3" stroke="#222" stroke-width="0.9"/>
<text x="28.8" y="652.0" font-size="7.7" font-weight="bold" text-anchor="end" stroke="#000">0.5</text>
<line x1="29.8" y1="663.9" x2="32.0" y2="663.1" stroke="#222" stroke-width="0.9"/>
<line x1="29.8" y1="666.0" x2="32.0" y2="666.8" stroke="#222" stroke-width="0.9"/>
<text x="28.8" y="667.9" font-size="7.7" font-weight="bold" text-anchor="end" stroke="#000">0.25</text>
<text x="28.8" y="677.1" font-size="7.7" font-weight="bold" text-anchor="end" stroke="#000">0</text>
<text x="40.3" y="677.8" font-size="7.4" font-weight="bold" text-anchor="end" transform="rotate(-55 40.3 677.8)" stroke="#000">0</text>
<text x="52.2" y="677.8" font-size="7.4" font-weight="bold" text-anchor="end" transform="rotate(-55 52.2 677.8)" stroke="#000">150</text>
<text x="64.0" y="677.8" font-size="7.4" font-weight="bold" text-anchor="end" transform="rotate(-55 64.0 677.8)" stroke="#000">300</text>
<text x="75.8" y="677.8" font-size="7.4" font-weight="bold" text-anchor="end" transform="rotate(-55 75.8 677.8)" stroke="#000">500</text>
<text x="87.7" y="677.8" font-size="7.4" font-weight="bold" text-anchor="end" transform="rotate(-55 87.7 677.8)" stroke="#000">1000</text>
<text x="99.5" y="677.8" font-size="7.4" font-weight="bold" text-anchor="end" transform="rotate(-55 99.5 677.8)" stroke="#000">Pellet</text>
<text x="71" y="603.6" font-size="8.8" font-weight="bold" text-anchor="middle" stroke="#000">SMARCE1</text>
<line x1="70" y1="609.4" x2="47.0" y2="609.4" stroke="#e9a6f2" stroke-width="2.4"/>
<path d="M43,609.4 L48.0,606.5 L48.0,612.3 Z" fill="#e9a6f2"/>
<line x1="73.2" y1="609.4" x2="96.7" y2="609.4" stroke="#9414cc" stroke-width="2.4"/>
<path d="M100.7,609.4 L95.7,606.5 L95.7,612.3 Z" fill="#9414cc"/>
<rect x="134.75" y="671.59" width="2.65" height="2.61" fill="#efccf7" stroke="#dca6ec" stroke-width="0.7"/>
<rect x="146.50" y="660.69" width="2.65" height="3.01" fill="#efccf7" stroke="#dca6ec" stroke-width="0.7"/>
<rect x="146.50" y="666.55" width="2.65" height="7.65" fill="#efccf7" stroke="#dca6ec" stroke-width="0.7"/>
<rect x="149.50" y="672.13" width="3.35" height="2.07" fill="#9d0fd8"/>
<rect x="158.25" y="645.79" width="2.65" height="17.91" fill="#efccf7" stroke="#dca6ec" stroke-width="0.7"/>
<rect x="158.25" y="666.55" width="2.65" height="7.65" fill="#efccf7" stroke="#dca6ec" stroke-width="0.7"/>
<rect x="161.25" y="656.48" width="3.35" height="7.22" fill="#9d0fd8"/>
<rect x="161.25" y="666.20" width="3.35" height="8.00" fill="#9d0fd8"/>
<rect x="170.00" y="638.61" width="2.65" height="25.09" fill="#efccf7" stroke="#dca6ec" stroke-width="0.7"/>
<rect x="170.00" y="666.55" width="2.65" height="7.65" fill="#efccf7" stroke="#dca6ec" stroke-width="0.7"/>
<rect x="173.00" y="652.06" width="3.35" height="11.64" fill="#9d0fd8"/>
<rect x="173.00" y="666.20" width="3.35" height="8.00" fill="#9d0fd8"/>
<rect x="181.75" y="640.82" width="2.65" height="22.88" fill="#efccf7" stroke="#dca6ec" stroke-width="0.7"/>
<rect x="181.75" y="666.55" width="2.65" height="7.65" fill="#efccf7" stroke="#dca6ec" stroke-width="0.7"/>
<rect x="184.75" y="638.26" width="3.35" height="25.44" fill="#9d0fd8"/>
<rect x="184.75" y="666.20" width="3.35" height="8.00" fill="#9d0fd8"/>
<rect x="193.50" y="622.05" width="2.65" height="41.65" fill="#efccf7" stroke="#dca6ec" stroke-width="0.7"/>
<rect x="193.50" y="666.55" width="2.65" height="7.65" fill="#efccf7" stroke="#dca6ec" stroke-width="0.7"/>
<rect x="196.50" y="621.70" width="3.35" height="42.00" fill="#9d0fd8"/>
<rect x="196.50" y="666.20" width="3.35" height="8.00" fill="#9d0fd8"/>
<line x1="133.2" y1="621.7" x2="133.2" y2="663.1" stroke="#222" stroke-width="1.1"/>
<line x1="133.2" y1="666.8" x2="133.2" y2="674.2" stroke="#222" stroke-width="1.1"/>
<line x1="132.7" y1="674.2" x2="201.0" y2="674.2" stroke="#333" stroke-width="1.3"/>
<line x1="131.0" y1="621.7" x2="133.2" y2="621.7" stroke="#222" stroke-width="0.9"/>
<text x="130.0" y="624.4" font-size="7.7" font-weight="bold" text-anchor="end" stroke="#000">1</text>
<line x1="131.0" y1="635.5" x2="133.2" y2="635.5" stroke="#222" stroke-width="0.9"/>
<text x="130.0" y="638.2" font-size="7.7" font-weight="bold" text-anchor="end" stroke="#000">0.75</text>
<line x1="131.0" y1="649.3" x2="133.2" y2="649.3" stroke="#222" stroke-width="0.9"/>
<text x="130.0" y="652.0" font-size="7.7" font-weight="bold" text-anchor="end" stroke="#000">0.5</text>
<line x1="131.0" y1="663.9" x2="133.2" y2="663.1" stroke="#222" stroke-width="0.9"/>
<line x1="131.0" y1="666.0" x2="133.2" y2="666.8" stroke="#222" stroke-width="0.9"/>
<text x="130.0" y="667.9" font-size="7.7" font-weight="bold" text-anchor="end" stroke="#000">0.25</text>
<text x="130.0" y="677.1" font-size="7.7" font-weight="bold" text-anchor="end" stroke="#000">0</text>
<text x="141.3" y="677.8" font-size="7.4" font-weight="bold" text-anchor="end" transform="rotate(-55 141.3 677.8)" stroke="#000">0</text>
<text x="153.1" y="677.8" font-size="7.4" font-weight="bold" text-anchor="end" transform="rotate(-55 153.1 677.8)" stroke="#000">150</text>
<text x="164.8" y="677.8" font-size="7.4" font-weight="bold" text-anchor="end" transform="rotate(-55 164.8 677.8)" stroke="#000">300</text>
<text x="176.6" y="677.8" font-size="7.4" font-weight="bold" text-anchor="end" transform="rotate(-55 176.6 677.8)" stroke="#000">500</text>
<text x="188.3" y="677.8" font-size="7.4" font-weight="bold" text-anchor="end" transform="rotate(-55 188.3 677.8)" stroke="#000">1000</text>
<text x="200.1" y="677.8" font-size="7.4" font-weight="bold" text-anchor="end" transform="rotate(-55 200.1 677.8)" stroke="#000">Pellet</text>
<text x="170.9" y="603.4" font-size="8.8" font-weight="bold" text-anchor="middle" stroke="#000">BAF47</text>
<line x1="169.3" y1="609.4" x2="146.1" y2="609.4" stroke="#e9a6f2" stroke-width="2.4"/>
<path d="M142.1,609.4 L147.1,606.5 L147.1,612.3 Z" fill="#e9a6f2"/>
<line x1="172.7" y1="609.4" x2="195.6" y2="609.4" stroke="#9414cc" stroke-width="2.4"/>
<path d="M199.6,609.4 L194.6,606.5 L194.6,612.3 Z" fill="#9414cc"/>
<rect x="101.7" y="585.5" width="9.4" height="5.3" fill="#efccf7" stroke="#dca6ec" stroke-width="0.8"/>
<rect x="101.3" y="595.5" width="10.2" height="5.9" fill="#9d0fd8"/>
<text x="114.1" y="590.7" font-size="7.6" font-weight="bold" stroke="#000">No Rx</text>
<text x="114.1" y="601.3000000000001" font-size="7.6" font-weight="bold" stroke="#000">TAK-981</text>
<text x="9.0" y="645.5" font-size="8.8" font-weight="bold" text-anchor="middle" transform="rotate(-90 9.0 645.5)" stroke="#000">Relative WB density</text>
<text x="112.5" y="710.4" font-size="8.9" font-weight="bold" text-anchor="middle" stroke="#000">Salt concentration (mM)</text>
<rect x="255.75" y="671.29" width="2.60" height="2.91" fill="#efccf7" stroke="#dca6ec" stroke-width="0.7"/>
<rect x="258.70" y="672.72" width="3.30" height="1.48" fill="#9d0fd8"/>
<rect x="267.55" y="671.59" width="2.60" height="2.61" fill="#efccf7" stroke="#dca6ec" stroke-width="0.7"/>
<rect x="270.50" y="667.69" width="3.30" height="6.51" fill="#9d0fd8"/>
<rect x="279.35" y="622.05" width="2.60" height="41.65" fill="#efccf7" stroke="#dca6ec" stroke-width="0.7"/>
<rect x="279.35" y="666.55" width="2.60" height="7.65" fill="#efccf7" stroke="#dca6ec" stroke-width="0.7"/>
<rect x="282.30" y="621.70" width="3.30" height="42.00" fill="#9d0fd8"/>
<rect x="282.30" y="666.20" width="3.30" height="8.00" fill="#9d0fd8"/>
<rect x="291.15" y="651.86" width="2.60" height="11.84" fill="#efccf7" stroke="#dca6ec" stroke-width="0.7"/>
<rect x="291.15" y="666.55" width="2.60" height="7.65" fill="#efccf7" stroke="#dca6ec" stroke-width="0.7"/>
<rect x="294.10" y="636.05" width="3.30" height="27.65" fill="#9d0fd8"/>
<rect x="294.10" y="666.20" width="3.30" height="8.00" fill="#9d0fd8"/>
<rect x="302.95" y="668.63" width="2.60" height="5.57" fill="#efccf7" stroke="#dca6ec" stroke-width="0.7"/>
<rect x="305.90" y="654.82" width="3.30" height="8.88" fill="#9d0fd8"/>
<rect x="305.90" y="666.20" width="3.30" height="8.00" fill="#9d0fd8"/>
<rect x="314.75" y="673.25" width="2.60" height="0.95" fill="#efccf7" stroke="#dca6ec" stroke-width="0.7"/>
<rect x="317.70" y="643.23" width="3.30" height="20.47" fill="#9d0fd8"/>
<rect x="317.70" y="666.20" width="3.30" height="8.00" fill="#9d0fd8"/>
<line x1="254.2" y1="621.7" x2="254.2" y2="663.1" stroke="#222" stroke-width="1.1"/>
<line x1="254.2" y1="666.8" x2="254.2" y2="674.2" stroke="#222" stroke-width="1.1"/>
<line x1="253.7" y1="674.2" x2="322.9" y2="674.2" stroke="#333" stroke-width="1.3"/>
<line x1="252.0" y1="621.7" x2="254.2" y2="621.7" stroke="#222" stroke-width="0.9"/>
<text x="251.0" y="624.4" font-size="7.7" font-weight="bold" text-anchor="end" stroke="#000">1</text>
<line x1="252.0" y1="635.5" x2="254.2" y2="635.5" stroke="#222" stroke-width="0.9"/>
<text x="251.0" y="638.2" font-size="7.7" font-weight="bold" text-anchor="end" stroke="#000">0.75</text>
<line x1="252.0" y1="649.3" x2="254.2" y2="649.3" stroke="#222" stroke-width="0.9"/>
<text x="251.0" y="652.0" font-size="7.7" font-weight="bold" text-anchor="end" stroke="#000">0.5</text>
<line x1="252.0" y1="663.9" x2="254.2" y2="663.1" stroke="#222" stroke-width="0.9"/>
<line x1="252.0" y1="666.0" x2="254.2" y2="666.8" stroke="#222" stroke-width="0.9"/>
<text x="251.0" y="667.9" font-size="7.7" font-weight="bold" text-anchor="end" stroke="#000">0.25</text>
<text x="251.0" y="677.1" font-size="7.7" font-weight="bold" text-anchor="end" stroke="#000">0</text>
<text x="262.3" y="677.8" font-size="7.4" font-weight="bold" text-anchor="end" transform="rotate(-55 262.3 677.8)" stroke="#000">0</text>
<text x="274.1" y="677.8" font-size="7.4" font-weight="bold" text-anchor="end" transform="rotate(-55 274.1 677.8)" stroke="#000">150</text>
<text x="285.9" y="677.8" font-size="7.4" font-weight="bold" text-anchor="end" transform="rotate(-55 285.9 677.8)" stroke="#000">300</text>
<text x="297.7" y="677.8" font-size="7.4" font-weight="bold" text-anchor="end" transform="rotate(-55 297.7 677.8)" stroke="#000">500</text>
<text x="309.5" y="677.8" font-size="7.4" font-weight="bold" text-anchor="end" transform="rotate(-55 309.5 677.8)" stroke="#000">1000</text>
<text x="321.3" y="677.8" font-size="7.4" font-weight="bold" text-anchor="end" transform="rotate(-55 321.3 677.8)" stroke="#000">Pellet</text>
<text x="288" y="603.6" font-size="8.8" font-weight="bold" text-anchor="middle" stroke="#000">SMARCE1</text>
<line x1="287.1" y1="609.6" x2="262.6" y2="609.6" stroke="#e9a6f2" stroke-width="2.4"/>
<path d="M258.6,609.6 L263.6,606.7 L263.6,612.5 Z" fill="#e9a6f2"/>
<line x1="289.8" y1="609.6" x2="313.3" y2="609.6" stroke="#9414cc" stroke-width="2.4"/>
<path d="M317.3,609.6 L312.3,606.7 L312.3,612.5 Z" fill="#9414cc"/>
<rect x="355.75" y="660.14" width="2.55" height="3.56" fill="#efccf7" stroke="#dca6ec" stroke-width="0.7"/>
<rect x="355.75" y="666.55" width="2.55" height="7.65" fill="#efccf7" stroke="#dca6ec" stroke-width="0.7"/>
<rect x="358.65" y="660.34" width="3.25" height="3.36" fill="#9d0fd8"/>
<rect x="358.65" y="666.20" width="3.25" height="8.00" fill="#9d0fd8"/>
<rect x="367.50" y="645.79" width="2.55" height="17.91" fill="#efccf7" stroke="#dca6ec" stroke-width="0.7"/>
<rect x="367.50" y="666.55" width="2.55" height="7.65" fill="#efccf7" stroke="#dca6ec" stroke-width="0.7"/>
<rect x="370.40" y="654.82" width="3.25" height="8.88" fill="#9d0fd8"/>
<rect x="370.40" y="666.20" width="3.25" height="8.00" fill="#9d0fd8"/>
<rect x="379.25" y="629.23" width="2.55" height="34.47" fill="#efccf7" stroke="#dca6ec" stroke-width="0.7"/>
<rect x="379.25" y="666.55" width="2.55" height="7.65" fill="#efccf7" stroke="#dca6ec" stroke-width="0.7"/>
<rect x="382.15" y="637.16" width="3.25" height="26.54" fill="#9d0fd8"/>
<rect x="382.15" y="666.20" width="3.25" height="8.00" fill="#9d0fd8"/>
<rect x="391.00" y="622.05" width="2.55" height="41.65" fill="#efccf7" stroke="#dca6ec" stroke-width="0.7"/>
<rect x="391.00" y="666.55" width="2.55" height="7.65" fill="#efccf7" stroke="#dca6ec" stroke-width="0.7"/>
<rect x="393.90" y="621.70" width="3.25" height="42.00" fill="#9d0fd8"/>
<rect x="393.90" y="666.20" width="3.25" height="8.00" fill="#9d0fd8"/>
<rect x="402.75" y="637.51" width="2.55" height="26.19" fill="#efccf7" stroke="#dca6ec" stroke-width="0.7"/>
<rect x="402.75" y="666.55" width="2.55" height="7.65" fill="#efccf7" stroke="#dca6ec" stroke-width="0.7"/>
<rect x="405.65" y="632.19" width="3.25" height="31.51" fill="#9d0fd8"/>
<rect x="405.65" y="666.20" width="3.25" height="8.00" fill="#9d0fd8"/>
<rect x="414.50" y="648.55" width="2.55" height="15.15" fill="#efccf7" stroke="#dca6ec" stroke-width="0.7"/>
<rect x="414.50" y="666.55" width="2.55" height="7.65" fill="#efccf7" stroke="#dca6ec" stroke-width="0.7"/>
<rect x="417.40" y="629.98" width="3.25" height="33.72" fill="#9d0fd8"/>
<rect x="417.40" y="666.20" width="3.25" height="8.00" fill="#9d0fd8"/>
<line x1="354.2" y1="621.7" x2="354.2" y2="663.1" stroke="#222" stroke-width="1.1"/>
<line x1="354.2" y1="666.8" x2="354.2" y2="674.2" stroke="#222" stroke-width="1.1"/>
<line x1="353.7" y1="674.2" x2="422.9" y2="674.2" stroke="#333" stroke-width="1.3"/>
<line x1="352.0" y1="621.7" x2="354.2" y2="621.7" stroke="#222" stroke-width="0.9"/>
<text x="351.0" y="624.4" font-size="7.7" font-weight="bold" text-anchor="end" stroke="#000">1</text>
<line x1="352.0" y1="635.5" x2="354.2" y2="635.5" stroke="#222" stroke-width="0.9"/>
<text x="351.0" y="638.2" font-size="7.7" font-weight="bold" text-anchor="end" stroke="#000">0.75</text>
<line x1="352.0" y1="649.3" x2="354.2" y2="649.3" stroke="#222" stroke-width="0.9"/>
<text x="351.0" y="652.0" font-size="7.7" font-weight="bold" text-anchor="end" stroke="#000">0.5</text>
<line x1="352.0" y1="663.9" x2="354.2" y2="663.1" stroke="#222" stroke-width="0.9"/>
<line x1="352.0" y1="666.0" x2="354.2" y2="666.8" stroke="#222" stroke-width="0.9"/>
<text x="351.0" y="667.9" font-size="7.7" font-weight="bold" text-anchor="end" stroke="#000">0.25</text>
<text x="351.0" y="677.1" font-size="7.7" font-weight="bold" text-anchor="end" stroke="#000">0</text>
<text x="362.2" y="677.8" font-size="7.4" font-weight="bold" text-anchor="end" transform="rotate(-55 362.2 677.8)" stroke="#000">0</text>
<text x="374.0" y="677.8" font-size="7.4" font-weight="bold" text-anchor="end" transform="rotate(-55 374.0 677.8)" stroke="#000">150</text>
<text x="385.8" y="677.8" font-size="7.4" font-weight="bold" text-anchor="end" transform="rotate(-55 385.8 677.8)" stroke="#000">300</text>
<text x="397.5" y="677.8" font-size="7.4" font-weight="bold" text-anchor="end" transform="rotate(-55 397.5 677.8)" stroke="#000">500</text>
<text x="409.2" y="677.8" font-size="7.4" font-weight="bold" text-anchor="end" transform="rotate(-55 409.2 677.8)" stroke="#000">1000</text>
<text x="421.0" y="677.8" font-size="7.4" font-weight="bold" text-anchor="end" transform="rotate(-55 421.0 677.8)" stroke="#000">Pellet</text>
<text x="393.8" y="603.6" font-size="8.8" font-weight="bold" text-anchor="middle" stroke="#000">BAF47</text>
<line x1="387.2" y1="609.6" x2="363.3" y2="609.6" stroke="#e9a6f2" stroke-width="2.4"/>
<path d="M359.3,609.6 L364.3,606.7 L364.3,612.5 Z" fill="#e9a6f2"/>
<line x1="390.5" y1="609.6" x2="414.0" y2="609.6" stroke="#9414cc" stroke-width="2.4"/>
<path d="M418,609.6 L413.0,606.7 L413.0,612.5 Z" fill="#9414cc"/>
<rect x="321.0" y="585.4" width="9.4" height="5.3" fill="#efccf7" stroke="#dca6ec" stroke-width="0.8"/>
<rect x="320.6" y="595.4" width="10.2" height="5.9" fill="#9d0fd8"/>
<text x="333.40000000000003" y="590.6" font-size="7.6" font-weight="bold" stroke="#000">No Rx</text>
<text x="333.40000000000003" y="601.2" font-size="7.6" font-weight="bold" stroke="#000">TAK-981</text>
<text x="339.2" y="709.4" font-size="8.9" font-weight="bold" text-anchor="middle" stroke="#000">Salt concentration (mM)</text>
<rect x="476.75" y="673.07" width="2.95" height="1.13" fill="#efccf7" stroke="#dca6ec" stroke-width="0.7"/>
<rect x="489.60" y="668.63" width="2.95" height="5.57" fill="#efccf7" stroke="#dca6ec" stroke-width="0.7"/>
<rect x="492.90" y="671.83" width="3.65" height="2.37" fill="#9d0fd8"/>
<rect x="502.45" y="623.15" width="2.95" height="40.55" fill="#efccf7" stroke="#dca6ec" stroke-width="0.7"/>
<rect x="502.45" y="666.55" width="2.95" height="7.65" fill="#efccf7" stroke="#dca6ec" stroke-width="0.7"/>
<rect x="505.75" y="636.05" width="3.65" height="27.65" fill="#9d0fd8"/>
<rect x="505.75" y="666.20" width="3.65" height="8.00" fill="#9d0fd8"/>
<rect x="515.30" y="622.05" width="2.95" height="41.65" fill="#efccf7" stroke="#dca6ec" stroke-width="0.7"/>
<rect x="515.30" y="666.55" width="2.95" height="7.65" fill="#efccf7" stroke="#dca6ec" stroke-width="0.7"/>
<rect x="518.60" y="621.70" width="3.65" height="42.00" fill="#9d0fd8"/>
<rect x="518.60" y="666.20" width="3.65" height="8.00" fill="#9d0fd8"/>
<rect x="528.15" y="663.45" width="2.95" height="10.75" fill="#efccf7" stroke="#dca6ec" stroke-width="0.7"/>
<rect x="531.45" y="627.22" width="3.65" height="36.48" fill="#9d0fd8"/>
<rect x="531.45" y="666.20" width="3.65" height="8.00" fill="#9d0fd8"/>
<rect x="541.00" y="652.41" width="2.95" height="11.29" fill="#efccf7" stroke="#dca6ec" stroke-width="0.7"/>
<rect x="541.00" y="666.55" width="2.95" height="7.65" fill="#efccf7" stroke="#dca6ec" stroke-width="0.7"/>
<rect x="544.30" y="652.06" width="3.65" height="11.64" fill="#9d0fd8"/>
<rect x="544.30" y="666.20" width="3.65" height="8.00" fill="#9d0fd8"/>
<line x1="475.2" y1="621.7" x2="475.2" y2="663.1" stroke="#222" stroke-width="1.1"/>
<line x1="475.2" y1="666.8" x2="475.2" y2="674.2" stroke="#222" stroke-width="1.1"/>
<line x1="474.7" y1="674.2" x2="549.4" y2="674.2" stroke="#333" stroke-width="1.3"/>
<line x1="473.0" y1="621.7" x2="475.2" y2="621.7" stroke="#222" stroke-width="0.9"/>
<text x="472.0" y="624.4" font-size="7.7" font-weight="bold" text-anchor="end" stroke="#000">1</text>
<line x1="473.0" y1="635.5" x2="475.2" y2="635.5" stroke="#222" stroke-width="0.9"/>
<text x="472.0" y="638.2" font-size="7.7" font-weight="bold" text-anchor="end" stroke="#000">0.75</text>
<line x1="473.0" y1="649.3" x2="475.2" y2="649.3" stroke="#222" stroke-width="0.9"/>
<text x="472.0" y="652.0" font-size="7.7" font-weight="bold" text-anchor="end" stroke="#000">0.5</text>
<line x1="473.0" y1="663.9" x2="475.2" y2="663.1" stroke="#222" stroke-width="0.9"/>
<line x1="473.0" y1="666.0" x2="475.2" y2="666.8" stroke="#222" stroke-width="0.9"/>
<text x="472.0" y="667.9" font-size="7.7" font-weight="bold" text-anchor="end" stroke="#000">0.25</text>
<text x="472.0" y="677.1" font-size="7.7" font-weight="bold" text-anchor="end" stroke="#000">0</text>
<text x="483.6" y="677.8" font-size="7.4" font-weight="bold" text-anchor="end" transform="rotate(-55 483.6 677.8)" stroke="#000">0</text>
<text x="496.5" y="677.8" font-size="7.4" font-weight="bold" text-anchor="end" transform="rotate(-55 496.5 677.8)" stroke="#000">150</text>
<text x="509.3" y="677.8" font-size="7.4" font-weight="bold" text-anchor="end" transform="rotate(-55 509.3 677.8)" stroke="#000">300</text>
<text x="522.2" y="677.8" font-size="7.4" font-weight="bold" text-anchor="end" transform="rotate(-55 522.2 677.8)" stroke="#000">500</text>
<text x="535.0" y="677.8" font-size="7.4" font-weight="bold" text-anchor="end" transform="rotate(-55 535.0 677.8)" stroke="#000">1000</text>
<text x="547.9" y="677.8" font-size="7.4" font-weight="bold" text-anchor="end" transform="rotate(-55 547.9 677.8)" stroke="#000">Pellet</text>
<text x="517" y="603.6" font-size="8.8" font-weight="bold" text-anchor="middle" stroke="#000">SMARCE1</text>
<line x1="515.4" y1="609.6" x2="491.9" y2="609.6" stroke="#e9a6f2" stroke-width="2.4"/>
<path d="M487.9,609.6 L492.9,606.7 L492.9,612.5 Z" fill="#e9a6f2"/>
<line x1="518.8" y1="609.6" x2="541.7" y2="609.6" stroke="#9414cc" stroke-width="2.4"/>
<path d="M545.7,609.6 L540.7,606.7 L540.7,612.5 Z" fill="#9414cc"/>
<rect x="582.95" y="668.63" width="2.90" height="5.57" fill="#efccf7" stroke="#dca6ec" stroke-width="0.7"/>
<rect x="586.20" y="671.24" width="3.60" height="2.96" fill="#9d0fd8"/>
<rect x="595.85" y="662.35" width="2.90" height="1.35" fill="#efccf7" stroke="#dca6ec" stroke-width="0.7"/>
<rect x="595.85" y="666.55" width="2.90" height="7.65" fill="#efccf7" stroke="#dca6ec" stroke-width="0.7"/>
<rect x="599.10" y="663.10" width="3.60" height="11.10" fill="#9d0fd8"/>
<rect x="608.75" y="626.47" width="2.90" height="37.23" fill="#efccf7" stroke="#dca6ec" stroke-width="0.7"/>
<rect x="608.75" y="666.55" width="2.90" height="7.65" fill="#efccf7" stroke="#dca6ec" stroke-width="0.7"/>
<rect x="612.00" y="631.08" width="3.60" height="32.62" fill="#9d0fd8"/>
<rect x="612.00" y="666.20" width="3.60" height="8.00" fill="#9d0fd8"/>
<rect x="621.65" y="622.05" width="2.90" height="41.65" fill="#efccf7" stroke="#dca6ec" stroke-width="0.7"/>
<rect x="621.65" y="666.55" width="2.90" height="7.65" fill="#efccf7" stroke="#dca6ec" stroke-width="0.7"/>
<rect x="624.90" y="621.70" width="3.60" height="42.00" fill="#9d0fd8"/>
<rect x="624.90" y="666.20" width="3.60" height="8.00" fill="#9d0fd8"/>
<rect x="634.55" y="623.71" width="2.90" height="39.99" fill="#efccf7" stroke="#dca6ec" stroke-width="0.7"/>
<rect x="634.55" y="666.55" width="2.90" height="7.65" fill="#efccf7" stroke="#dca6ec" stroke-width="0.7"/>
<rect x="637.80" y="627.22" width="3.60" height="36.48" fill="#9d0fd8"/>
<rect x="637.80" y="666.20" width="3.60" height="8.00" fill="#9d0fd8"/>
<rect x="647.45" y="631.99" width="2.90" height="31.71" fill="#efccf7" stroke="#dca6ec" stroke-width="0.7"/>
<rect x="647.45" y="666.55" width="2.90" height="7.65" fill="#efccf7" stroke="#dca6ec" stroke-width="0.7"/>
<rect x="650.70" y="629.43" width="3.60" height="34.27" fill="#9d0fd8"/>
<rect x="650.70" y="666.20" width="3.60" height="8.00" fill="#9d0fd8"/>
<line x1="581.4" y1="621.7" x2="581.4" y2="663.1" stroke="#222" stroke-width="1.1"/>
<line x1="581.4" y1="666.8" x2="581.4" y2="674.2" stroke="#222" stroke-width="1.1"/>
<line x1="580.9" y1="674.2" x2="656.4" y2="674.2" stroke="#333" stroke-width="1.3"/>
<line x1="579.1999999999999" y1="621.7" x2="581.4" y2="621.7" stroke="#222" stroke-width="0.9"/>
<text x="578.1999999999999" y="624.4" font-size="7.7" font-weight="bold" text-anchor="end" stroke="#000">1</text>
<line x1="579.1999999999999" y1="635.5" x2="581.4" y2="635.5" stroke="#222" stroke-width="0.9"/>
<text x="578.1999999999999" y="638.2" font-size="7.7" font-weight="bold" text-anchor="end" stroke="#000">0.75</text>
<line x1="579.1999999999999" y1="649.3" x2="581.4" y2="649.3" stroke="#222" stroke-width="0.9"/>
<text x="578.1999999999999" y="652.0" font-size="7.7" font-weight="bold" text-anchor="end" stroke="#000">0.5</text>
<line x1="579.1999999999999" y1="663.9" x2="581.4" y2="663.1" stroke="#222" stroke-width="0.9"/>
<line x1="579.1999999999999" y1="666.0" x2="581.4" y2="666.8" stroke="#222" stroke-width="0.9"/>
<text x="578.1999999999999" y="667.9" font-size="7.7" font-weight="bold" text-anchor="end" stroke="#000">0.25</text>
<text x="578.1999999999999" y="677.1" font-size="7.7" font-weight="bold" text-anchor="end" stroke="#000">0</text>
<text x="589.8" y="677.8" font-size="7.4" font-weight="bold" text-anchor="end" transform="rotate(-55 589.8 677.8)" stroke="#000">0</text>
<text x="602.7" y="677.8" font-size="7.4" font-weight="bold" text-anchor="end" transform="rotate(-55 602.7 677.8)" stroke="#000">150</text>
<text x="615.6" y="677.8" font-size="7.4" font-weight="bold" text-anchor="end" transform="rotate(-55 615.6 677.8)" stroke="#000">300</text>
<text x="628.5" y="677.8" font-size="7.4" font-weight="bold" text-anchor="end" transform="rotate(-55 628.5 677.8)" stroke="#000">500</text>
<text x="641.4" y="677.8" font-size="7.4" font-weight="bold" text-anchor="end" transform="rotate(-55 641.4 677.8)" stroke="#000">1000</text>
<text x="654.3" y="677.8" font-size="7.4" font-weight="bold" text-anchor="end" transform="rotate(-55 654.3 677.8)" stroke="#000">Pellet</text>
<text x="619.5" y="603.6" font-size="8.8" font-weight="bold" text-anchor="middle" stroke="#000">BAF47</text>
<rect x="544.3" y="585.4" width="9.4" height="5.3" fill="#efccf7" stroke="#dca6ec" stroke-width="0.8"/>
<rect x="543.9" y="595.4" width="10.2" height="5.9" fill="#9d0fd8"/>
<text x="556.6999999999999" y="590.6" font-size="7.6" font-weight="bold" stroke="#000">No Rx</text>
<text x="556.6999999999999" y="601.2" font-size="7.6" font-weight="bold" stroke="#000">TAK-981</text>
<text x="565.1" y="709.4" font-size="8.9" font-weight="bold" text-anchor="middle" stroke="#000">Salt concentration (mM)</text>
<text x="10.5" y="742.8" font-size="25.6" font-weight="bold" stroke="#000">E</text>
<line x1="0.5" y1="721" x2="0.5" y2="917" stroke="#f0f0f0" stroke-width="1"/>
<defs><linearGradient id="ga1" x1="176" y1="0" x2="268" y2="0" gradientUnits="userSpaceOnUse"><stop offset="0" stop-color="#bbb"/><stop offset="0.35" stop-color="#111"/><stop offset="1" stop-color="#000"/></linearGradient><linearGradient id="ga2" x1="308" y1="0" x2="450" y2="0" gradientUnits="userSpaceOnUse"><stop offset="0" stop-color="#fff"/><stop offset="0.45" stop-color="#666"/><stop offset="1" stop-color="#000"/></linearGradient><radialGradient id="glow" cx="0.5" cy="0.5" r="0.5"><stop offset="0" stop-color="#c286f0" stop-opacity="0.8"/><stop offset="0.45" stop-color="#d6adf5" stop-opacity="0.55"/><stop offset="0.75" stop-color="#eadaf9" stop-opacity="0.3"/><stop offset="1" stop-color="#f3e6fc" stop-opacity="0"/></radialGradient></defs>
<path d="M176.7,817.4 Q222,770 263.5,807.5" fill="none" stroke="url(#ga1)" stroke-width="1.8"/>
<path d="M268.5,812.8 L259.3,809.5 L264.5,804.2 Z" fill="#000"/>
<path d="M308.7,780.8 C330,752 372,730 444,737" fill="none" stroke="url(#ga2)" stroke-width="1.5"/>
<path d="M451,738.4 L443.2,741.8 L443.8,733.6 Z" fill="#000"/>
<text x="29.2" y="803" font-size="10.3" font-weight="bold" fill="#2339a8" text-anchor="middle" stroke="#2339a8">cBAF</text>
<text x="141.9" y="805.7" font-size="10.2" font-weight="bold" fill="#2339a8" text-anchor="middle" stroke="#2339a8">stabilization</text>
<text x="91.6" y="851" font-size="9.8" font-weight="bold" text-anchor="middle" stroke="#000">blocking</text>
<text x="91.2" y="863.4" font-size="10.1" font-weight="bold" text-anchor="middle" stroke="#000">SUMOylation</text>
<line x1="57" y1="853.2" x2="124" y2="853.2" stroke="#111" stroke-width="1.2"/>
<path d="M129.5,853.2 L123,850.2 L123,856.2 Z" fill="#111"/>
<text x="283.7" y="811.5" font-size="8.2" font-weight="bold" fill="#1f2fd0" text-anchor="middle" stroke="#1f2fd0">cBAF</text>
<text x="248.2" y="830.8" font-size="7.9" font-weight="bold" fill="#a82424" text-anchor="middle" stroke="#a82424">ncBAF</text>
<text x="319" y="830.8" font-size="8.1" font-weight="bold" fill="#2ec82e" text-anchor="middle" stroke="#2ec82e">PBAF</text>
<text x="283.2" y="897.4" font-size="9.3" font-weight="bold" text-anchor="middle" stroke="#000">BAF</text>
<text x="282.9" y="908.8" font-size="9.1" font-weight="bold" text-anchor="middle" stroke="#000">complexes</text>
<text x="507.2" y="756.4" font-size="12.2" font-weight="bold" fill="#1f3aa0" text-anchor="middle" stroke="#1f3aa0">cBAF</text>
<ellipse cx="598" cy="830" rx="44" ry="40" fill="url(#glow)"/>
<g transform="translate(30.0 853.8) rotate(0) scale(1.0)" filter="url(#bl03)"><ellipse cx="-14.5" cy="25.5" rx="7.2" ry="5" transform="rotate(30 -14.5 25.5)" fill="#dcdcdc"/><path d="M-7.4,-2 L-7.4,-27 Q-7.4,-36.6 1.5,-36.6 Q7.4,-36.4 8,-31" fill="none" stroke="#717171" stroke-width="9.8" stroke-linecap="round" stroke-linejoin="round"/><circle cx="-7.4" cy="-3" r="5.2" fill="#717171"/><circle cx="-7.6" cy="-8" r="5.6" fill="#717171"/><circle cx="-7.2" cy="-13" r="5.0" fill="#717171"/><circle cx="-7.6" cy="-18" r="5.5" fill="#717171"/><circle cx="-7.3" cy="-23" r="5.3" fill="#717171"/><circle cx="-7.0" cy="-28" r="5.6" fill="#717171"/><circle cx="-5.5" cy="-33" r="5.4" fill="#717171"/><circle cx="-1.5" cy="-36.5" r="5.6" fill="#717171"/><circle cx="3" cy="-37" r="5.3" fill="#717171"/><circle cx="6.5" cy="-35.5" r="5.0" fill="#717171"/><circle cx="8.2" cy="-31.5" r="4.6" fill="#717171"/><circle cx="-10.5" cy="-10" r="2.6" fill="#717171"/><circle cx="-4.2" cy="-21" r="2.4" fill="#717171"/><circle cx="-10.6" cy="-26" r="2.5" fill="#717171"/><circle cx="-3" cy="-40.5" r="2.6" fill="#717171"/><circle cx="5" cy="-40" r="2.4" fill="#717171"/><circle cx="11.5" cy="-34" r="2.2" fill="#717171"/><circle cx="-9.5" cy="-35" r="2.6" fill="#717171"/><circle cx="-10.8" cy="-17" r="2.4" fill="#717171"/><ellipse cx="4.5" cy="30" rx="10" ry="6.5" fill="#6e6e6e"/><circle cx="-5" cy="34" r="7.6" fill="#474747"/><circle cx="-9" cy="30" r="4.5" fill="#474747"/><ellipse cx="14.5" cy="34" rx="5.8" ry="7.6" fill="#474747"/><circle cx="17" cy="38.5" r="3.5" fill="#474747"/><ellipse cx="-6" cy="15.5" rx="6.8" ry="12.5" transform="rotate(-12 -6 15.5)" fill="#2f2f2f"/><ellipse cx="8.5" cy="22.5" rx="8.6" ry="5.6" fill="#e6cdf0"/><circle cx="12.5" cy="2.5" r="6.5" fill="#f1d2f1"/><circle cx="16.5" cy="-1" r="3.5" fill="#f1d2f1"/><circle cx="9.5" cy="-2" r="3.2" fill="#f1d2f1"/><circle cx="17" cy="6" r="3.2" fill="#f1d2f1"/><circle cx="6.5" cy="11.5" r="7.8" fill="#b4b3e2"/><ellipse cx="-4.5" cy="0.5" rx="7.8" ry="6.8" fill="#aab2e8"/><ellipse cx="-5.5" cy="-2.5" rx="4.5" ry="3.2" fill="#3c4a8c"/><ellipse cx="-7" cy="7" rx="5" ry="3.5" fill="#2c3566"/></g>
<g transform="translate(152.0 855.0) rotate(0) scale(1.0)" filter="url(#bl03)"><ellipse cx="-14.5" cy="25.5" rx="7.2" ry="5" transform="rotate(30 -14.5 25.5)" fill="#dedede"/><path d="M-7.4,-2 L-7.4,-27 Q-7.4,-36.6 1.5,-36.6 Q7.4,-36.4 8,-31" fill="none" stroke="#747474" stroke-width="9.8" stroke-linecap="round" stroke-linejoin="round"/><circle cx="-7.4" cy="-3" r="5.2" fill="#747474"/><circle cx="-7.6" cy="-8" r="5.6" fill="#747474"/><circle cx="-7.2" cy="-13" r="5.0" fill="#747474"/><circle cx="-7.6" cy="-18" r="5.5" fill="#747474"/><circle cx="-7.3" cy="-23" r="5.3" fill="#747474"/><circle cx="-7.0" cy="-28" r="5.6" fill="#747474"/><circle cx="-5.5" cy="-33" r="5.4" fill="#747474"/><circle cx="-1.5" cy="-36.5" r="5.6" fill="#747474"/><circle cx="3" cy="-37" r="5.3" fill="#747474"/><circle cx="6.5" cy="-35.5" r="5.0" fill="#747474"/><circle cx="8.2" cy="-31.5" r="4.6" fill="#747474"/><circle cx="-10.5" cy="-10" r="2.6" fill="#747474"/><circle cx="-4.2" cy="-21" r="2.4" fill="#747474"/><circle cx="-10.6" cy="-26" r="2.5" fill="#747474"/><circle cx="-3" cy="-40.5" r="2.6" fill="#747474"/><circle cx="5" cy="-40" r="2.4" fill="#747474"/><circle cx="11.5" cy="-34" r="2.2" fill="#747474"/><circle cx="-9.5" cy="-35" r="2.6" fill="#747474"/><circle cx="-10.8" cy="-17" r="2.4" fill="#747474"/><ellipse cx="4.5" cy="30" rx="10" ry="6.5" fill="#757575"/><circle cx="-5" cy="34" r="7.6" fill="#4b4b4b"/><circle cx="-9" cy="30" r="4.5" fill="#4b4b4b"/><ellipse cx="14.5" cy="34" rx="5.8" ry="7.6" fill="#4b4b4b"/><circle cx="17" cy="38.5" r="3.5" fill="#4b4b4b"/><ellipse cx="-6" cy="15.5" rx="6.8" ry="12.5" transform="rotate(-12 -6 15.5)" fill="#383838"/><ellipse cx="8.5" cy="22.5" rx="8.6" ry="5.6" fill="#9a4ad2"/><circle cx="12.5" cy="2.5" r="6.5" fill="#e07fe0"/><circle cx="16.5" cy="-1" r="3.5" fill="#e07fe0"/><circle cx="9.5" cy="-2" r="3.2" fill="#e07fe0"/><circle cx="17" cy="6" r="3.2" fill="#e07fe0"/><circle cx="6.5" cy="11.5" r="7.8" fill="#1d3f9c"/><ellipse cx="-4.5" cy="0.5" rx="7.8" ry="6.8" fill="#1a2cb6"/><g font-family="Liberation Sans" font-weight="bold" font-size="3.6" text-anchor="middle" fill="#fff"><text x="-4.5" y="1.8" fill="#fff" transform="rotate(-12 -4.5 1.8)" stroke="#fff">ARID1A</text><text x="6.5" y="12.8" fill="#fff" stroke="#fff">OPF2</text><text x="9" y="24.2" font-size="3.2" fill="#f4e8fa" stroke="#f4e8fa">SMARCE1</text><text x="13.5" y="4" font-size="3.3" fill="#3a1040" transform="rotate(-20 13.5 4)" stroke="#3a1040">BAF47</text></g></g>
<g transform="translate(281.5 842.6) rotate(0) scale(0.68)" filter="url(#bl03)"><ellipse cx="-14.5" cy="25.5" rx="7.2" ry="5" transform="rotate(30 -14.5 25.5)" fill="#dedede"/><path d="M-7.4,-2 L-7.4,-27 Q-7.4,-36.6 1.5,-36.6 Q7.4,-36.4 8,-31" fill="none" stroke="#767676" stroke-width="9.8" stroke-linecap="round" stroke-linejoin="round"/><circle cx="-7.4" cy="-3" r="5.2" fill="#767676"/><circle cx="-7.6" cy="-8" r="5.6" fill="#767676"/><circle cx="-7.2" cy="-13" r="5.0" fill="#767676"/><circle cx="-7.6" cy="-18" r="5.5" fill="#767676"/><circle cx="-7.3" cy="-23" r="5.3" fill="#767676"/><circle cx="-7.0" cy="-28" r="5.6" fill="#767676"/><circle cx="-5.5" cy="-33" r="5.4" fill="#767676"/><circle cx="-1.5" cy="-36.5" r="5.6" fill="#767676"/><circle cx="3" cy="-37" r="5.3" fill="#767676"/><circle cx="6.5" cy="-35.5" r="5.0" fill="#767676"/><circle cx="8.2" cy="-31.5" r="4.6" fill="#767676"/><circle cx="-10.5" cy="-10" r="2.6" fill="#767676"/><circle cx="-4.2" cy="-21" r="2.4" fill="#767676"/><circle cx="-10.6" cy="-26" r="2.5" fill="#767676"/><circle cx="-3" cy="-40.5" r="2.6" fill="#767676"/><circle cx="5" cy="-40" r="2.4" fill="#767676"/><circle cx="11.5" cy="-34" r="2.2" fill="#767676"/><circle cx="-9.5" cy="-35" r="2.6" fill="#767676"/><circle cx="-10.8" cy="-17" r="2.4" fill="#767676"/><ellipse cx="4.5" cy="30" rx="10" ry="6.5" fill="#767676"/><circle cx="-5" cy="34" r="7.6" fill="#4a4a4a"/><circle cx="-9" cy="30" r="4.5" fill="#4a4a4a"/><ellipse cx="14.5" cy="34" rx="5.8" ry="7.6" fill="#4a4a4a"/><circle cx="17" cy="38.5" r="3.5" fill="#4a4a4a"/><ellipse cx="-6" cy="15.5" rx="6.8" ry="12.5" transform="rotate(-12 -6 15.5)" fill="#3a3a3a"/><ellipse cx="8.5" cy="22.5" rx="8.6" ry="5.6" fill="#9a4ad2"/><circle cx="12.5" cy="2.5" r="6.5" fill="#e07fe0"/><circle cx="16.5" cy="-1" r="3.5" fill="#e07fe0"/><circle cx="9.5" cy="-2" r="3.2" fill="#e07fe0"/><circle cx="17" cy="6" r="3.2" fill="#e07fe0"/><circle cx="6.5" cy="11.5" r="7.8" fill="#1d3f9c"/><ellipse cx="-4.5" cy="0.5" rx="7.8" ry="6.8" fill="#1a2cb6"/><g font-family="Liberation Sans" font-weight="bold" font-size="3.6" text-anchor="middle" fill="#fff"><text x="-4.5" y="1.8" fill="#fff" transform="rotate(-12 -4.5 1.8)" stroke="#fff">ARID1A</text><text x="6.5" y="12.8" fill="#fff" stroke="#fff">OPF2</text><text x="9" y="24.2" font-size="3.2" fill="#f4e8fa" stroke="#f4e8fa">SMARCE1</text><text x="13.5" y="4" font-size="3.3" fill="#3a1040" transform="rotate(-20 13.5 4)" stroke="#3a1040">BAF47</text></g><text x="1" y="-35.5" font-size="3.4" font-weight="bold" text-anchor="middle" font-family="Liberation Sans" fill="#f2f2f2" stroke="#f2f2f2">SMARCA4</text></g>
<g transform="translate(247.4 861.8) rotate(0) scale(0.68)" filter="url(#bl03)"><ellipse cx="-14.5" cy="25.5" rx="7.2" ry="5" transform="rotate(30 -14.5 25.5)" fill="#e6e6e6"/><path d="M-7.4,-2 L-7.4,-27 Q-7.4,-36.6 1.5,-36.6 Q7.4,-36.4 8,-31" fill="none" stroke="#a9a9a9" stroke-width="9.8" stroke-linecap="round" stroke-linejoin="round"/><circle cx="-7.4" cy="-3" r="5.2" fill="#a9a9a9"/><circle cx="-7.6" cy="-8" r="5.6" fill="#a9a9a9"/><circle cx="-7.2" cy="-13" r="5.0" fill="#a9a9a9"/><circle cx="-7.6" cy="-18" r="5.5" fill="#a9a9a9"/><circle cx="-7.3" cy="-23" r="5.3" fill="#a9a9a9"/><circle cx="-7.0" cy="-28" r="5.6" fill="#a9a9a9"/><circle cx="-5.5" cy="-33" r="5.4" fill="#a9a9a9"/><circle cx="-1.5" cy="-36.5" r="5.6" fill="#a9a9a9"/><circle cx="3" cy="-37" r="5.3" fill="#a9a9a9"/><circle cx="6.5" cy="-35.5" r="5.0" fill="#a9a9a9"/><circle cx="8.2" cy="-31.5" r="4.6" fill="#a9a9a9"/><circle cx="-10.5" cy="-10" r="2.6" fill="#a9a9a9"/><circle cx="-4.2" cy="-21" r="2.4" fill="#a9a9a9"/><circle cx="-10.6" cy="-26" r="2.5" fill="#a9a9a9"/><circle cx="-3" cy="-40.5" r="2.6" fill="#a9a9a9"/><circle cx="5" cy="-40" r="2.4" fill="#a9a9a9"/><circle cx="11.5" cy="-34" r="2.2" fill="#a9a9a9"/><circle cx="-9.5" cy="-35" r="2.6" fill="#a9a9a9"/><circle cx="-10.8" cy="-17" r="2.4" fill="#a9a9a9"/><ellipse cx="4.5" cy="30" rx="10" ry="6.5" fill="#a0a0a0"/><circle cx="-5" cy="34" r="7.6" fill="#9a9a9a"/><circle cx="-9" cy="30" r="4.5" fill="#9a9a9a"/><ellipse cx="14.5" cy="34" rx="5.8" ry="7.6" fill="#9a9a9a"/><circle cx="17" cy="38.5" r="3.5" fill="#9a9a9a"/><ellipse cx="-6" cy="15.5" rx="6.8" ry="12.5" transform="rotate(-12 -6 15.5)" fill="#8e8e8e"/><ellipse cx="8.5" cy="22.5" rx="8.6" ry="5.6" fill="#e8a0a0"/><circle cx="12.5" cy="2.5" r="6.5" fill="#ec9090"/><circle cx="16.5" cy="-1" r="3.5" fill="#ec9090"/><circle cx="9.5" cy="-2" r="3.2" fill="#ec9090"/><circle cx="17" cy="6" r="3.2" fill="#ec9090"/><circle cx="6.5" cy="11.5" r="7.8" fill="#e89a9a"/><ellipse cx="-4.5" cy="0.5" rx="7.8" ry="6.8" fill="#a9a9a9"/><text x="1" y="-35.5" font-size="3.4" font-weight="bold" text-anchor="middle" font-family="Liberation Sans" fill="#f2f2f2" stroke="#f2f2f2">SMARCA4</text></g>
<g transform="translate(316.6 861.8) rotate(0) scale(0.68)" filter="url(#bl03)"><ellipse cx="-14.5" cy="25.5" rx="7.2" ry="5" transform="rotate(30 -14.5 25.5)" fill="#e6e6e6"/><path d="M-7.4,-2 L-7.4,-27 Q-7.4,-36.6 1.5,-36.6 Q7.4,-36.4 8,-31" fill="none" stroke="#a9a9a9" stroke-width="9.8" stroke-linecap="round" stroke-linejoin="round"/><circle cx="-7.4" cy="-3" r="5.2" fill="#a9a9a9"/><circle cx="-7.6" cy="-8" r="5.6" fill="#a9a9a9"/><circle cx="-7.2" cy="-13" r="5.0" fill="#a9a9a9"/><circle cx="-7.6" cy="-18" r="5.5" fill="#a9a9a9"/><circle cx="-7.3" cy="-23" r="5.3" fill="#a9a9a9"/><circle cx="-7.0" cy="-28" r="5.6" fill="#a9a9a9"/><circle cx="-5.5" cy="-33" r="5.4" fill="#a9a9a9"/><circle cx="-1.5" cy="-36.5" r="5.6" fill="#a9a9a9"/><circle cx="3" cy="-37" r="5.3" fill="#a9a9a9"/><circle cx="6.5" cy="-35.5" r="5.0" fill="#a9a9a9"/><circle cx="8.2" cy="-31.5" r="4.6" fill="#a9a9a9"/><circle cx="-10.5" cy="-10" r="2.6" fill="#a9a9a9"/><circle cx="-4.2" cy="-21" r="2.4" fill="#a9a9a9"/><circle cx="-10.6" cy="-26" r="2.5" fill="#a9a9a9"/><circle cx="-3" cy="-40.5" r="2.6" fill="#a9a9a9"/><circle cx="5" cy="-40" r="2.4" fill="#a9a9a9"/><circle cx="11.5" cy="-34" r="2.2" fill="#a9a9a9"/><circle cx="-9.5" cy="-35" r="2.6" fill="#a9a9a9"/><circle cx="-10.8" cy="-17" r="2.4" fill="#a9a9a9"/><ellipse cx="4.5" cy="30" rx="10" ry="6.5" fill="#a8a8a8"/><circle cx="-5" cy="34" r="7.6" fill="#9e9e9e"/><circle cx="-9" cy="30" r="4.5" fill="#9e9e9e"/><ellipse cx="14.5" cy="34" rx="5.8" ry="7.6" fill="#9e9e9e"/><circle cx="17" cy="38.5" r="3.5" fill="#9e9e9e"/><ellipse cx="-6" cy="15.5" rx="6.8" ry="12.5" transform="rotate(-12 -6 15.5)" fill="#929292"/><ellipse cx="8.5" cy="22.5" rx="8.6" ry="5.6" fill="#cda8e6"/><circle cx="12.5" cy="2.5" r="6.5" fill="#e6c2ef"/><circle cx="16.5" cy="-1" r="3.5" fill="#e6c2ef"/><circle cx="9.5" cy="-2" r="3.2" fill="#e6c2ef"/><circle cx="17" cy="6" r="3.2" fill="#e6c2ef"/><circle cx="6.5" cy="11.5" r="7.8" fill="#6f9c80"/><ellipse cx="-4.5" cy="0.5" rx="7.8" ry="6.8" fill="#cfdda8"/><ellipse cx="-12" cy="13" rx="5" ry="5.5" fill="#5f9e9e"/><path d="M10,22 L16,38 L4,38 Z" fill="#a8d8b8"/><text x="1" y="-35.5" font-size="3.4" font-weight="bold" text-anchor="middle" font-family="Liberation Sans" fill="#f2f2f2" stroke="#f2f2f2">SMARCA4</text></g>
<g transform="translate(331.6 790.7) rotate(45) scale(0.3)" filter="url(#bl03)"><ellipse cx="-14.5" cy="25.5" rx="7.2" ry="5" transform="rotate(30 -14.5 25.5)" fill="#e2e2e2"/><path d="M-7.4,-2 L-7.4,-27 Q-7.4,-36.6 1.5,-36.6 Q7.4,-36.4 8,-31" fill="none" stroke="#8e8e8e" stroke-width="9.8" stroke-linecap="round" stroke-linejoin="round"/><circle cx="-7.4" cy="-3" r="5.2" fill="#8e8e8e"/><circle cx="-7.6" cy="-8" r="5.6" fill="#8e8e8e"/><circle cx="-7.2" cy="-13" r="5.0" fill="#8e8e8e"/><circle cx="-7.6" cy="-18" r="5.5" fill="#8e8e8e"/><circle cx="-7.3" cy="-23" r="5.3" fill="#8e8e8e"/><circle cx="-7.0" cy="-28" r="5.6" fill="#8e8e8e"/><circle cx="-5.5" cy="-33" r="5.4" fill="#8e8e8e"/><circle cx="-1.5" cy="-36.5" r="5.6" fill="#8e8e8e"/><circle cx="3" cy="-37" r="5.3" fill="#8e8e8e"/><circle cx="6.5" cy="-35.5" r="5.0" fill="#8e8e8e"/><circle cx="8.2" cy="-31.5" r="4.6" fill="#8e8e8e"/><circle cx="-10.5" cy="-10" r="2.6" fill="#8e8e8e"/><circle cx="-4.2" cy="-21" r="2.4" fill="#8e8e8e"/><circle cx="-10.6" cy="-26" r="2.5" fill="#8e8e8e"/><circle cx="-3" cy="-40.5" r="2.6" fill="#8e8e8e"/><circle cx="5" cy="-40" r="2.4" fill="#8e8e8e"/><circle cx="11.5" cy="-34" r="2.2" fill="#8e8e8e"/><circle cx="-9.5" cy="-35" r="2.6" fill="#8e8e8e"/><circle cx="-10.8" cy="-17" r="2.4" fill="#8e8e8e"/><ellipse cx="4.5" cy="30" rx="10" ry="6.5" fill="#858585"/><circle cx="-5" cy="34" r="7.6" fill="#727272"/><circle cx="-9" cy="30" r="4.5" fill="#727272"/><ellipse cx="14.5" cy="34" rx="5.8" ry="7.6" fill="#727272"/><circle cx="17" cy="38.5" r="3.5" fill="#727272"/><ellipse cx="-6" cy="15.5" rx="6.8" ry="12.5" transform="rotate(-12 -6 15.5)" fill="#636363"/><ellipse cx="8.5" cy="22.5" rx="8.6" ry="5.6" fill="#b070d8"/><circle cx="12.5" cy="2.5" r="6.5" fill="#e391e3"/><circle cx="16.5" cy="-1" r="3.5" fill="#e391e3"/><circle cx="9.5" cy="-2" r="3.2" fill="#e391e3"/><circle cx="17" cy="6" r="3.2" fill="#e391e3"/><circle cx="6.5" cy="11.5" r="7.8" fill="#3c64b0"/><ellipse cx="-4.5" cy="0.5" rx="7.8" ry="6.8" fill="#3050c8"/></g>
<g transform="translate(376.0 763.4) rotate(90) scale(0.44)" filter="url(#bl03)"><ellipse cx="-14.5" cy="25.5" rx="7.2" ry="5" transform="rotate(30 -14.5 25.5)" fill="#e2e2e2"/><path d="M-7.4,-2 L-7.4,-27 Q-7.4,-36.6 1.5,-36.6 Q7.4,-36.4 8,-31" fill="none" stroke="#8e8e8e" stroke-width="9.8" stroke-linecap="round" stroke-linejoin="round"/><circle cx="-7.4" cy="-3" r="5.2" fill="#8e8e8e"/><circle cx="-7.6" cy="-8" r="5.6" fill="#8e8e8e"/><circle cx="-7.2" cy="-13" r="5.0" fill="#8e8e8e"/><circle cx="-7.6" cy="-18" r="5.5" fill="#8e8e8e"/><circle cx="-7.3" cy="-23" r="5.3" fill="#8e8e8e"/><circle cx="-7.0" cy="-28" r="5.6" fill="#8e8e8e"/><circle cx="-5.5" cy="-33" r="5.4" fill="#8e8e8e"/><circle cx="-1.5" cy="-36.5" r="5.6" fill="#8e8e8e"/><circle cx="3" cy="-37" r="5.3" fill="#8e8e8e"/><circle cx="6.5" cy="-35.5" r="5.0" fill="#8e8e8e"/><circle cx="8.2" cy="-31.5" r="4.6" fill="#8e8e8e"/><circle cx="-10.5" cy="-10" r="2.6" fill="#8e8e8e"/><circle cx="-4.2" cy="-21" r="2.4" fill="#8e8e8e"/><circle cx="-10.6" cy="-26" r="2.5" fill="#8e8e8e"/><circle cx="-3" cy="-40.5" r="2.6" fill="#8e8e8e"/><circle cx="5" cy="-40" r="2.4" fill="#8e8e8e"/><circle cx="11.5" cy="-34" r="2.2" fill="#8e8e8e"/><circle cx="-9.5" cy="-35" r="2.6" fill="#8e8e8e"/><circle cx="-10.8" cy="-17" r="2.4" fill="#8e8e8e"/><ellipse cx="4.5" cy="30" rx="10" ry="6.5" fill="#858585"/><circle cx="-5" cy="34" r="7.6" fill="#727272"/><circle cx="-9" cy="30" r="4.5" fill="#727272"/><ellipse cx="14.5" cy="34" rx="5.8" ry="7.6" fill="#727272"/><circle cx="17" cy="38.5" r="3.5" fill="#727272"/><ellipse cx="-6" cy="15.5" rx="6.8" ry="12.5" transform="rotate(-12 -6 15.5)" fill="#636363"/><ellipse cx="8.5" cy="22.5" rx="8.6" ry="5.6" fill="#b070d8"/><circle cx="12.5" cy="2.5" r="6.5" fill="#e391e3"/><circle cx="16.5" cy="-1" r="3.5" fill="#e391e3"/><circle cx="9.5" cy="-2" r="3.2" fill="#e391e3"/><circle cx="17" cy="6" r="3.2" fill="#e391e3"/><circle cx="6.5" cy="11.5" r="7.8" fill="#3c64b0"/><ellipse cx="-4.5" cy="0.5" rx="7.8" ry="6.8" fill="#3050c8"/></g>
<g transform="translate(434.0 758.5) rotate(90) scale(0.56)" filter="url(#bl03)"><ellipse cx="-14.5" cy="25.5" rx="7.2" ry="5" transform="rotate(30 -14.5 25.5)" fill="#e2e2e2"/><path d="M-7.4,-2 L-7.4,-27 Q-7.4,-36.6 1.5,-36.6 Q7.4,-36.4 8,-31" fill="none" stroke="#8e8e8e" stroke-width="9.8" stroke-linecap="round" stroke-linejoin="round"/><circle cx="-7.4" cy="-3" r="5.2" fill="#8e8e8e"/><circle cx="-7.6" cy="-8" r="5.6" fill="#8e8e8e"/><circle cx="-7.2" cy="-13" r="5.0" fill="#8e8e8e"/><circle cx="-7.6" cy="-18" r="5.5" fill="#8e8e8e"/><circle cx="-7.3" cy="-23" r="5.3" fill="#8e8e8e"/><circle cx="-7.0" cy="-28" r="5.6" fill="#8e8e8e"/><circle cx="-5.5" cy="-33" r="5.4" fill="#8e8e8e"/><circle cx="-1.5" cy="-36.5" r="5.6" fill="#8e8e8e"/><circle cx="3" cy="-37" r="5.3" fill="#8e8e8e"/><circle cx="6.5" cy="-35.5" r="5.0" fill="#8e8e8e"/><circle cx="8.2" cy="-31.5" r="4.6" fill="#8e8e8e"/><circle cx="-10.5" cy="-10" r="2.6" fill="#8e8e8e"/><circle cx="-4.2" cy="-21" r="2.4" fill="#8e8e8e"/><circle cx="-10.6" cy="-26" r="2.5" fill="#8e8e8e"/><circle cx="-3" cy="-40.5" r="2.6" fill="#8e8e8e"/><circle cx="5" cy="-40" r="2.4" fill="#8e8e8e"/><circle cx="11.5" cy="-34" r="2.2" fill="#8e8e8e"/><circle cx="-9.5" cy="-35" r="2.6" fill="#8e8e8e"/><circle cx="-10.8" cy="-17" r="2.4" fill="#8e8e8e"/><ellipse cx="4.5" cy="30" rx="10" ry="6.5" fill="#858585"/><circle cx="-5" cy="34" r="7.6" fill="#727272"/><circle cx="-9" cy="30" r="4.5" fill="#727272"/><ellipse cx="14.5" cy="34" rx="5.8" ry="7.6" fill="#727272"/><circle cx="17" cy="38.5" r="3.5" fill="#727272"/><ellipse cx="-6" cy="15.5" rx="6.8" ry="12.5" transform="rotate(-12 -6 15.5)" fill="#636363"/><ellipse cx="8.5" cy="22.5" rx="8.6" ry="5.6" fill="#b070d8"/><circle cx="12.5" cy="2.5" r="6.5" fill="#e391e3"/><circle cx="16.5" cy="-1" r="3.5" fill="#e391e3"/><circle cx="9.5" cy="-2" r="3.2" fill="#e391e3"/><circle cx="17" cy="6" r="3.2" fill="#e391e3"/><circle cx="6.5" cy="11.5" r="7.8" fill="#3c64b0"/><ellipse cx="-4.5" cy="0.5" rx="7.8" ry="6.8" fill="#3050c8"/></g>
<g transform="translate(506.0 780.3) rotate(90) scale(0.82)" filter="url(#bl03)"><ellipse cx="-14.5" cy="25.5" rx="7.2" ry="5" transform="rotate(30 -14.5 25.5)" fill="#e2e2e2"/><path d="M-7.4,-2 L-7.4,-27 Q-7.4,-36.6 1.5,-36.6 Q7.4,-36.4 8,-31" fill="none" stroke="#8e8e8e" stroke-width="9.8" stroke-linecap="round" stroke-linejoin="round"/><circle cx="-7.4" cy="-3" r="5.2" fill="#8e8e8e"/><circle cx="-7.6" cy="-8" r="5.6" fill="#8e8e8e"/><circle cx="-7.2" cy="-13" r="5.0" fill="#8e8e8e"/><circle cx="-7.6" cy="-18" r="5.5" fill="#8e8e8e"/><circle cx="-7.3" cy="-23" r="5.3" fill="#8e8e8e"/><circle cx="-7.0" cy="-28" r="5.6" fill="#8e8e8e"/><circle cx="-5.5" cy="-33" r="5.4" fill="#8e8e8e"/><circle cx="-1.5" cy="-36.5" r="5.6" fill="#8e8e8e"/><circle cx="3" cy="-37" r="5.3" fill="#8e8e8e"/><circle cx="6.5" cy="-35.5" r="5.0" fill="#8e8e8e"/><circle cx="8.2" cy="-31.5" r="4.6" fill="#8e8e8e"/><circle cx="-10.5" cy="-10" r="2.6" fill="#8e8e8e"/><circle cx="-4.2" cy="-21" r="2.4" fill="#8e8e8e"/><circle cx="-10.6" cy="-26" r="2.5" fill="#8e8e8e"/><circle cx="-3" cy="-40.5" r="2.6" fill="#8e8e8e"/><circle cx="5" cy="-40" r="2.4" fill="#8e8e8e"/><circle cx="11.5" cy="-34" r="2.2" fill="#8e8e8e"/><circle cx="-9.5" cy="-35" r="2.6" fill="#8e8e8e"/><circle cx="-10.8" cy="-17" r="2.4" fill="#8e8e8e"/><ellipse cx="4.5" cy="30" rx="10" ry="6.5" fill="#858585"/><circle cx="-5" cy="34" r="7.6" fill="#727272"/><circle cx="-9" cy="30" r="4.5" fill="#727272"/><ellipse cx="14.5" cy="34" rx="5.8" ry="7.6" fill="#727272"/><circle cx="17" cy="38.5" r="3.5" fill="#727272"/><ellipse cx="-6" cy="15.5" rx="6.8" ry="12.5" transform="rotate(-12 -6 15.5)" fill="#636363"/><ellipse cx="8.5" cy="22.5" rx="8.6" ry="5.6" fill="#b070d8"/><circle cx="12.5" cy="2.5" r="6.5" fill="#e391e3"/><circle cx="16.5" cy="-1" r="3.5" fill="#e391e3"/><circle cx="9.5" cy="-2" r="3.2" fill="#e391e3"/><circle cx="17" cy="6" r="3.2" fill="#e391e3"/><circle cx="6.5" cy="11.5" r="7.8" fill="#3c64b0"/><ellipse cx="-4.5" cy="0.5" rx="7.8" ry="6.8" fill="#3050c8"/></g>
<path d="M556,899 C558,890 560,878 566,870 C572,862 580,856 586,851" fill="none" stroke="#9a9794" stroke-width="2.6"/>
<path d="M556,899 C558,890 560,878 566,870 C572,862 580,856 586,851" fill="none" stroke="#dddad7" stroke-width="1.4" stroke-dasharray="1.6 1.4"/>
<path d="M607,841.5 C614,840 621,840 629,840.5" fill="none" stroke="#9a9794" stroke-width="2.6"/>
<path d="M607,841.5 C614,840 621,840 629,840.5" fill="none" stroke="#dddad7" stroke-width="1.4" stroke-dasharray="1.6 1.4"/>
<path d="M650,852 C658,858 666,866 680,873.5" fill="none" stroke="#9a9794" stroke-width="2.6"/>
<path d="M650,852 C658,858 666,866 680,873.5" fill="none" stroke="#dddad7" stroke-width="1.4" stroke-dasharray="1.6 1.4"/>
<circle cx="549.4" cy="873.7" r="7.8" fill="#cbc8c5"/><circle cx="562.2" cy="873.7" r="7.8" fill="#d3d0cd"/><circle cx="548.0" cy="882.6" r="7.8" fill="#cfccc9"/><circle cx="563.6" cy="882.6" r="7.8" fill="#c9c6c3"/><circle cx="550.8" cy="889.4" r="7.8" fill="#d5d2cf"/><circle cx="560.8" cy="889.7" r="7.8" fill="#ccc9c6"/><circle cx="555.8" cy="881.2" r="8.5" fill="#d8d5d2"/><path d="M541.9,874.3 Q555.8,866.3 569.7,872.3" fill="none" stroke="#66625e" stroke-width="1.0" stroke-dasharray="1.6 1.0" transform="rotate(-28 555.8 881.2)"/><path d="M541.9,881.0 Q555.8,873.0 569.7,879.0" fill="none" stroke="#66625e" stroke-width="1.0" stroke-dasharray="1.6 1.0" transform="rotate(-28 555.8 881.2)"/><path d="M541.9,887.7 Q555.8,879.7 569.7,885.7" fill="none" stroke="#66625e" stroke-width="1.0" stroke-dasharray="1.6 1.0" transform="rotate(-28 555.8 881.2)"/><path d="M541.9,894.5 Q555.8,886.5 569.7,892.5" fill="none" stroke="#66625e" stroke-width="1.0" stroke-dasharray="1.6 1.0" transform="rotate(-28 555.8 881.2)"/><ellipse cx="555.8" cy="881.2" rx="14.2" ry="16.0" fill="none" stroke="#8d8986" stroke-width="0.7" stroke-dasharray="2 1.2"/>
<circle cx="589.9" cy="832.6" r="7.9" fill="#cbc8c5"/><circle cx="602.7" cy="832.6" r="7.9" fill="#d3d0cd"/><circle cx="588.4" cy="841.6" r="7.9" fill="#cfccc9"/><circle cx="604.2" cy="841.6" r="7.9" fill="#c9c6c3"/><circle cx="591.3" cy="848.4" r="7.9" fill="#d5d2cf"/><circle cx="601.3" cy="848.7" r="7.9" fill="#ccc9c6"/><circle cx="596.3" cy="840.2" r="8.6" fill="#d8d5d2"/><path d="M582.3,833.2 Q596.3,825.2 610.3,831.2" fill="none" stroke="#66625e" stroke-width="1.0" stroke-dasharray="1.6 1.0" transform="rotate(-28 596.3 840.2)"/><path d="M582.3,840.0 Q596.3,832.0 610.3,838.0" fill="none" stroke="#66625e" stroke-width="1.0" stroke-dasharray="1.6 1.0" transform="rotate(-28 596.3 840.2)"/><path d="M582.3,846.8 Q596.3,838.8 610.3,844.8" fill="none" stroke="#66625e" stroke-width="1.0" stroke-dasharray="1.6 1.0" transform="rotate(-28 596.3 840.2)"/><path d="M582.3,853.5 Q596.3,845.5 610.3,851.5" fill="none" stroke="#66625e" stroke-width="1.0" stroke-dasharray="1.6 1.0" transform="rotate(-28 596.3 840.2)"/><ellipse cx="596.3" cy="840.2" rx="14.3" ry="16.2" fill="none" stroke="#8d8986" stroke-width="0.7" stroke-dasharray="2 1.2"/>
<circle cx="634.6" cy="831.3" r="7.5" fill="#cbc8c5"/><circle cx="646.8" cy="831.3" r="7.5" fill="#d3d0cd"/><circle cx="633.2" cy="839.8" r="7.5" fill="#cfccc9"/><circle cx="648.2" cy="839.8" r="7.5" fill="#c9c6c3"/><circle cx="635.9" cy="846.3" r="7.5" fill="#d5d2cf"/><circle cx="645.5" cy="846.6" r="7.5" fill="#ccc9c6"/><circle cx="640.7" cy="838.5" r="8.2" fill="#d8d5d2"/><path d="M627.4,832.0 Q640.7,824.0 654.0,830.0" fill="none" stroke="#66625e" stroke-width="1.0" stroke-dasharray="1.6 1.0" transform="rotate(-28 640.7 838.5)"/><path d="M627.4,838.4 Q640.7,830.4 654.0,836.4" fill="none" stroke="#66625e" stroke-width="1.0" stroke-dasharray="1.6 1.0" transform="rotate(-28 640.7 838.5)"/><path d="M627.4,844.9 Q640.7,836.9 654.0,842.9" fill="none" stroke="#66625e" stroke-width="1.0" stroke-dasharray="1.6 1.0" transform="rotate(-28 640.7 838.5)"/><path d="M627.4,851.3 Q640.7,843.3 654.0,849.3" fill="none" stroke="#66625e" stroke-width="1.0" stroke-dasharray="1.6 1.0" transform="rotate(-28 640.7 838.5)"/><ellipse cx="640.7" cy="838.5" rx="13.6" ry="15.4" fill="none" stroke="#8d8986" stroke-width="0.7" stroke-dasharray="2 1.2"/>
<g transform="translate(577.5 825.4) rotate(90) scale(1.1)" filter="url(#bl03)"><ellipse cx="-14.5" cy="25.5" rx="7.2" ry="5" transform="rotate(30 -14.5 25.5)" fill="#dadada"/><path d="M-7.4,-2 L-7.4,-27 Q-7.4,-36.6 1.5,-36.6 Q7.4,-36.4 8,-31" fill="none" stroke="#777777" stroke-width="9.8" stroke-linecap="round" stroke-linejoin="round"/><circle cx="-7.4" cy="-3" r="5.2" fill="#777777"/><circle cx="-7.6" cy="-8" r="5.6" fill="#777777"/><circle cx="-7.2" cy="-13" r="5.0" fill="#777777"/><circle cx="-7.6" cy="-18" r="5.5" fill="#777777"/><circle cx="-7.3" cy="-23" r="5.3" fill="#777777"/><circle cx="-7.0" cy="-28" r="5.6" fill="#777777"/><circle cx="-5.5" cy="-33" r="5.4" fill="#777777"/><circle cx="-1.5" cy="-36.5" r="5.6" fill="#777777"/><circle cx="3" cy="-37" r="5.3" fill="#777777"/><circle cx="6.5" cy="-35.5" r="5.0" fill="#777777"/><circle cx="8.2" cy="-31.5" r="4.6" fill="#777777"/><circle cx="-10.5" cy="-10" r="2.6" fill="#777777"/><circle cx="-4.2" cy="-21" r="2.4" fill="#777777"/><circle cx="-10.6" cy="-26" r="2.5" fill="#777777"/><circle cx="-3" cy="-40.5" r="2.6" fill="#777777"/><circle cx="5" cy="-40" r="2.4" fill="#777777"/><circle cx="11.5" cy="-34" r="2.2" fill="#777777"/><circle cx="-9.5" cy="-35" r="2.6" fill="#777777"/><circle cx="-10.8" cy="-17" r="2.4" fill="#777777"/><ellipse cx="4.5" cy="30" rx="10" ry="6.5" fill="#6a6a6a"/><circle cx="-5" cy="34" r="7.6" fill="#3e3e3e"/><circle cx="-9" cy="30" r="4.5" fill="#3e3e3e"/><ellipse cx="14.5" cy="34" rx="5.8" ry="7.6" fill="#3e3e3e"/><circle cx="17" cy="38.5" r="3.5" fill="#3e3e3e"/><ellipse cx="-6" cy="15.5" rx="6.8" ry="12.5" transform="rotate(-12 -6 15.5)" fill="#3a3a3a"/><ellipse cx="8.5" cy="22.5" rx="8.6" ry="5.6" fill="#a24fd4"/><circle cx="12.5" cy="2.5" r="6.5" fill="#e08ce0"/><circle cx="16.5" cy="-1" r="3.5" fill="#e08ce0"/><circle cx="9.5" cy="-2" r="3.2" fill="#e08ce0"/><circle cx="17" cy="6" r="3.2" fill="#e08ce0"/><circle cx="6.5" cy="11.5" r="7.8" fill="#1f4aa0"/><ellipse cx="-4.5" cy="0.5" rx="7.8" ry="6.8" fill="#1a32c4"/></g>
<text x="621.3" y="874.7" font-size="10.1" font-weight="bold" fill="#1c3596" text-anchor="middle" stroke="#1c3596">higher affinity</text>
<text x="621" y="886.2" font-size="10.1" font-weight="bold" fill="#1c3596" text-anchor="middle" stroke="#1c3596">for chromatin</text>
</svg></body></html>
